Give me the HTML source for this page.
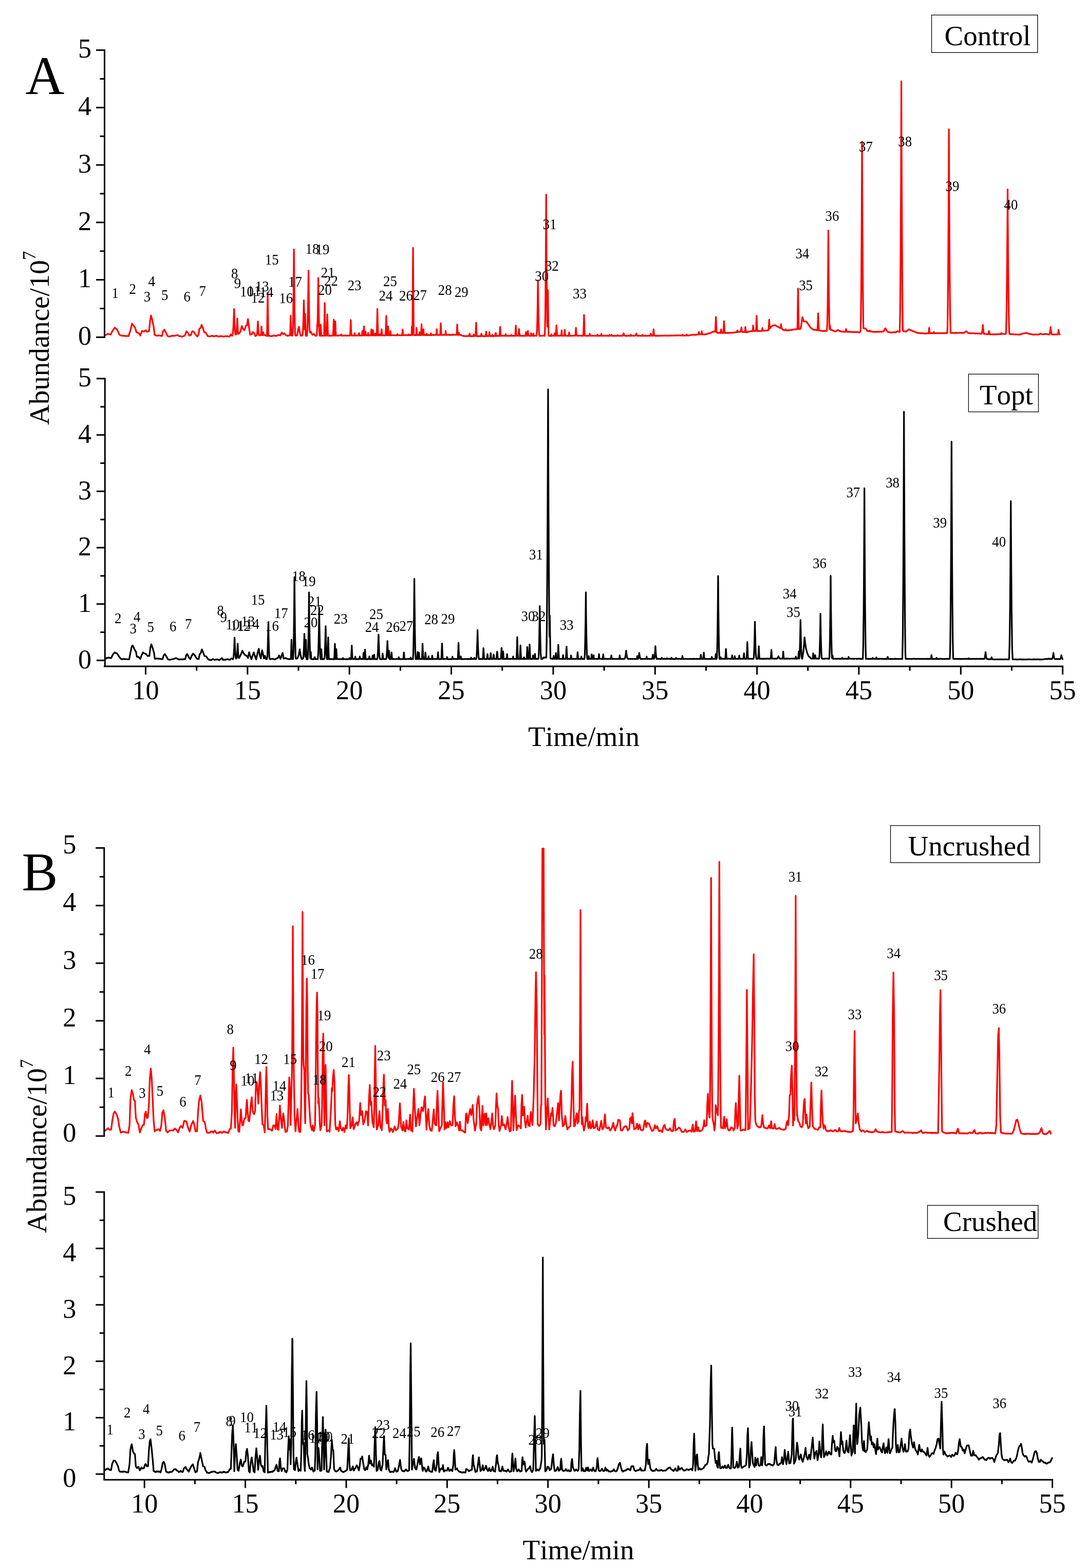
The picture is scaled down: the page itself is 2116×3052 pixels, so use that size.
<!DOCTYPE html>
<html lang="en"><head><meta charset="utf-8"><title>Chromatograms</title>
<style>
html,body{margin:0;padding:0;background:#fff;}
body{width:2116px;height:3052px;overflow:hidden;}
svg{display:block;}
text{font-kerning:none;font-family:'Liberation Serif', 'DejaVu Serif', serif;fill:#000;}
.tk{font-size:53.8px;}
.ti{font-size:55px;}
.pl{font-size:105px;}
.lg{font-size:55px;}
.pk{font-size:29px;text-anchor:middle;}
</style></head>
<body>
<svg xmlns="http://www.w3.org/2000/svg" width="2116" height="3052" viewBox="0 0 2116 3052">
<rect x="0" y="0" width="2116" height="3052" fill="#fff"/>
<path d="M204.5,652.3 205.5,652 206.5,651.7 207.5,651 208.5,650.6 209.5,650.3 210,649.8 210.5,650.1 211.5,650.3 212.5,650.6 213.5,650.4 214.5,650.7 215.5,650.7 215.5,651.2 216.5,649.1 217.5,646.6 218.5,645.1 218.8,644.5 219.5,643.3 220.5,641.9 221.5,640.3 222.5,638.8 223.3,638 223.5,637.8 224.5,638.7 225.5,639.5 226.5,640.2 227.5,641.2 228.1,641.7 228.5,642.9 229.5,644.9 230.5,647.2 231.5,649.3 232.5,651.6 232.6,651.7 233.5,651.9 234.5,652.7 235.5,653 236.5,653.3 237.5,653.6 237.6,653.4 238.5,653.4 239.5,653.5 240.5,653.4 241.5,653.9 242.5,653.7 243.5,654 244.5,653.8 245.5,654.2 246.5,654.2 247.5,653.8 248.5,654 249.5,654.4 250.1,654.2 250.5,653.4 251.5,650.2 252.5,647.1 253.1,645.5 253.5,644.2 254.5,639.9 255.5,635.9 256.5,632.1 257.1,630 257.5,630.4 258.5,631.5 259.5,633.1 260.5,634.6 260.9,635.2 261.5,636.3 262.5,637 263.2,638 263.5,639.1 264.5,642.5 265.5,646.3 265.7,646.5 266.5,647.1 267.5,647.2 268.5,647.8 269.5,648 270.2,648.3 270.5,649.2 271.5,650.6 272.5,651.8 273.2,653.2 273.5,652 274.5,649.4 275.5,647 276.4,644.3 276.5,644 277.5,644.9 278.5,644.7 279.5,645.1 280.2,645.6 280.5,645.1 281.5,644.3 282.5,643.4 283.5,642.7 283.5,643 284.5,643.8 285.5,645.1 286.5,645.9 286.5,645.9 287.5,645.8 288.5,645 289.5,644.6 290.2,644.4 290.5,641.1 291.5,630.3 292,625.7 292.5,622.7 293.5,616.7 294,614 294.5,616.1 295.5,619.7 296.5,622.7 296.5,623.2 297.5,628.2 298.5,633 299,635.4 299.5,639.3 300.5,647.4 301,652 301.5,651.8 302.5,652.5 303.5,652.6 304.5,653.4 305.3,653.5 305.5,653.3 306.5,653.2 307.5,653.4 308.5,652.9 309.5,652.9 310.3,653 310.5,653.2 311.5,653.4 312.5,653.4 313.5,654 314.5,653.9 315.3,653.9 315.5,653.2 316.5,648.9 317.3,645.2 317.5,645 318.5,643.6 319.5,642.2 319.8,641.5 320.5,642.8 321.5,644.8 322.5,646.5 322.8,646.8 323.5,648.4 324.5,650.7 325.5,652.7 326.1,654 326.5,654 327.5,654.7 328.5,654.8 329.5,655.1 330.3,654.7 330.5,655 331.5,654.6 332.5,654.5 333.5,653.9 334.5,654 335.3,653.2 335.5,653.5 336.5,653.6 337.5,653.7 338.5,653.6 339.5,653.6 340.4,653.7 340.5,653.7 341.5,653.1 342.5,653 343.5,652.8 344.5,652.5 345.4,651.9 345.5,652.2 346.5,652.9 347.5,653.3 348.5,653.9 349.1,654.2 349.5,654.3 350.5,654.5 351.5,654.3 352.5,654.7 353.5,655.1 354.5,655.1 355.4,655.1 355.5,654.9 356.5,654.6 357.5,654.1 358.5,653.6 359.5,653.4 359.9,652.7 360.5,651.5 361.5,648.3 362.5,645.9 362.9,644.7 363.5,645.2 364.5,646.6 365.5,647.5 365.9,648 366.5,649.5 367.5,651.3 368.4,653.2 368.5,653.3 369.5,653 370.5,652.2 371.5,651.6 371.7,652 372.5,649.5 373.5,646.6 374.2,644.9 374.5,644.7 375.5,645.3 376.5,645.4 377.4,645.9 377.5,646.2 378.5,648 379.5,649.6 380.4,650.9 380.5,651.1 381.5,652 382.5,652.9 383.5,654.2 384.2,655.2 384.5,654.7 385.5,652.8 386.5,651.1 386.7,650.3 387.5,643.7 388,639.9 388.5,639.5 389.5,638.9 390.5,638.4 390.5,638.4 391.5,635.2 392.5,632.1 392.5,632.4 393.5,635 394.5,637.2 395,638.2 395.5,639.9 396.5,643.7 397.5,646.4 397.5,646.8 398.5,647 399.5,647.1 400.5,647.6 401.5,649 402.5,650.8 403.5,652.8 404.3,653.9 404.5,654.5 405.5,654.3 406.5,654.5 407.5,654.6 408,655.1 408.5,654.8 409.5,654.6 410.5,654.3 411.5,654.1 412.5,653.9 413,653.6 413.5,653.5 414.5,654.1 415.5,654.3 416.5,654.6 416.8,655 417.5,654.8 418.5,654.1 419.5,653.8 420.5,653.4 420.6,653.6 421.5,653.8 422.5,654.1 423.5,654.5 424.5,654.6 425.5,655.1 425.6,655.2 426.5,654.6 427.5,655 428.5,654.7 429.5,654.2 430.5,654.2 430.6,654.3 431.5,654.6 432.5,654.5 433.5,654.7 434.5,655.1 435.5,655.2 435.6,655.3 436.5,654.8 437.5,654.8 438.5,654.4 439.5,654.5 440.5,654.4 440.6,654.3 441.5,654.5 442.5,654.3 443.5,654.8 444.5,655 445.5,655.1 446.5,655 446.9,655.2 447.5,653.7 448.5,652.3 449.4,650.7 449.5,650.6 450.5,651.9 451.4,653.4 451.5,653.5 452.3,653.4 452.5,653.1 453.3,649.2 453.5,647.8 454.1,638.1 454.5,631.8 454.8,624.5 455.3,611.5 455.5,606.1 455.6,601.4 456,611.4 456.5,624.7 456.5,625.6 457.1,638.6 457.5,644.3 457.9,649.7 458.5,651.3 458.9,651.4 459.1,650.8 459.5,650.8 460,650.8 460.5,645.8 460.7,644 461.2,634.8 461.5,629.1 461.6,626.4 461.9,619.8 462.2,626.1 462.5,632.9 462.6,634.9 463.1,644.1 463.5,647.9 463.8,649.8 464.5,649.7 464.7,649.4 465.2,649.3 465.5,648.6 466.5,647.6 467.5,646.3 468.2,645.5 468.5,643.8 469.5,640 470.5,635.5 470.7,634.6 471.5,636.8 472.5,638.9 473.2,640.4 473.5,640.9 474.5,641.5 475.5,642.8 475.7,642.9 476.5,640.9 477.5,637.9 478.5,634.6 478.7,634.2 479.5,633.5 480.5,633 480.7,633.1 481.5,628.5 482.5,622.4 482.7,621.1 483.5,627.4 484.5,635.5 484.5,635.9 485.5,642 486.5,648.9 487,651.4 487.5,651.3 488.5,651 489.5,650.9 490.2,650.4 490.5,649.8 491.5,647.8 492,646.5 492.5,647.1 493.5,647.3 494.5,648 494.5,647.9 495.5,650.3 496.5,653 497,654.2 497.5,653.9 498.5,653.4 499.2,653.1 499.5,652.8 500.1,651.4 500.5,648.4 500.8,645.7 501.3,638 501.5,635.2 501.7,630.9 502,625.7 502.3,630.7 502.5,635 502.7,638.1 503.2,645.8 503.5,648.1 503.9,651.5 504.5,652.8 504.8,652.4 505.5,652.8 506.5,652.7 507.5,652.1 507.7,652.2 508.1,649.6 508.4,644.7 508.5,643.3 508.7,641 508.9,637.5 509,635.7 509.2,637.4 509.4,640.7 509.5,642.9 509.6,644.5 510,649.3 510.4,652.2 510.5,652.4 511.5,652.3 511.6,651.8 511.9,652 512.1,650.6 512.3,648.8 512.4,647.7 512.5,646.8 512.5,646.5 512.6,647.3 512.8,648.6 512.9,650.5 513.2,651.9 513.4,651.9 513.5,651.7 514.5,651.6 515.3,651.6 515.5,652.1 516.5,652.7 517.5,653.3 518.3,653.2 518.5,653.2 519.5,653.8 519.7,653.6 520.1,632.8 520.4,611.5 520.5,607.6 520.7,593.3 520.9,578.5 521,569.3 521.2,578.6 521.4,593.1 521.5,600.7 521.7,611.1 522,632.9 522.4,653.9 522.5,653.7 523.5,653.7 524.5,653.7 525.5,654 526.5,653.8 527.5,654.4 528.3,654.4 528.5,654.3 529.5,654.2 530.5,653.8 531.5,653.4 532.5,653.3 533.3,653 533.5,653.3 534.5,653.3 535.5,653.2 536.5,653.7 537.5,653.8 538.4,653.9 538.5,653.8 539.5,653.1 540.5,652.8 541.5,652.3 542.1,651.8 542.5,652 543.5,652.4 544.5,652.5 545.5,653 545.9,652.7 546.5,651.4 547.5,649.2 548.4,646.9 548.5,647.3 549.5,648.8 550.5,650.1 550.9,650.3 551.5,650.3 552.5,649.4 553.4,648.6 553.5,649 554.5,650.1 555.5,651.3 555.9,651.7 556.5,652.3 557.5,652.6 558.5,653.1 559.5,653.6 559.6,653.8 560.5,653.1 561.5,653.3 562.5,653.2 563.4,652.8 563.5,652.9 564.5,652.7 564.6,652.8 565,644 565.3,633.7 565.5,627.8 565.6,625.6 565.8,618.7 565.9,614.3 566,619 566.2,625.4 566.5,633.6 566.5,634 566.9,644.3 567.3,652.7 567.5,653 568.5,653.1 569.4,652.7 569.5,653.2 570.2,638.8 570.5,628.4 570.9,602.9 571.5,559.2 571.5,558.3 571.9,517.5 572.2,485.4 572.5,517.6 572.5,522 572.9,559.2 573.4,602.9 573.5,608.1 574.1,639.1 574.5,650 574.9,652.9 575.5,653.1 576.5,652.9 577.5,652.7 578.5,652.8 578.5,652.4 579.5,646.2 580.5,640.6 580.5,640.2 581,639.3 581.3,638.3 581.5,637.2 581.5,637.7 581.7,637.1 581.9,636.1 582,636.4 582,636.5 582.1,637.3 582.3,638.7 582.5,639.7 582.5,640 582.7,641.9 583.1,644.1 583.5,646.7 583.5,647.1 584.5,650.4 585.5,653.5 585.5,653.2 586.5,653.4 587.5,653 588,652.8 588.5,652.7 588.7,653 589.5,648.5 589.5,647.9 590.2,633.2 590.5,625.2 590.8,614.9 591.2,598 591.5,584.6 591.5,585.8 591.8,597.6 592.2,615.4 592.5,626.9 592.6,630.7 592.7,633 593,640.9 593.4,632.3 593.4,631.2 593.5,628 593.6,622.5 593.9,615.2 594,610.7 594.1,615.4 594.2,619.8 594.3,622.7 594.5,629.1 594.6,631.9 594.9,643 595.3,653.7 595.5,653.6 596.5,653.7 597.5,653.2 597.5,653.2 597.5,653.3 598.4,642 598.5,640.3 599.2,614.7 599.5,599.3 599.8,582 600.2,550.2 600.5,530.8 600.5,526.6 600.9,550.3 601.3,582 601.5,593.5 601.9,615.1 602.5,637.2 602.7,642.1 603.5,647.3 603.6,646.8 604.5,645.8 605.1,645.7 605.5,646.4 606.5,648.6 607.5,650.4 608.1,651.7 608.5,651.4 609.5,651.1 610.5,650.3 611.3,650.1 611.5,650.5 612.5,651.5 613.5,653 613.8,653.6 614.5,653.7 615.5,653.4 616.5,653.4 616.7,653.2 616.8,650.8 617,647.5 617.2,641.6 617.4,636.9 617.5,633.2 617.6,630.7 617.7,632.5 617.7,633.1 617.8,636.7 618,633.5 618.2,625.1 618.4,619.1 618.5,612.7 618.9,590.3 619.3,562.7 619.5,548.8 619.6,540.8 619.9,561.9 620.3,590.4 620.5,602.4 620.8,619.2 621.5,642.8 621.5,643.4 622.4,653.7 622.5,653.7 623.2,653.7 623.5,648.3 623.5,648.2 623.8,642.4 624.1,637.7 624.2,634.1 624.4,632 624.5,634.4 624.5,634.4 624.7,637.7 624.9,642.4 625.2,647.9 625.5,652.7 625.6,653.3 626.5,653.2 627.5,653.4 628.5,653.6 629.5,653.4 630.5,653.6 630.8,653.4 631.2,637.4 631.5,622.6 631.5,621.6 631.8,607.5 632,596.8 632.1,589.6 632.3,597.1 632.5,607.7 632.5,609.5 632.7,621.5 633.1,637.8 633.5,653.1 633.5,653.4 634.5,653.5 635.5,653.1 635.8,653.1 636.2,643 636.5,633.8 636.5,632.3 636.8,623.7 637,616.1 637.1,611.9 637.3,616.6 637.5,623.2 637.5,623.9 637.8,632.5 638.1,643 638.5,653.5 639.5,653.3 640.5,653.2 641.5,653.6 642.5,653.4 643.5,653.3 644.5,653.3 645.5,653.4 646.5,653.4 647.5,653.5 648.3,653.2 648.5,650.6 648.7,645.5 649.1,637.6 649.3,630.7 649.5,626.5 649.5,625.5 649.7,622 649.8,625.4 650,630.6 650.3,637.5 650.5,642.9 650.6,645.4 651,653.2 651.5,653 651.5,653.4 651.8,646.7 652.1,639.3 652.4,633.1 652.5,630.1 652.6,628.6 652.7,625.3 652.8,628.8 653,633 653.2,639.2 653.5,645.7 653.5,646.5 653.9,653.4 654.5,653 655.5,653 656.5,653.2 657.5,653.3 658.5,653.5 659.5,652.9 660.5,653 661.5,653 662.5,653 663.1,653 663.3,653 663.5,652.4 663.5,652.1 663.7,651.5 663.9,651.1 664,650.8 664,651.4 664.2,651.6 664.4,652.3 664.5,652.8 664.6,652.8 664.9,653 665.5,653.4 666.5,653.4 667.5,653.1 668.5,653.2 669.5,653.4 670.5,653.1 671.5,653 672.5,652.8 673.5,653.4 674.5,653.3 675.5,653 676.5,653.1 677.5,653.1 678.5,652.9 679.5,653.4 680.5,653.2 681.5,652.9 681.5,652.8 681.9,645.9 682.2,637.9 682.5,631.6 682.5,630.4 682.6,626.4 682.8,622.8 682.9,626.3 683.1,631.5 683.3,638 683.5,643.6 683.6,645.9 684,653.1 684.5,653.3 685.5,652.9 686.5,653.1 687.5,652.8 688.5,653.2 689.4,652.7 689.5,653.2 689.6,652.5 689.9,651.2 690,649.6 690.2,648.9 690.3,648.6 690.4,648.8 690.5,649.9 690.7,650.9 690.9,652.5 691.2,653.1 691.5,653.2 692.5,652.9 693.5,653.2 694.5,652.9 695.5,653.2 696.5,652.7 697.5,653.2 697.8,652.8 698.2,652.2 698.5,651 698.5,650.7 698.8,650.1 698.9,648.9 699,648.4 699.2,648.8 699.4,649.8 699.5,650.6 699.6,651.1 699.9,652.1 700.2,653.1 700.5,652.7 701.5,652.9 702.5,652.9 703.5,653.2 704.4,653.1 704.5,652.9 704.7,650.9 704.9,648.7 705.1,646.9 705.2,645.1 705.3,644.3 705.4,645.2 705.5,646.1 705.5,647.1 705.7,649 705.9,650.9 706.2,653 706.5,652.8 707.2,652.8 707.5,650.5 707.6,648.9 708,644.3 708.2,640.5 708.4,637.5 708.5,636.4 708.6,635.3 708.7,637.7 708.9,640.4 709.2,644.7 709.5,648.8 709.5,649.1 709.9,652.8 710.5,653.1 710.7,652.6 711,651.2 711.2,649.2 711.4,647.9 711.5,646.5 711.5,646.1 711.6,645.4 711.7,646.6 711.8,647.7 712,649.2 712.2,651.3 712.5,652.7 712.5,652.6 713.5,652.8 714.5,652.6 715.5,653.1 715.7,652.8 716,652.1 716.2,650.8 716.4,649.7 716.5,648.8 716.6,647.9 716.7,648.5 716.8,649.5 717,650.4 717.2,652 717.5,653 717.5,653.1 718.5,653 719.5,652.9 720.5,652.9 721.5,652.5 721.8,652.7 722.1,650.3 722.4,647.3 722.5,645.5 722.6,644.5 722.8,642.4 722.9,641.2 723,642.5 723.1,644.5 723.3,647 723.5,649.4 723.6,650.5 723.9,652.8 724.5,652.7 725.1,652.8 725.4,650.5 725.5,649.6 725.6,648.2 725.9,645.6 726,643.8 726.1,642.7 726.2,643.5 726.4,645.8 726.5,647 726.6,647.8 726.9,650.5 727.2,652.6 727.5,652.8 728.5,652.9 729.5,652.7 729.5,653 729.7,652.4 730,651.3 730.1,650.2 730.3,650 730.4,649 730.5,650 730.5,649.9 730.6,650.5 730.8,651.4 731,652.3 731.3,653 731.5,653 732.5,652.9 733.3,652.8 733.5,646.9 733.7,640.5 734,626.8 734.3,615.8 734.5,606.8 734.6,601 734.8,607 735,615.3 735.2,627.2 735.5,636.9 735.6,639.9 736,652.5 736.5,653 737.5,653 738.4,652.8 738.5,652.6 738.6,652.8 738.8,652.1 739,651.3 739.1,650.9 739.1,650.7 739.2,650.5 739.3,651.2 739.5,652 739.5,651.8 739.7,652.6 739.9,652.7 740.5,652.5 741.5,652.7 741.9,652.5 742.2,650.4 742.4,647.1 742.5,646.4 742.6,644.3 742.8,642.5 742.9,640.8 743,642.6 743.2,644.5 743.4,647.2 743.5,648.6 743.6,650.4 744,652.8 744.5,652.8 745.5,652.8 746.5,652.6 747.5,652.9 748.5,652.8 749.5,652.9 750.5,652.6 750.6,652.6 751,643.9 751.3,634.2 751.5,628.5 751.6,625.6 751.8,619.2 751.9,614.9 752.1,619.1 752.3,625.4 752.5,632.9 752.5,634.2 752.9,644 753.3,652.7 753.5,652.8 754.4,652.5 754.5,652.1 754.7,648.7 755,644.3 755.2,640.4 755.3,637.6 755.4,635.4 755.5,636.4 755.5,637.5 755.7,640.5 755.9,644.2 756.2,648.9 756.5,652.5 756.5,652.4 757.5,652.3 758.5,652.8 758.9,652.9 759.2,651.3 759.5,649 759.5,648.6 759.7,647 759.8,645.1 760,644.4 760.1,645.4 760.2,647 760.4,648.5 760.5,649.7 760.7,651 761,652.6 761.5,652.8 762.5,652.3 763.5,652.4 764.5,652.4 765.5,652.4 766.5,652.3 767.5,652.8 768.5,652.7 769.5,652.5 770.5,652.4 771.5,652.6 772.5,652.2 772.6,652.2 772.9,652.7 773.1,651.5 773.3,650.8 773.4,650.4 773.5,650 773.5,649.8 773.6,650 773.7,650.7 773.9,651.8 774.1,652.7 774.4,652.3 774.5,652.7 775.5,652.4 776.5,652.5 777.5,652.3 778.5,652.7 779.5,652.8 780.5,652.3 781.5,652.5 782.5,652.2 782.7,652.7 783,650.1 783.3,646.9 783.5,644.6 783.6,642.3 783.8,641.2 783.9,642.5 784,644.6 784.2,646.9 784.5,650.5 784.8,652.7 785.5,652.4 786.5,652.2 787.5,652.2 788.5,652.3 789.5,652.5 790.5,652.2 791.5,652.2 792.5,652.2 793.5,652.5 794.5,652.5 794.8,652.3 795,652.5 795.2,652.2 795.4,651.4 795.5,650.7 795.5,650.5 795.5,650.7 795.6,650.9 795.7,651.2 795.9,652.1 796.1,652.1 796.3,652.6 796.5,652.3 797.5,652.4 798.5,652.4 799.5,652.1 800.5,652.4 800.9,652.2 801.2,648.9 801.4,644.6 801.5,642 801.6,640.4 801.7,637.7 801.8,635.4 801.9,637.3 802,640.5 802.2,644.2 802.4,649.3 802.5,650.5 802.7,652 803.1,611 803.5,567.8 803.5,560.9 803.7,531.2 803.9,502.7 804.1,482.4 804.2,502.7 804.4,531 804.5,544.6 804.7,567.7 805,611.1 805.4,652.3 805.5,652.3 806.5,652.5 807.5,652.4 808.5,652.3 809.5,652.5 809.6,652.1 810,649.8 810.3,645.4 810.5,642.8 810.5,642.1 810.7,639.6 810.8,638.2 811,639.9 811.1,642.5 811.4,645.5 811.5,647.4 811.7,649.4 812,652.3 812.5,652.2 813.5,652 814.5,652.3 815.5,652.4 815.9,652.3 816.2,652 816.4,649.9 816.5,649.4 816.6,648.3 816.8,647.5 816.8,646.7 816.9,647.4 817.1,648.5 817.2,650.3 817.5,651.5 817.5,652.2 817.7,652.3 818.5,652.2 819.4,652.4 819.5,652 819.8,647.7 820.1,642.2 820.3,637.2 820.5,633.6 820.5,633.4 820.6,631.2 820.7,633.5 820.9,637.5 821.1,642 821.4,648 821.5,648.7 821.8,652 822.5,652 823.3,652.3 823.5,651.9 823.6,650.6 823.9,646.9 824.1,644.4 824.3,642.2 824.4,640.8 824.5,642.7 824.5,642.6 824.6,644.4 824.8,647.3 825.1,650.7 825.4,652 825.5,652.1 826.5,652.3 827.5,651.9 828.5,652 829.5,652.4 829.7,651.9 830,652.1 830.2,651.2 830.4,650.4 830.5,649.6 830.5,649.4 830.6,649.5 830.7,649.9 830.9,650.6 831,651.2 831.3,652 831.5,652.2 831.5,652 832.5,652.1 833.5,652.4 834.5,652 835.5,652 836.5,652.4 837.5,652.2 838,651.8 838.3,652 838.5,651.1 838.5,650.6 838.7,649.8 838.8,649.1 838.9,648.7 839,649.1 839.1,650.1 839.3,650.9 839.5,652 839.5,652.3 839.8,652 840.5,652.2 841.5,651.9 842.5,652 843.5,651.9 844.5,652.1 845.5,651.8 846.5,651.9 847.5,651.9 848.5,652 849.1,651.9 849.4,650.3 849.5,649.9 849.7,647.3 849.9,644.7 850.1,642.2 850.2,640.9 850.3,642.1 850.4,644.6 850.5,645.2 850.6,647.1 850.9,650 851.2,651.8 851.5,651.9 852.5,651.9 853.5,652.2 854.5,652.1 855.5,651.8 856.5,651.9 856.7,651.8 857.1,647.7 857.4,641.2 857.5,639.3 857.6,636.2 857.8,632.3 857.9,629 858.1,632 858.2,636 858.5,641.1 858.5,641.8 858.8,647.3 859.1,652.1 859.5,652 860.5,651.7 861.5,651.9 862.5,651.8 863.5,651.7 864.5,651.7 865.5,652 866.4,651.6 866.5,651.8 866.7,651.1 867,648.9 867.2,646.6 867.4,645.4 867.5,644.1 867.5,644.7 867.6,645.3 867.7,646.6 867.9,648.6 868.2,651.1 868.5,652 868.5,651.8 869.5,651.8 870.5,652.1 871.5,651.7 872.5,651.7 873.5,651.8 873.7,651.7 874,651.6 874.1,651.6 874.3,651.8 874.4,651.3 874.5,651.2 874.5,651.3 874.6,651.1 874.7,651.8 874.8,652.1 875,651.7 875.2,652 875.5,652 876.5,652.1 877.5,652.1 878.5,651.7 879.5,651.9 880,651.6 880.2,651.8 880.4,651.8 880.5,651.6 880.6,651.6 880.7,651.1 880.8,651 880.8,651.1 880.9,651.5 881.1,651.8 881.3,651.8 881.5,651.6 882.5,651.9 883.5,651.6 884.5,651.6 885.5,651.7 886.5,651.7 887.5,651.6 888.5,651.8 888.8,651.9 889.2,648.1 889.5,642.7 889.5,641.9 889.7,637.8 889.9,634.2 890,631.5 890.1,634.2 890.3,637.6 890.5,641.2 890.6,642.6 890.9,648.1 891.2,651.7 891.5,651.6 892.2,651.5 892.5,651.7 892.5,652 892.8,650.7 893,649.4 893.2,648.7 893.3,647.8 893.4,648.6 893.5,649.3 893.5,649.8 893.8,650.6 894,651.8 894.3,652 894.5,651.9 895.5,651.8 895.8,651.8 896.5,651.9 897.5,652.2 898.5,652.5 899.5,653.2 900.5,653.5 901.5,653.6 902.5,654.2 903.3,654 903.5,654 904.5,654.2 905.5,654.1 906.5,654.2 907.5,654.5 908.5,654 909.5,654.1 910.5,654.1 911.5,654.3 912.5,654.1 913,653.9 913.4,652.4 913.5,651.7 913.6,651.2 913.8,650.4 914,649.8 914.1,649.3 914.2,649.8 914.4,650.5 914.5,651.3 914.6,651.6 914.8,652.3 915.1,654.1 915.5,654.5 916.5,654.1 917.5,654.4 918.5,654.4 919.5,654.3 920.5,654.5 921.2,654.4 921.5,652.7 921.5,652.9 921.7,652.2 921.9,651.7 922,651.2 922.1,650.9 922.2,651.4 922.3,651.7 922.5,652 922.5,652.1 922.7,652.8 923,654 923.5,654.2 924.5,654 925.5,654 925.7,654 926,646.7 926.3,640.7 926.5,636.4 926.6,635 926.8,630.9 926.9,628 927,630.7 927.2,635.4 927.4,640.9 927.5,642.4 927.7,646.9 928.1,653.5 928.5,654.4 929.5,654.2 930.5,654.4 931.5,654.1 932.5,654.4 933.5,654.1 934.5,654.1 935.5,654.4 936.1,654.4 936.4,652.6 936.5,652.1 936.7,651.3 936.9,650.5 937,649.8 937.1,649.4 937.2,649.9 937.4,650.2 937.5,650.8 937.6,651.5 937.9,652.3 938.2,654 938.5,653.9 939.5,654.3 940.5,654.5 941.5,654.5 942.5,654 943.5,654.3 944.5,654.2 945.5,654.3 945.5,654.2 945.8,651.8 946,649.7 946.2,647.5 946.3,646.5 946.4,645.3 946.5,646 946.5,646.3 946.6,647.8 946.8,649.7 947,651.3 947.3,654.1 947.5,654 948.5,654.3 949.5,654.2 950.5,654.2 951.5,654.1 951.8,653.7 952,651.9 952.3,649.7 952.5,648.2 952.5,647.9 952.6,647.2 952.7,646.5 952.8,647 952.9,648.4 953.1,649.9 953.3,651.8 953.5,652.8 953.6,653.3 954.5,654 955.5,654.5 956.5,654.1 957.5,654.2 957.7,654 957.9,652.9 958.1,652.3 958.3,652.3 958.4,651.7 958.5,651.8 958.5,651.7 958.5,651.8 958.6,652.2 958.8,652.5 959,652.9 959.2,654 959.5,654 960,654.5 960.5,654.1 961.5,653.9 962.5,654 963.5,654.1 963.6,654.3 963.9,652.4 964.1,651.4 964.3,650 964.3,649.8 964.4,649.3 964.5,648.5 964.5,648.2 964.6,649 964.6,649.2 964.7,650.1 964.8,650.4 964.9,650.2 965,649.7 965.1,648.9 965.1,648.4 965.2,648.2 965.3,648.7 965.4,649.1 965.4,649.2 965.5,649.7 965.6,650.5 965.8,651.8 966.1,653.9 966.5,654.1 967.5,653.8 968.5,653.9 969.5,653.6 970.5,653.7 971.5,654.1 972.3,653.5 972.4,653 972.5,652.3 972.7,649.7 972.8,648.8 973,645 973,644.8 973.2,641.1 973.2,640.9 973.4,638.2 973.4,637.1 973.5,636.3 973.5,636.2 973.5,636.4 973.6,637 973.6,638.4 973.8,639.5 973.8,641.2 974,643.1 974.1,645 974.2,647.2 974.4,649.7 974.5,651.4 974.5,651.7 974.7,653.8 975.5,653.6 976.5,653.5 977.5,653.8 978.5,653.4 979.5,653.3 980,653.4 980.5,653.6 981.5,653.3 982.5,653.6 983.4,653.5 983.5,653.6 983.7,652.9 983.9,652 984.1,651.2 984.2,650.8 984.3,650.4 984.4,650.6 984.5,651.3 984.5,651.4 984.7,652.1 984.9,653.1 985.2,653.8 985.5,653.3 986.5,653.7 987.5,653.4 988.5,653.6 989.5,653.2 990.5,653.8 991.5,653.4 992.5,653.8 993.5,653.3 994.5,653.4 994.7,653.6 995,653.2 995.2,652.7 995.4,652.5 995.5,652.3 995.6,651.6 995.7,651.8 995.8,652.3 996,653.1 996.2,653.2 996.5,653.6 996.5,653.4 997.5,653.6 998.5,653.3 999.5,653.6 1000.5,653.7 1001.5,653.7 1002.5,653.6 1002.9,653.5 1003.3,648.8 1003.5,644.6 1003.6,643.8 1003.8,639.3 1004,635.8 1004.1,633.5 1004.2,635.7 1004.4,639.1 1004.5,640.7 1004.6,643.7 1005,648.8 1005.3,653.5 1005.5,653.2 1006.5,653.6 1007.5,653.5 1008.5,653.5 1009.2,653.5 1009.5,651.2 1009.5,650.4 1009.8,647.2 1010.1,644.5 1010.3,642.1 1010.4,640.4 1010.5,642.2 1010.7,644.6 1010.9,647.2 1011.2,650.8 1011.5,653.2 1011.6,653.8 1012.5,653.5 1013.5,653.3 1014.5,653.7 1015.5,653.6 1016.5,653.7 1017.5,653.7 1018.5,653.7 1019.5,653.5 1020.5,653.8 1021.5,653.2 1022.5,653.7 1022.9,653.6 1023.2,651.9 1023.4,650.2 1023.5,649.6 1023.6,648.4 1023.8,647.4 1023.9,646 1024,647 1024.2,648.5 1024.4,649.8 1024.5,651 1024.7,652.2 1025,653.5 1025.5,653.3 1026.5,653.7 1026.6,653.7 1026.9,651.7 1027.2,649.1 1027.4,647.2 1027.5,646.2 1027.6,645.2 1027.7,644.1 1027.8,645 1027.9,646.7 1028.1,648.9 1028.4,651.8 1028.5,652.6 1028.7,653.3 1029.5,653.3 1030.5,653.4 1031.5,653.7 1032.5,653.6 1033,653.7 1033.3,652.4 1033.5,651.7 1033.5,651 1033.7,650.1 1033.8,649.4 1033.9,648.6 1034,649 1034.2,650.1 1034.3,651.2 1034.5,651.9 1034.6,652.5 1034.8,653.4 1035.5,653.6 1036.5,653.4 1037.3,653.5 1037.5,653.2 1037.6,652.6 1037.8,651.4 1038,650.7 1038.1,649.7 1038.2,649 1038.3,649.6 1038.4,650.8 1038.5,651.1 1038.6,651.5 1038.8,652.6 1039.1,653.8 1039.5,653.6 1040.5,653.6 1041.5,653.4 1042.5,653.4 1043.5,653.4 1044.5,653.3 1044.5,653.6 1045.3,644.1 1045.5,638.7 1046,620.9 1046.5,594.5 1046.5,592.7 1046.9,566.3 1047.2,545.3 1047.5,565.7 1047.5,566.2 1047.9,593 1048.5,621 1048.5,623.1 1049.2,644.1 1049.5,651 1050,653.6 1050.5,653.5 1051.5,653.7 1052.5,653.4 1053.5,653.6 1054.5,653.5 1055.5,653.5 1056.5,653.2 1057.5,653.4 1058.5,653.4 1059.5,653.4 1060.3,653.8 1060.5,652 1061.2,628.3 1061.5,608 1061.9,570.3 1062.5,498.1 1062.5,496.5 1062.9,432 1063.2,378.9 1063.5,431.7 1063.5,433.4 1063.9,498.3 1064.5,570.6 1064.5,571.5 1065.2,625.9 1065.2,628 1065.5,636 1065.6,631.1 1065.9,608.5 1066.1,597.8 1066.2,589.3 1066.4,574.5 1066.5,565.2 1066.5,564.5 1066.7,574.4 1066.8,588.7 1067.1,609.2 1067.5,631.2 1067.5,633.7 1067.9,653.5 1068.5,653.4 1069.5,653.6 1070.5,653.5 1071.5,653.8 1072.5,653.8 1072.5,653.8 1072.8,653 1072.9,652.4 1073.1,651.5 1073.2,651 1073.3,650.8 1073.4,650.6 1073.5,651.4 1073.5,651.6 1073.6,652.3 1073.8,652.9 1074,653.8 1074.5,653.3 1075.5,653.4 1076.5,653.3 1077.5,653.4 1078.5,653.6 1078.9,653.2 1079.2,652.4 1079.4,651.3 1079.5,650.6 1079.6,650.2 1079.7,648.9 1079.8,648.7 1079.9,649.2 1080,650.2 1080.2,651 1080.4,652.6 1080.5,652.7 1080.7,653.7 1081.5,653.8 1082,653.7 1082.4,648.4 1082.5,646.5 1082.7,643.4 1083,638.9 1083.2,635.2 1083.3,633.1 1083.4,635.2 1083.5,636.3 1083.7,638.7 1083.9,643.5 1084.3,648.6 1084.5,651.9 1084.7,653.5 1085.5,653.4 1086.5,653.7 1087.5,653.3 1088.5,653.4 1089.5,653.2 1090.5,653.3 1091.5,653.5 1092.3,653.5 1092.5,652.1 1092.6,651.3 1092.9,647.9 1093.1,645.9 1093.2,643.5 1093.3,642.8 1093.4,643.8 1093.5,644.5 1093.6,645.8 1093.8,648.4 1094.1,651.4 1094.4,653.4 1094.5,653.2 1095.5,653.3 1096.5,653.7 1097.5,653.6 1098.3,653.6 1098.5,651.9 1098.6,650.9 1098.9,647.6 1099.1,644.9 1099.2,643 1099.3,642 1099.5,643.1 1099.5,643.9 1099.6,644.9 1099.8,647.7 1100.1,650.7 1100.4,653.3 1100.5,653.3 1101.5,653.7 1102.5,653.4 1103.5,653.5 1104.5,653.6 1105.5,653.7 1106.5,653.8 1106.8,653.5 1107.1,652.3 1107.4,650.8 1107.5,649.8 1107.6,649 1107.8,648.2 1107.9,647.1 1108,647.9 1108.1,649.1 1108.3,650.5 1108.5,651.5 1108.6,652.3 1108.9,653.5 1109.5,653.2 1110.5,653.7 1111.5,653.2 1112.5,653.5 1113.5,653.5 1114.5,653.4 1115.5,653.3 1116.5,653.2 1117.5,653.4 1118.5,653.4 1119.5,653.5 1120,653.3 1120.3,650.3 1120.5,647.7 1120.6,645.9 1120.8,642.8 1121,640.5 1121.2,638.2 1121.3,640.2 1121.5,643 1121.5,643.4 1121.7,646.2 1122,650 1122.4,653.4 1122.5,653.5 1123.5,653.5 1124.5,653.4 1125.5,653.5 1126.5,653.5 1127.5,653.6 1128.5,653.2 1129.5,653.2 1130.5,653.3 1131.5,653.3 1132.5,653.7 1133.5,653.4 1134.5,653.7 1135.5,653.4 1135.6,653.4 1136,643.9 1136.3,633.2 1136.5,628.2 1136.6,624.8 1136.8,617.4 1136.9,612.9 1137.1,617.8 1137.3,624.6 1137.5,631.8 1137.5,633 1137.9,643.9 1138.3,653.2 1138.5,653.6 1139.5,653.5 1140.5,653.7 1141.5,653.6 1142.5,653.2 1143.5,653.7 1144.5,653.6 1145.5,653.5 1146.5,653.2 1146.9,653.6 1147.2,652.9 1147.5,651.9 1147.7,651.2 1147.9,650.5 1148,649.5 1148.1,650.4 1148.2,650.9 1148.4,652 1148.5,652 1148.7,652.9 1149,653.4 1149.5,653.3 1150.5,653.4 1151.5,653.6 1152.5,653.2 1153.5,653.3 1154.5,653.7 1155.5,653.6 1156.5,653.5 1157.5,653.3 1158.5,653.3 1159.5,653.4 1160.5,653.8 1161.5,653.5 1162.1,653.7 1162.4,653.1 1162.5,652.9 1162.6,652.6 1162.8,652.2 1162.9,651.3 1163,651.5 1163.1,651.5 1163.2,651.7 1163.4,652.5 1163.5,652.8 1163.6,653.4 1163.9,653.7 1164.5,653.5 1165.5,653.6 1166.5,653.4 1167.5,653.7 1168.5,653.2 1169.5,653.6 1169.6,653.3 1169.9,653 1170.1,651.7 1170.3,650.8 1170.4,650 1170.5,649.8 1170.5,649.8 1170.6,650.2 1170.8,650.8 1170.9,651.9 1171.2,653.1 1171.4,653.4 1171.5,653.5 1172.5,653.5 1173.5,653.8 1174.5,653.4 1175.5,653.6 1176.5,653.3 1177.5,653.3 1178.5,653.6 1179.5,653.5 1180.5,653.3 1181.5,653.2 1182.5,653.7 1183.5,653.4 1184.5,653.6 1185.5,653.4 1185.9,653.6 1186.2,653.4 1186.4,653.1 1186.5,652.9 1186.6,652.3 1186.7,652 1186.8,651.6 1186.9,652.1 1187,652.1 1187.2,652.7 1187.5,653.6 1187.5,653.2 1187.7,653.6 1188.5,653.5 1189.5,653.5 1189.7,653.4 1189.9,653.2 1190.2,653.1 1190.3,652.5 1190.5,652.2 1190.5,651.7 1190.6,651.9 1190.7,651.8 1190.8,652.2 1191,652.9 1191.2,653.5 1191.5,653.3 1191.5,653.6 1192.5,653.5 1193.5,653.7 1194.5,653.7 1195.5,653.6 1196.5,653.4 1197.5,653.8 1198.5,653.6 1199.5,653.4 1200.5,653.7 1201.5,653.6 1201.8,653.3 1202.1,653.3 1202.3,652.9 1202.4,652.9 1202.5,652.6 1202.5,652.5 1202.6,652.3 1202.7,652.4 1202.8,652.9 1202.9,653.1 1203.1,653.4 1203.4,653.4 1203.5,653.5 1204.5,653.7 1205.5,653.3 1206.5,653.7 1207.5,653.7 1208.5,653.5 1209.5,653.5 1210.5,653.6 1211.1,653.5 1211.5,653.6 1212,653.7 1212.5,652.8 1212.6,652.2 1213.2,650.6 1213.5,650.2 1213.6,649.4 1213.9,648.7 1214.2,649.4 1214.5,650.6 1214.6,650.8 1215.1,652.5 1215.5,653.3 1215.8,653.5 1216.5,653.5 1216.6,653.4 1217.5,653.3 1218.5,653.8 1219.5,653.2 1220.5,653.7 1221.5,653.6 1222.5,653.2 1223.5,653.7 1224.5,653.2 1225.5,653.5 1226.5,653.3 1227,653.8 1227.3,653.3 1227.5,653.3 1227.6,652.6 1227.9,652.5 1228,651.7 1228.2,651.4 1228.3,652 1228.5,652.7 1228.5,652.5 1228.7,653.1 1229,653.6 1229.4,653.5 1229.5,653.2 1230.5,653.5 1231.5,653.3 1232.5,653.5 1233.5,653.4 1234.5,653.5 1235.5,653.3 1235.7,653.6 1236.5,653.4 1236.6,653.5 1237.3,652.3 1237.5,652.2 1237.9,651.3 1238.4,650.4 1238.5,649.9 1238.7,649 1239,650 1239.5,651.2 1239.5,651.5 1240.1,652.8 1240.5,653.5 1240.8,653.8 1241.5,653.7 1241.7,653.7 1242.5,653.7 1243.5,653.2 1244.5,653.5 1245.5,653.5 1246.5,653.6 1247.5,653.6 1248.5,653.6 1249.5,653.7 1249.8,653.2 1250.1,653.4 1250.3,653.1 1250.5,652.1 1250.6,651.7 1250.7,652 1250.8,652.3 1251,652.1 1251.1,652.6 1251.4,653.6 1251.5,653.6 1251.6,653.5 1252.5,653.5 1253.5,653.6 1254.5,653.7 1255.5,653.2 1256.5,653.2 1257.5,653.7 1258.5,653.8 1259.5,653.7 1260.5,653.4 1261.5,653.4 1262.5,653.4 1263.5,653.2 1264.5,653.6 1265.5,653.3 1265.8,653.5 1266.2,652.8 1266.5,651.5 1266.5,651.6 1266.7,650.5 1266.9,649.6 1267,649.5 1267.1,649.6 1267.3,650.4 1267.5,651.2 1267.6,651.6 1267.9,653 1268.2,653.4 1268.5,653.3 1269.5,653.6 1270.5,653.3 1270.9,653.5 1271.3,650.6 1271.5,649.4 1271.7,647.3 1271.9,644.5 1272.2,642.3 1272.3,640.9 1272.4,642.6 1272.5,643.5 1272.6,644.8 1272.9,647.5 1273.2,650.5 1273.5,653.2 1273.6,653.3 1274.5,653.3 1275.5,653.4 1276.5,653.8 1277.5,653.4 1278.5,653.4 1279.5,653.7 1280.5,653.8 1280.8,653.4 1281.5,653.3 1282.5,653.6 1283.5,653.6 1284.5,653.3 1285.5,653.6 1286.5,653.3 1287.5,653.2 1288.5,653.4 1289.5,653.5 1290.5,653.3 1291.5,653.5 1292.5,653 1293.5,653.3 1294.5,653.2 1295.5,653 1296.5,653.5 1297.5,653 1298.5,653 1299.5,653.4 1300.5,653.4 1301.5,653.4 1302.5,653 1303.5,653.4 1304.5,652.9 1305.5,653.2 1306.5,653.3 1307.5,652.9 1308.5,652.8 1309.5,653.1 1310.5,653.2 1310.9,653.1 1311.5,653.3 1312.5,653 1313.5,652.9 1314.5,652.8 1315.5,652.8 1316.5,653.2 1317.5,652.7 1318.5,652.8 1319.5,652.9 1320.5,652.7 1321.5,652.9 1322.5,652.8 1323.5,652.8 1324.5,653 1325.5,653 1326.5,653 1327.5,653.1 1327.7,653 1327.9,653.3 1328.1,652.6 1328.2,652.2 1328.3,651.7 1328.4,651.6 1328.5,652.2 1328.6,652.6 1328.8,652.9 1329,652.8 1329.2,652.9 1329.5,653 1330.5,652.9 1331.5,653.2 1332.5,653.3 1333.5,653 1334.5,653 1335.5,653.2 1335.9,653 1336.2,652.8 1336.3,652.9 1336.5,652.3 1336.6,651.2 1336.7,651.4 1336.8,651.5 1336.9,651.7 1337,652.4 1337.2,652.8 1337.4,653.1 1337.5,652.8 1338.5,652.7 1339.5,652.8 1340,653.2 1340.5,652.9 1341.5,652.9 1342.5,652.6 1343.5,652.3 1344.5,652 1345.5,652.1 1346.5,651.7 1347.5,651.7 1348.5,651.8 1348.5,651.7 1349.5,651.7 1350.5,651.8 1351.5,651.6 1352.5,651.6 1353.5,652 1354.5,651.8 1355,651.7 1355.5,651.6 1356.5,651.3 1357.5,651 1358.5,651.1 1359.5,650.4 1359.7,650.8 1359.9,650.7 1360,650.5 1360.2,649 1360.3,647.8 1360.5,647 1360.5,646.3 1360.5,645.8 1360.6,646.8 1360.8,647.7 1361,649.3 1361.2,650.3 1361.5,650.8 1361.5,650.4 1362.5,650.3 1363.5,650.7 1364.5,650.6 1365,650.7 1365.3,650.1 1365.5,649.2 1365.6,648.3 1365.8,646.7 1366,645.2 1366.1,644.7 1366.2,645.4 1366.3,646.8 1366.5,648.1 1366.5,648.3 1366.8,649.9 1367.1,650.8 1367.5,650.8 1368.5,650.9 1369.5,651.1 1370.5,650.8 1371.5,650.9 1372.5,650.7 1372.6,651.2 1373.5,650.5 1374.5,650.6 1375.5,650.3 1376.5,649.7 1377.5,649.7 1378.5,649.2 1379.5,648.9 1380.5,648.6 1381.5,648.6 1382.5,648 1382.6,648 1383.5,647.5 1384.5,647.4 1385.5,646.8 1386.5,646.3 1387.5,645.8 1388.5,645.4 1389.5,645.4 1390.1,645.1 1390.5,645.4 1391.5,645.8 1392.3,645.9 1392.5,642.1 1392.7,638.3 1393,631 1393.3,624.8 1393.5,619.7 1393.6,616.9 1393.8,619.8 1394,624.5 1394.2,631.2 1394.5,636.3 1394.6,638.2 1395,646.8 1395.5,647.3 1396.5,647.6 1397.5,648.2 1397.6,648.2 1398.5,648.1 1399.5,647.7 1400.5,648.1 1401.5,647.7 1402.5,648.3 1402.9,646.9 1403.2,645.2 1403.4,643.6 1403.5,643.6 1403.7,642.7 1403.8,641.9 1403.9,641 1404,641.4 1404.2,642.7 1404.4,643.5 1404.5,644.7 1404.7,645.5 1405,646.9 1405.5,648.2 1406.5,648 1407.5,648.2 1408.2,648.1 1408.5,643.7 1408.6,642.2 1408.9,636.3 1409.1,631.2 1409.3,627.4 1409.4,625.2 1409.5,626.4 1409.5,627.6 1409.7,631.5 1410,636.4 1410.3,642.3 1410.5,646.1 1410.6,647.8 1411.5,647.8 1412.5,648.1 1413.5,648.1 1414.5,648.2 1415.2,647.9 1415.5,648.2 1416.5,648.2 1417.5,647.8 1418.5,648.1 1419.5,647.9 1420.5,648 1421.5,647.9 1422.5,647.6 1423.5,647.5 1424.5,647.6 1425.5,647.6 1426.5,647.2 1427.5,647.7 1427.7,647.5 1428.5,647.3 1429.5,647.3 1430.5,646.9 1431.5,646.7 1432.5,646.8 1433.5,646.4 1434.3,646.3 1434.5,646.1 1434.6,646.1 1434.8,645.1 1435,644.3 1435.2,643.7 1435.2,643.1 1435.3,643.4 1435.5,644.2 1435.5,644.3 1435.6,645.2 1435.9,646.4 1436.1,645.9 1436.5,646 1437.5,646 1438.5,645.9 1439.5,645.6 1440.2,645.5 1440.5,645.8 1441.5,645.8 1441.9,645.5 1442.3,644.4 1442.5,643.4 1442.7,642.1 1442.9,639.9 1443.1,638.7 1443.3,637.2 1443.4,638.3 1443.5,639.4 1443.6,639.9 1443.9,642.2 1444.2,644.6 1444.5,645.8 1444.6,646.1 1445.5,646.1 1446.5,646.2 1447.5,646.2 1448.5,646.2 1449.5,646.2 1449.8,646.4 1450.2,644.3 1450.5,641.6 1450.5,641 1450.7,638.9 1450.9,637.2 1451,636.3 1451.2,637.4 1451.3,638.9 1451.5,640.7 1451.6,641.5 1451.9,644.2 1452.2,646.6 1452.5,646.8 1452.8,646.8 1453.5,646.6 1454.5,646.1 1455.5,646.3 1456.5,645.8 1457.5,645.5 1458.5,645.6 1459.5,645.1 1460.5,644.9 1461.5,644.9 1462.5,644.8 1463.5,644.3 1464.5,644.6 1464.9,644.5 1465.2,642.2 1465.3,641.4 1465.5,639.4 1465.5,639.6 1465.8,636.7 1465.9,634.9 1466.1,633.6 1466.2,635.2 1466.4,636.9 1466.5,638.2 1466.6,639.3 1466.9,642.4 1467.3,644.1 1467.5,644.4 1468.5,644.3 1469.5,644.2 1470.5,644.1 1471.5,644.2 1471.5,644.2 1471.9,637.4 1472.2,629.9 1472.5,623.2 1472.5,622.9 1472.7,618.2 1472.8,614.7 1473,618.1 1473.2,623.4 1473.4,629.7 1473.5,631 1473.8,637.6 1474.2,644.5 1474.5,644.4 1475.5,644.2 1476.5,644.3 1477.5,644.4 1478.5,644.1 1479.5,644.3 1480.3,644.5 1480.5,644.3 1481.5,644.2 1482.5,644 1483.1,644.1 1483.4,642.6 1483.5,642.2 1483.6,641.3 1483.8,640.3 1484,639 1484.1,638.6 1484.2,638.8 1484.4,640 1484.5,641 1484.6,641.1 1484.8,642.9 1485.2,643.6 1485.5,643.7 1486.5,644 1487.5,643.4 1488.5,643.8 1489.5,643.2 1490.5,643.4 1491.5,643.5 1492.5,643.4 1493.5,643 1494.5,643.1 1495.4,643.1 1495.5,643 1496.2,642.2 1496.5,638.5 1496.5,637.5 1496.8,632.4 1497.1,627.7 1497.3,624.2 1497.4,622 1497.5,623.6 1497.5,624.2 1497.7,627.5 1497.9,632.3 1498.2,638 1498.5,639.2 1498.6,639.3 1499.5,638.2 1500.5,637 1501.5,635.6 1502.5,634.7 1502.9,634.4 1503.5,634.2 1504.5,633.7 1505.5,633.9 1506.5,633.4 1507.5,633.1 1508.5,633.1 1509.2,632.9 1509.5,633.1 1510.5,634 1511.5,634.4 1512.5,635.2 1513.5,635.4 1514.5,636.3 1515.4,636.4 1515.5,636.6 1516.5,637.4 1517.5,638 1518.5,638.6 1519.4,638.9 1519.5,638.5 1519.7,637.1 1520,635 1520.2,633 1520.3,631.8 1520.5,631 1520.5,631.2 1520.6,631.8 1520.7,633.4 1520.9,635.3 1521.2,637 1521.5,639 1522.5,640.5 1523.5,641.1 1524.5,642.1 1525.5,642.6 1525.5,642.3 1526.5,642.5 1527.5,642.7 1528.5,642.3 1529,642.8 1529.2,642.7 1529.4,641.8 1529.5,641.7 1529.5,641.6 1529.7,641.1 1529.7,641.2 1529.8,641 1529.9,641.5 1530.1,641.8 1530.2,642.4 1530.5,642.9 1530.5,642.7 1531.5,642.8 1532.5,643.1 1533.5,642.7 1534.5,642.7 1535.5,643 1535.5,642.7 1536.5,643.1 1537.5,642.5 1538.5,642.4 1539.5,642.3 1540.5,642.4 1541.5,642.2 1542.5,641.9 1543.5,641.5 1544.5,641.4 1545.5,641.5 1546.5,641 1547.5,641.3 1548,641.2 1548.5,640.8 1549.5,640.8 1550.5,640.7 1551.5,640.9 1552.2,640.5 1552.5,626 1552.6,620.6 1552.9,601.5 1553.2,583.6 1553.4,570.5 1553.5,563.5 1553.5,561.5 1553.7,570.5 1553.9,584 1554.1,600.9 1554.5,621.2 1554.5,621.8 1554.9,640.4 1555.5,640.3 1556.5,640.6 1557.5,640.3 1558,640.3 1558.5,638.7 1559.3,635.5 1559.5,634 1560.5,627.6 1561.5,620.9 1562.1,617.4 1562.5,618.7 1563.5,621.8 1564.5,624.8 1564.8,625.8 1565.5,625.8 1566.5,625.6 1567.5,625.8 1568.5,626 1569.3,625.8 1569.5,625.9 1570.5,627.5 1571.5,628.5 1572.5,629.7 1573.1,630.3 1573.5,631.3 1574.5,632.7 1575.5,634.1 1576.5,635.6 1577.5,637.2 1578.1,637.9 1578.5,638.2 1579.5,638.9 1580.5,639.8 1581.5,640.5 1582.5,641.3 1583.1,641.7 1583.5,641.9 1584.5,642.1 1585.5,641.9 1586.5,641.9 1587.5,642.2 1588.5,642.2 1589.5,642.8 1590.5,642.8 1591.3,642.7 1591.5,638.6 1591.7,634.9 1592,626.5 1592.3,619.2 1592.5,613.4 1592.6,609.8 1592.8,613.5 1593,619 1593.2,626.2 1593.5,632.9 1593.6,634.9 1594,643.2 1594.5,643.5 1595.5,643.2 1596.5,643.5 1597.5,644 1598.5,643.9 1599.5,644.1 1600.5,644.1 1600.7,644.4 1601.5,644.2 1602.5,644.5 1603.5,644 1604.5,644.5 1605.5,643.9 1606.5,644 1607.5,644.1 1608.2,644.3 1608.5,643.9 1609.5,643.9 1609.6,644.1 1610.5,629.9 1611.2,588 1611.5,563.7 1611.8,535.3 1612.2,486.7 1612.5,448.5 1612.8,487.1 1613.2,535.4 1613.5,563.5 1613.8,587.8 1614.5,629.6 1614.5,629.9 1614.8,640.5 1615.2,638 1615.4,635.7 1615.4,635.6 1615.5,634.8 1615.6,633.9 1615.7,632.7 1615.8,634.2 1616,635.7 1616.2,638.2 1616.5,640.2 1616.5,640.2 1616.9,642.1 1617.5,641.7 1618.2,641.9 1618.5,642 1619.5,642.5 1620.5,642.6 1621.5,643.1 1622.5,644 1623.5,644.1 1624.5,644.7 1625.5,645.1 1625.7,645.3 1626.5,645 1627.5,644.7 1628.5,643.7 1629.5,643 1630.5,642.8 1630.7,642.3 1631.5,642.8 1632.5,643.2 1633.5,643.8 1634.5,643.7 1635.5,644.4 1636.5,644.7 1637.5,645.4 1638.2,645.3 1638.5,645.6 1639.5,645.3 1640.5,645.5 1641.5,645.9 1642.5,645.4 1643.5,645.5 1644.5,645.9 1645.5,645.8 1645.8,645.5 1646.2,644.2 1646.5,642.8 1646.5,642.7 1646.7,641.8 1646.9,640.7 1647,640.3 1647.1,640.8 1647.3,641.7 1647.5,642.6 1647.6,643.1 1647.9,644.5 1648.2,645.5 1648.5,645.8 1649.5,645.8 1650.5,645.9 1651.5,645.6 1652.5,645.7 1653.3,646.3 1653.5,645.9 1654.5,645.9 1655.5,645.8 1656.5,646.1 1657.5,646.4 1658.5,646 1659.5,646.2 1660.5,646.2 1661.5,646.4 1662.5,646.3 1663.5,646.2 1664.5,646.2 1665.5,646.6 1666.5,646.2 1667.5,646.7 1668.5,646.3 1669.5,646.4 1670.5,646.6 1671.5,646.9 1672.5,646.8 1673.3,646.9 1673.5,646.7 1674.5,645.7 1675,644.8 1675.5,638.2 1675.9,613.7 1676.5,561.1 1676.7,535 1677.3,438 1677.5,406.7 1677.8,346.9 1678.1,275.8 1678.4,346.7 1678.5,366.3 1678.9,438.4 1679.5,535.6 1679.5,536.3 1680.3,613.7 1680.5,628.8 1680.8,639 1681.2,639 1681.5,639 1682.5,639.3 1683.5,639 1684.5,639 1684.6,639.2 1685.5,640.3 1686.5,641.5 1687.5,643.1 1688.4,644.2 1688.5,644.2 1689.5,644.4 1690.5,644.2 1691.5,644.7 1692.5,644.6 1692.5,644.7 1692.8,644.5 1693,644.9 1693.2,644.2 1693.3,643.7 1693.4,643.5 1693.5,644 1693.5,643.6 1693.6,644.1 1693.8,644.8 1694,644.9 1694.3,645.2 1694.5,645.3 1695.5,644.9 1696.5,645.2 1697.5,645.4 1698.5,645.8 1699.5,645.9 1700.5,646 1700.9,646.2 1701.5,645.8 1702.5,645.8 1703.5,646.1 1704.5,646 1705.5,645.6 1706.5,646.1 1707.5,645.9 1708.5,645.9 1709.5,645.6 1710.5,645.7 1711.5,645.9 1712.5,645.8 1713.5,645.6 1714.5,645.7 1715.5,645.8 1715.9,645.7 1716,645.6 1716.5,645.7 1717.5,645.2 1718.5,645.4 1719.5,645.5 1719.8,645.2 1720.5,644.4 1721.5,642.3 1721.6,642.5 1722,641.6 1722.3,641 1722.5,641 1722.6,640.5 1722.8,640 1723,639.4 1723.1,640.2 1723.3,639.4 1723.5,639.1 1723.5,639.3 1723.6,639.1 1723.9,640 1724.3,640.3 1724.5,640.9 1725.5,642.4 1726.5,643.9 1727.3,645.2 1727.5,645.3 1728.5,645.9 1728.5,645.8 1729.5,646.5 1730.5,646.5 1731.5,646.5 1732.5,647.1 1733.5,647 1733.5,647.2 1734.5,647.3 1735.5,647.3 1736.5,647.2 1737.5,646.9 1738.5,646.7 1739.5,646.7 1740,646.6 1740.5,646.9 1741.5,646.7 1742.5,646.8 1743.5,646.5 1743.6,646.9 1744.5,646.5 1745.5,645.5 1746.5,645.2 1747.3,644.5 1747.5,644.5 1748.5,645.1 1749.5,645.2 1750.5,645.9 1751.1,646 1751.4,646 1751.5,646.1 1752.3,602.6 1752.5,585.9 1753.1,498.8 1753.5,433.4 1753.8,372 1754.3,250 1754.5,187.9 1754.6,158.4 1754.9,249.8 1755.4,371.5 1755.5,391.8 1756.1,498.8 1756.5,562.9 1756.9,602.6 1757.3,635.4 1757.5,641.2 1757.8,644.3 1758.5,644.2 1759.5,644.7 1760.5,645 1761.5,644.9 1762.5,645 1763.5,645.5 1763.6,645.6 1764.5,645 1765.5,644 1766.5,643.3 1767.5,642.6 1768.5,641.8 1769.4,641.2 1769.5,640.9 1770.5,641.7 1771.5,642.1 1772.5,642.4 1773.5,642.6 1774.5,643.4 1775.5,643.8 1776.2,644.3 1776.5,644.3 1777.5,644.7 1778.5,644.8 1779.5,645.2 1780.5,645.9 1781.5,646.3 1782.5,646.9 1783.5,647.1 1784.5,647.2 1785.5,647.7 1786.2,648 1786.5,648.2 1787.5,648 1788.5,648.4 1789.5,648.2 1790.5,648.3 1791.5,648.4 1792.5,648.4 1793.5,648.9 1794.5,648.4 1795.5,648.7 1796.5,648.6 1797.5,649 1798.5,648.8 1799.5,648.9 1800.5,649.1 1801.2,649.3 1801.5,649.4 1802.5,649.1 1803.5,649 1804.5,648.9 1805.5,649.2 1806.5,648.7 1807.5,648.6 1807.5,649.1 1807.9,646.5 1808.2,643.6 1808.4,641.3 1808.5,641 1808.6,639.8 1808.7,638.2 1808.8,639.8 1809,641.3 1809.3,643.7 1809.5,645.9 1809.6,646.2 1809.9,649 1810.5,648.6 1811.5,648.4 1812.5,648.7 1813.5,648.3 1813.7,648.2 1814.5,648.6 1815.5,648.5 1816.5,648.7 1816.7,648.6 1817,648.2 1817.3,647.3 1817.5,646.9 1817.5,646.8 1817.7,646.2 1817.8,646.2 1817.9,646.2 1818,647 1818.2,647.3 1818.5,648.7 1818.5,648.7 1818.8,648.5 1819.5,648.4 1820.5,648.6 1821.5,648.7 1822.5,648.6 1823.5,648.2 1824.5,648.5 1825.5,648.3 1826.5,648.5 1827.5,648.7 1828.5,648.7 1829.5,648.3 1830.5,648.5 1831.5,648.4 1832.5,648.3 1833.5,648.6 1834.5,648.6 1835.5,648.4 1836.5,648.4 1837.5,648.6 1838.5,648.6 1839.5,648.4 1840.5,648.2 1841.3,648.2 1841.5,648.3 1842.5,648.6 1843.5,648.4 1843.9,648.1 1844.5,634.8 1844.9,612.2 1845.5,554.6 1845.7,527.7 1846.4,424.2 1846.5,401.7 1846.9,327 1847.2,251.7 1847.5,320.5 1847.5,327.1 1848,426 1848.5,502.6 1848.7,527.7 1849.5,611.5 1849.5,612.4 1850.5,647.9 1851.3,647.9 1851.5,647.9 1852.5,648.1 1853.5,647.9 1854.5,647.9 1855.5,648.2 1856.5,648.1 1857.5,648.1 1858.5,648.2 1859.5,647.9 1860.5,648.1 1861.5,647.8 1862.5,647.9 1863.5,647.7 1864.5,648.1 1865.5,648.2 1866.5,647.9 1867.5,647.9 1868.5,647.7 1869.5,647.8 1870.5,648.1 1871.5,648.2 1872.5,647.7 1873.5,647.8 1874.5,648.1 1875.5,647.8 1876.4,648.2 1876.5,647.8 1877.5,647.1 1878.5,646.2 1879.5,645.5 1880.5,644.8 1880.7,644.6 1881.5,645.5 1882.5,646 1883.5,647.2 1884.5,648.1 1885.2,648.4 1885.5,648.3 1886.5,648.3 1887.5,648.3 1888.5,648.8 1889.5,648.7 1890.5,648.4 1891.5,648.7 1892.5,648.8 1893.5,648.7 1894.5,648.5 1895.5,648.8 1896.5,648.8 1897.5,649.2 1898.5,648.9 1899.5,649.2 1900.5,649.2 1901.5,649.1 1902.5,648.9 1903.5,649.3 1904.5,648.9 1905.5,649.2 1906.5,649 1906.5,649 1907.5,649.3 1908.5,649.2 1909.5,649.8 1910.5,649.6 1910.5,649.8 1911.3,649.1 1911.5,648.2 1912,645.1 1912.5,640.8 1912.5,640.5 1913,635.9 1913.2,632.3 1913.5,635.7 1913.5,635.8 1913.9,640.3 1914.5,645.1 1914.5,645.2 1915.2,648.9 1915.5,650.1 1916,650.2 1916.5,649.8 1917.5,649.9 1918.5,650 1919.5,650.1 1920.5,650.7 1921.5,650.4 1921.5,650.4 1922.5,650.5 1923.5,650.6 1923.9,650.4 1924.3,649.4 1924.5,648.3 1924.7,647.8 1924.9,646.3 1925.1,644.7 1925.3,644.3 1925.4,644.7 1925.5,645.7 1925.6,645.8 1925.9,647.4 1926.2,649.4 1926.5,650.6 1926.6,650.8 1927.5,650.7 1928.5,650.8 1929.5,650.6 1930.5,650.8 1931.5,650.7 1932.5,651 1933.5,650.7 1934,650.8 1934.5,650.8 1935.5,650.9 1936.5,650.9 1937.5,650.5 1938.5,651 1939.5,650.9 1940.5,650.5 1941.5,650.3 1942.5,650.7 1943.5,650.7 1944.5,650.2 1945.5,650.5 1946.5,650.5 1947.5,650.5 1948.2,650 1948.5,649.6 1948.5,649.5 1948.7,649 1948.9,648.9 1949,648.5 1949.1,648 1949.2,648 1949.3,648.6 1949.5,649.1 1949.5,649.3 1949.7,650 1950,650.2 1950.5,650 1951.5,650 1951.6,650 1952.5,649.9 1953.5,650 1954.5,650.2 1955.5,650.2 1956.5,650 1957.5,650.2 1958,649.8 1958.5,643.6 1959,624.4 1959.5,597.4 1959.9,564.2 1960.5,505.4 1960.6,491.5 1961.2,421.8 1961.5,368.5 1961.8,421.3 1962.4,491.4 1962.5,505.5 1963.1,564.3 1963.5,597.3 1964,624.5 1964.5,644.1 1965,649.9 1965.5,650.2 1966.5,650.2 1966.6,650.2 1967.5,650.7 1968.5,650.4 1969.5,650.7 1970.5,650.8 1971.5,650.4 1972.5,650.5 1973.5,650.7 1974.5,651 1975.5,651 1976.5,650.8 1977.5,650.9 1978.5,650.9 1979.5,651 1980.5,651.2 1981.5,651 1982.5,651.3 1983.5,651.5 1984.2,651.3 1984.5,651.4 1985.5,651.1 1986.5,650.4 1987.5,650.6 1988.5,649.9 1989.5,650 1990.5,649.3 1991.5,649.2 1991.7,649.2 1992.5,649.3 1993.5,649 1994.5,648.5 1995.5,648.7 1996.5,648.5 1997.5,648.1 1998,647.7 1998.5,648 1999.5,648.3 2000.5,648.7 2001.5,649.4 2002.5,649.5 2003.5,649.9 2004.2,649.7 2004.5,649.9 2005.5,650.4 2006.5,650.4 2007.5,650.6 2008.5,650.8 2009.2,651 2009.5,651.2 2010.5,651.3 2011.5,651.2 2012.5,651.3 2013.5,651.1 2014.5,650.9 2015.5,651.3 2016.5,651.1 2017.5,651.2 2018.5,651.2 2019.5,651.1 2020.5,651 2021.5,651.1 2021.8,651.1 2022.5,650.7 2023.5,650.3 2024.5,650.1 2025.5,649.4 2025.5,650 2026.5,650 2027.5,650.3 2028.5,650.7 2029.3,650.7 2029.5,650.7 2030.5,650.9 2031.5,650.6 2032.5,650.4 2033.5,650.2 2034.5,650.3 2035.5,649.9 2036.5,650 2036.8,649.9 2037.5,650.2 2038.5,650.4 2039.5,650.7 2040.5,650.9 2040.6,651 2041.5,651 2042.3,651 2042.5,651.2 2043.1,650.1 2043.5,648.3 2043.8,647 2044.4,643.1 2044.5,642.2 2044.8,639.7 2045.1,636.4 2045.3,639.5 2045.5,640.8 2045.8,643.3 2046.3,646.6 2046.5,647.9 2047,649.7 2047.5,651.1 2047.8,651 2048.5,651.1 2049.5,650.9 2050.5,651.2 2051.5,650.7 2051.8,650.8 2052.5,651.1 2053.5,651.2 2054.5,651.1 2055.5,650.8 2056.5,650.7 2057.5,651.1 2058.5,651.1 2059.3,650.7 2059.5,650.2 2059.7,648.9 2060,646.2 2060.3,644.4 2060.5,642.7 2060.5,642.4 2060.6,641.9 2060.8,643.1 2060.9,644.2 2061.2,646.4 2061.5,648.3 2061.6,649 2062,650.7 2062.5,650.9 2062.9,650.9" fill="none" stroke="#ff0000" stroke-width="3.2" stroke-linejoin="round" stroke-linecap="round"/>
<path d="M205.5,1282.3 206.5,1281.8 207.5,1281.2 207.5,1280.7 208.5,1280.8 209.5,1280.4 210.5,1280.2 211.3,1279.8 211.5,1279.8 212.5,1280.2 213.5,1280.4 214.5,1280.8 215.5,1280.7 216.3,1281 216.5,1280.9 217.5,1278.6 218.5,1276.5 219.5,1274.5 219.6,1274.1 220.5,1272.8 221.5,1272 222.5,1270.7 223.1,1270 223.5,1270.2 224.5,1270.8 225.5,1270.8 226.5,1271.4 227.5,1271.6 227.6,1271.7 228.5,1273.2 229.5,1274.5 230.5,1275.9 231.5,1277.6 232.1,1278.6 232.5,1279 233.5,1280.1 234.5,1281.5 235.5,1282.4 235.8,1282.8 236.5,1282.9 237.5,1283.2 238.5,1282.8 239.5,1282.8 240.5,1282.7 241.5,1282.7 242.5,1282.8 243.5,1283 243.9,1283.2 244.5,1282.9 245.5,1283 246.5,1283 247.5,1283.1 248.5,1283.5 249.5,1283.4 250.5,1283.3 251.4,1283.2 251.5,1283 252.5,1277.8 253.5,1272.6 253.9,1270.3 254.5,1267.5 255.5,1262.9 256.4,1258.5 256.5,1258.5 257.5,1256.8 258.1,1256.5 258.5,1256.6 259.5,1258.9 260.5,1260.8 261.4,1263.1 261.5,1263.2 262.5,1265.1 263.5,1266.7 264.5,1268.4 264.7,1268.5 265.5,1273.3 266.4,1278.1 266.5,1277.9 267.5,1278.6 268.5,1278.6 269.5,1278.8 270.2,1279 270.5,1279.6 271.5,1280.5 272.5,1282 273.2,1282.7 273.5,1281.4 274.5,1278.6 275.5,1276 275.7,1275.3 276.5,1273.7 277.5,1271.7 278.2,1269.8 278.5,1270.1 279.5,1270.9 280.5,1271.2 281.4,1271.6 281.5,1272 282.5,1272.3 283.5,1272.7 284.5,1273 284.7,1272.9 285.5,1274.3 286.5,1275.8 287.2,1276.8 287.5,1276.6 288.5,1276.6 289.5,1276.7 290.5,1276.9 290.7,1276.7 291.5,1270.5 292.5,1262.5 292.7,1260.2 293.5,1258.1 294.5,1254.8 294.7,1254.2 295.5,1256.7 296.5,1259.3 297.2,1261.9 297.5,1262.3 298.5,1266.1 299.5,1269.6 299.8,1270.3 300.5,1275.6 301.5,1282.4 302.5,1282.3 303.5,1282.3 304.5,1281.7 305.5,1281.8 306.5,1281.9 306.5,1281.5 307.5,1282.1 308.5,1281.8 309.5,1282.3 310.5,1282.1 311.5,1282.4 311.5,1282.4 312.5,1282.3 313.5,1282.8 314.5,1282.8 315.5,1283 316.5,1283 316.5,1283 317.5,1279.6 318.3,1276.6 318.5,1276.6 319.5,1274.7 320.5,1273.6 320.8,1273.2 321.5,1274 322.5,1275.7 323.5,1277.2 324.1,1278 324.5,1278.7 325.5,1280.7 326.5,1282.8 326.6,1282.9 327.5,1283.6 328.5,1283.5 329.5,1283.9 330.3,1284.2 330.5,1284.4 331.5,1284 332.5,1283.8 333.5,1283.5 334.5,1283.3 335.5,1283 336.5,1282.8 336.6,1282.8 337.5,1282.9 338.5,1282.4 339.5,1281.8 340.5,1281.7 341.5,1281.2 342.5,1281.1 342.9,1280.9 343.5,1281.5 344.5,1281.7 345.5,1282.5 346.5,1282.6 347.5,1283.6 347.9,1283.6 348.5,1283.2 349.5,1283.7 350.5,1283.3 351.5,1283.4 352.5,1283.3 353.5,1283.7 354.1,1283.2 354.5,1283.6 355.5,1283.3 356.5,1283.4 357.5,1283.1 358.5,1282.9 359.5,1283.3 360.4,1283.1 360.5,1282.4 361.5,1279.1 362.4,1275.7 362.5,1275.2 363.5,1273.8 364.4,1273 364.5,1272.9 365.5,1275.4 366.5,1277.3 367.4,1279.4 367.5,1279.4 368.5,1280.7 369.5,1282 370.4,1283 370.5,1282.9 371.5,1280.4 372.5,1277.9 373.4,1275.7 373.5,1276.1 374.5,1274.3 375.5,1273 375.9,1272.3 376.5,1273 377.5,1273.9 378.5,1275 379.2,1275.4 379.5,1275.9 380.5,1277.7 381.5,1279.4 382.5,1281.2 383,1281.6 383.5,1282.1 384.5,1282.5 385.5,1282.9 386.5,1282.7 386.7,1282.9 387.5,1279.2 388.5,1274.4 388.5,1273.9 389.5,1272.6 390.5,1271.3 391,1270.6 391.5,1268.8 392.5,1265.5 393,1264.1 393.5,1265.1 394.5,1267.6 395.5,1269.9 395.5,1270.2 396.5,1272.7 397.5,1275.3 398,1276.6 398.5,1276.8 399.5,1277.3 400.5,1277.5 401.5,1277.7 401.8,1278.2 402.5,1279.1 403.5,1280.8 404.5,1282 405.5,1283.5 405.5,1283.4 406.5,1283.8 407.5,1284.3 408.5,1284.7 409.5,1284.8 410.5,1284.9 410.5,1284.7 411.5,1284.7 412.5,1283.9 413.5,1283.3 414.3,1282.7 414.5,1282.8 415.5,1283.3 416.5,1284 417.5,1284.2 418.1,1284.4 418.5,1284.3 419.5,1283.9 420.5,1283.7 421.5,1283.8 422.5,1283.3 423.1,1283.5 423.5,1283.7 424.5,1284.1 425.5,1284.2 426.5,1284.6 426.8,1285 427.5,1284.2 428.5,1283.8 429.5,1282.8 430.1,1282.5 430.5,1282.3 431.5,1281.3 431.8,1281 432.5,1281.7 433.5,1283.1 434.3,1284.5 434.5,1284.1 435.5,1284.1 436.5,1284.2 437.5,1284.3 438.1,1284.4 438.5,1284 439.5,1284.2 440.5,1283.3 441.5,1283.6 442.5,1283.2 443.1,1283.2 443.5,1282.9 444.5,1283.6 445.5,1284 446.5,1284.2 446.9,1284 447.5,1284.1 448.5,1283.4 449.5,1282.2 450.5,1282 450.6,1281.5 451.5,1281.9 452.5,1282.8 453.1,1283.1 453.5,1283.2 453.6,1283 454.5,1279.8 454.5,1279.5 455.3,1270.6 455.5,1267.2 455.9,1259.7 456.3,1249.2 456.5,1244.6 456.6,1241.1 456.9,1249 457.4,1259.3 457.5,1261.8 458,1270.5 458.5,1276.9 458.8,1279.3 459.5,1281.8 459.7,1281.5 459.9,1281.9 460.5,1281.2 460.7,1280.9 461.4,1274.3 461.5,1273.2 462,1266.3 462.4,1258.9 462.5,1256.4 462.7,1252.8 462.9,1258.8 463.4,1266.3 463.5,1268.8 463.9,1274.3 464.5,1280.4 464.6,1280.6 465.4,1280.7 465.5,1280.3 465.7,1280.4 466.5,1278.9 467.5,1276.9 468.2,1275.7 468.5,1274.5 469.5,1272.5 470.5,1270.2 471.5,1267.5 471.9,1266.5 472.5,1267.9 473.5,1270.1 474.4,1271.8 474.5,1271.7 475.5,1273.1 476.5,1274.6 476.9,1275 477.5,1275.2 478.5,1275.7 479.5,1276.4 480.5,1276.8 480.7,1276.9 481.5,1278.1 482.5,1280.1 482.7,1280.7 483.5,1276.6 484.5,1271.8 485,1269.5 485.5,1271 486.5,1275 487,1276.6 487.5,1277.9 488.5,1280.5 489.5,1283.3 489.5,1283.1 490.5,1279.7 491.5,1276.8 492,1275.4 492.5,1274.3 493.5,1271.3 494,1269.8 494.5,1271.6 495.5,1274.6 496.5,1277.7 496.5,1278 497.5,1280.7 498.5,1283 498.8,1283.6 499.5,1279.7 500.5,1275.2 501.5,1270.6 502.5,1267.3 503.5,1263.8 503.8,1262.7 504.5,1267.8 505.5,1273.7 505.8,1275.6 506.5,1277.7 507.5,1281.1 507.8,1281.6 508.5,1276.9 509.5,1270.8 510.3,1265.9 510.5,1267 511.5,1270.9 512.3,1274.3 512.5,1275.2 513.5,1280.4 513.8,1281.5 514.5,1280.2 515.5,1277.7 515.8,1276.4 516.5,1279.2 517.5,1282.2 517.8,1283.1 518.5,1282.7 519.5,1283.1 519.5,1283.1 520.4,1277.2 520.5,1275.5 521.1,1262.6 521.5,1248.8 521.6,1244.6 522,1227 522.3,1214.2 522.5,1223.5 522.6,1227.2 523,1244.5 523.5,1261.3 523.5,1262.7 524.2,1277.4 524.5,1280.9 525.1,1282.9 525.5,1283.1 525.8,1283 526.5,1282.9 527.5,1282.7 528.5,1282.5 529.5,1282.3 530.5,1282.4 530.8,1282.4 531.5,1282.4 532.5,1282.9 533.5,1283.1 534.5,1283.7 534.6,1283.7 535.5,1283.1 536.5,1282.8 537.5,1282 538.5,1281.4 539.5,1281.2 540.5,1280.5 540.9,1280.8 541.5,1279.3 542.5,1277.7 543.4,1275.8 543.5,1276.1 544.5,1279 545.5,1281.6 545.9,1282.3 546.5,1281 547.5,1278.2 548.4,1275.6 548.5,1275.4 549.5,1272.9 550.1,1270.8 550.5,1273.1 551.5,1278.5 552.1,1281.9 552.5,1281.6 553.5,1281.5 554.5,1281.3 555.5,1281.3 555.9,1280.7 556.5,1281.1 557.5,1281.5 558.5,1282.2 559.5,1282.2 560.5,1282.6 560.9,1282.8 561.5,1282.8 562.5,1282.9 563.5,1283.2 563.9,1282.9 564.5,1282.7 565.5,1282.9 566.1,1282.7 566.5,1273.9 566.5,1273.2 566.8,1264 567.1,1255.9 567.3,1249.5 567.4,1245.1 567.5,1247.7 567.5,1249.4 567.8,1256 568,1264 568.4,1273.9 568.5,1277.6 568.8,1282.7 569.5,1282.6 570.4,1282.6 570.5,1282.6 571.2,1269.2 571.5,1259.2 571.9,1234.8 572.5,1193.4 572.5,1192.7 572.9,1153.3 573.2,1123.4 573.5,1153.5 573.5,1157.5 573.9,1193.2 574.4,1234.8 574.5,1239.5 575.1,1268.7 575.5,1279.6 575.9,1282 576.5,1281.7 577.5,1282.1 578.5,1281.8 578.5,1281.8 579.5,1279.7 580.5,1277.3 581.5,1275.5 581.5,1275 582.3,1270.7 582.5,1269.5 582.7,1268.8 583,1266.7 583.2,1265.4 583.4,1264.5 583.5,1263.9 583.5,1264.3 583.5,1264.5 583.6,1265.5 583.8,1266.2 584,1268.1 584.4,1269.6 584.5,1270.5 584.7,1272.1 585.5,1276.6 585.5,1276.7 586.5,1280.2 587.2,1282.8 587.5,1282.7 588.5,1282.6 589.5,1281.6 589.7,1281.8 589.8,1281.6 590.5,1279.6 590.5,1278.7 590.6,1278.3 591.2,1268.5 591.3,1267 591.5,1262.6 591.8,1255.2 591.8,1254 592.2,1242.8 592.3,1240.8 592.5,1233.6 592.5,1233.9 592.5,1233.6 592.8,1241 592.8,1242.6 593.2,1253.5 593.2,1254.8 593.5,1262 593.7,1266.7 593.8,1267.7 594.3,1276.7 594.3,1277.1 594.4,1277.9 594.5,1278.5 594.5,1278.4 594.6,1273.6 594.7,1272 595,1264.3 595,1262.3 595.2,1256.1 595.2,1254.4 595.3,1252.7 595.4,1249.4 595.4,1247.8 595.5,1245.3 595.5,1245.8 595.5,1245.1 595.6,1248.1 595.7,1250 595.8,1254.3 595.8,1256.1 596,1262.6 596.1,1264.3 596.3,1272.2 596.4,1273.5 596.5,1276.8 596.7,1282.1 596.7,1283.1 597.5,1283.1 597.5,1282.9 598.5,1283.3 598.8,1283.1 599.5,1274.4 599.6,1271.5 600.3,1243.6 600.5,1233.1 600.9,1210.2 601.3,1177 601.5,1157.9 601.5,1153 601.8,1177.5 602.2,1209.6 602.5,1227 602.8,1243.2 603.5,1270.9 603.5,1271.7 604,1281.3 604.3,1279.7 604.3,1279.2 604.5,1277 604.6,1276.1 604.8,1272.8 605,1270.6 605.1,1269.2 605.2,1270.6 605.3,1273.3 605.5,1275.8 605.5,1275.8 605.8,1279.7 606.1,1282.8 606.5,1283.1 607.5,1282.7 608.5,1283.1 609.5,1283.2 610.5,1282.8 611.5,1282.8 611.5,1282.9 611.8,1282.1 612.1,1280.9 612.3,1279.5 612.5,1279.2 612.5,1279 612.6,1278.8 612.7,1279.3 612.8,1279.5 613.1,1280.9 613.3,1281.6 613.5,1282.4 613.6,1283 614.5,1282.8 615.5,1282.8 616.5,1282.9 617.5,1282.9 618.5,1283.2 618.6,1283 619.4,1274.1 619.5,1272.3 620.1,1252.6 620.5,1235.4 620.7,1227 621.1,1201.8 621.4,1182.9 621.5,1193.1 621.6,1201.6 622,1226.4 622.5,1248.9 622.6,1252.8 623.3,1274.1 623.5,1278 624.1,1283.1 624.4,1283.2 624.5,1282.3 624.8,1278.2 625.1,1273.1 625.3,1269.2 625.5,1265.4 625.5,1265.6 625.6,1263.5 625.7,1265.8 625.9,1268.9 626.2,1273.1 626.5,1277.9 626.5,1278.5 626.8,1283.1 627.5,1283.1 628.5,1282.9 629.5,1282.8 630.5,1283 631.1,1282.8 631.5,1281.8 632,1277.1 632.5,1266.9 632.6,1263.6 633.2,1246.3 633.5,1235 633.6,1230.6 633.9,1218.8 634.2,1230.4 634.5,1243.8 634.6,1246.3 635.1,1263.4 635.5,1271.9 635.8,1277.3 636.5,1282.6 636.6,1283.1 637.5,1282.9 637.5,1283 638,1272.3 638.3,1261.6 638.5,1254.2 638.6,1252.4 638.8,1245.2 638.9,1240.6 639,1245.2 639.2,1252.5 639.5,1261.6 639.5,1261.5 639.8,1271.9 640.2,1282.7 640.5,1283.1 641.5,1282.7 642.5,1283.1 643.5,1282.7 644.5,1282.8 645.5,1283 646.5,1282.7 647.5,1282.9 648.5,1283.2 649.5,1283.1 650.5,1282.9 650.6,1283.2 651,1275.5 651.3,1268.1 651.5,1263.5 651.6,1261.3 651.8,1256.6 651.9,1253.1 652.1,1256.6 652.3,1261.2 652.5,1266.9 652.5,1267.8 652.9,1275.3 653.3,1282.7 653.5,1283.1 653.5,1282.6 653.8,1277.9 654.1,1272.5 654.4,1268.6 654.5,1266.5 654.6,1264.9 654.7,1263.3 654.8,1265.6 655,1268.8 655.2,1273.1 655.5,1277.6 655.5,1277.7 655.9,1282.8 656.5,1282.8 657.5,1282.7 658.5,1283 659.5,1283 660.5,1282.9 661.5,1283.1 662.5,1282.8 663.5,1282.8 664.5,1282.7 665.5,1282.8 666.5,1283.1 666.8,1282.9 667.1,1282.6 667.3,1282.2 667.5,1281.7 667.5,1281.4 667.6,1281.5 667.7,1280.7 667.8,1281.2 667.9,1281.8 668.1,1282.1 668.4,1282.4 668.5,1283 668.6,1283.1 669.5,1283.1 670.5,1282.8 671.5,1283 672.5,1283 673.5,1283.1 674.5,1282.9 675.5,1283.2 676.5,1283.1 677.5,1282.8 678.5,1283 679.4,1282.7 679.5,1282.7 679.6,1282.2 679.8,1282 680,1281.1 680.2,1280.9 680.2,1280.7 680.3,1280.7 680.5,1281.2 680.5,1281.1 680.7,1281.7 680.9,1282.3 681.1,1283.1 681.5,1282.9 682.5,1282.7 683.4,1283 683.5,1281.8 683.8,1276.5 684.1,1269.8 684.4,1264.4 684.5,1262.5 684.6,1259.7 684.8,1256.7 684.9,1259.7 685.1,1264 685.4,1269.8 685.5,1272.3 685.7,1276.1 686.1,1282.8 686.5,1282.7 687.5,1282.6 688.5,1282.8 689.5,1282.8 690.5,1282.9 690.5,1282.7 690.8,1281.6 691.1,1280.4 691.3,1279.2 691.4,1278.4 691.5,1278.1 691.5,1278.1 691.6,1278.3 691.8,1279.1 692,1280.4 692.3,1282 692.5,1282.8 692.6,1282.8 693.5,1283.2 694.5,1283 695.5,1283.1 696.5,1283.1 697.5,1282.6 698.5,1282.7 699.1,1283.1 699.5,1281.7 699.5,1281.8 699.8,1280.2 700,1279.6 700.2,1278.6 700.3,1277.9 700.4,1278.7 700.5,1278.9 700.6,1279.4 700.8,1280.3 701.1,1281.9 701.5,1282.7 702.5,1282.8 703.5,1282.7 704.5,1282.6 705.5,1282.8 706.5,1282.6 706.6,1282.9 707,1279.7 707.3,1276.4 707.5,1274.2 707.5,1273.8 707.7,1271.7 707.8,1270.5 707.9,1271.8 708.1,1273.7 708.4,1276.9 708.5,1278.5 708.7,1279.7 709,1283 709.2,1283 709.5,1279.9 709.6,1278.4 710,1273.6 710.2,1269.7 710.4,1266.8 710.5,1265.6 710.6,1264.6 710.7,1267 710.9,1269.9 711.2,1273.7 711.5,1278.4 711.5,1278.2 711.9,1283.1 712.5,1282.8 713.5,1283.1 714.5,1282.9 715.5,1283.1 716.5,1282.7 717.5,1282.8 718,1282.8 718.4,1281.9 718.5,1281.3 718.6,1280.3 718.8,1279.4 719,1278.4 719.1,1277.7 719.2,1278.3 719.4,1279.1 719.5,1280 719.6,1280.4 719.8,1281.9 720.1,1283 720.5,1283.1 721.5,1282.8 722.5,1282.8 723.5,1282.8 724.3,1282.7 724.5,1281.7 724.6,1281.1 724.9,1279.7 725.1,1277.7 725.3,1276.8 725.4,1275.8 725.5,1276.9 725.5,1276.7 725.6,1278 725.8,1279.6 726.1,1281.2 726.4,1282.7 726.5,1283.1 727.3,1282.6 727.5,1282.1 727.6,1281 727.9,1278.8 728.1,1276.9 728.3,1275.1 728.4,1274.3 728.5,1275.2 728.5,1275.5 728.6,1276.6 728.8,1278.7 729.1,1280.7 729.4,1282.9 729.5,1282.6 730.5,1282.6 731.5,1283.1 732.5,1282.8 733.5,1282.8 734.1,1283.2 734.5,1282.3 735,1278.4 735.5,1271.2 735.6,1268.4 736.2,1255.9 736.5,1247.3 736.6,1243.6 736.9,1235 737.2,1243.9 737.5,1253.6 737.6,1255.9 738.1,1268.4 738.5,1274.4 738.8,1278.8 739.5,1282.8 739.6,1282.7 740.5,1282.8 741.5,1283.2 742.5,1283.1 743.5,1283.1 743.7,1282.9 744.1,1280.2 744.4,1277.3 744.5,1276.2 744.6,1274.9 744.8,1272.9 744.9,1272 745,1273 745.2,1274.6 745.5,1277.5 745.5,1277.5 745.8,1280 746.1,1282.9 746.5,1282.7 747.5,1282.8 748.5,1282.8 749.5,1282.9 750.5,1283 751.4,1283 751.5,1282.6 752.3,1279.6 752.5,1277.5 752.9,1272.3 753.5,1263.1 753.9,1254.8 754.2,1247.7 754.5,1254.7 754.5,1255.2 754.9,1263.3 755.4,1272.6 755.5,1273.7 756.1,1279.9 756.2,1280.4 756.5,1280.1 756.6,1278.9 756.9,1274.9 756.9,1274.5 757.1,1271.5 757.3,1268.3 757.4,1266.5 757.5,1267.7 757.6,1268.3 757.7,1271.3 758,1274.7 758.3,1279 758.5,1281.4 758.6,1283.1 759.5,1282.7 760.5,1282.8 761,1282.7 761.4,1279.6 761.5,1278 761.7,1276.4 761.9,1273.2 762.1,1271 762.2,1269.9 762.3,1271.5 762.5,1273.3 762.5,1273.6 762.8,1276.5 763,1279.8 763.4,1282.9 763.5,1283 764.5,1282.8 765.5,1282.8 766.5,1282.7 767.5,1282.7 768.5,1282.9 769.5,1282.9 770.5,1282.7 771.5,1282.6 772.5,1282.6 773.5,1282.7 774.5,1282.7 775.2,1282.9 775.5,1282.2 775.8,1281.1 776,1280.4 776.1,1279.6 776.2,1279 776.4,1279.8 776.5,1280.4 776.7,1280.9 777,1281.9 777.3,1283 777.5,1283 778.5,1282.7 779.5,1282.8 780.5,1282.8 781.5,1282.9 782.5,1283 783.5,1282.6 784.5,1282.8 785.1,1283.1 785.4,1279.6 785.5,1278.7 785.7,1276.7 786,1273.8 786.1,1271.4 786.3,1270 786.4,1271.2 786.5,1272.9 786.6,1273.5 786.8,1276.4 787.1,1280 787.5,1282.8 787.5,1282.8 788.5,1282.8 789.5,1282.7 790.5,1282.9 791.5,1283 792.5,1282.6 793.5,1282.5 794.5,1282.8 795.5,1282.6 796.5,1282.9 797.5,1282.6 798.4,1282.8 798.5,1282.7 798.7,1282.4 798.9,1281.2 799.1,1280.5 799.2,1280 799.3,1279.8 799.4,1279.9 799.5,1280.4 799.5,1280.8 799.7,1281.3 799.9,1281.9 800.2,1283.1 800.5,1282.6 801.5,1282.7 802.5,1282.9 803.5,1282.8 803.8,1283 804.5,1272.9 804.6,1268.9 805.3,1235.1 805.5,1223.9 805.9,1194.8 806.3,1156.3 806.5,1133.6 806.6,1126.5 806.8,1155.7 807.3,1195.3 807.5,1214.2 807.8,1236.1 808.5,1268.7 809.3,1283 809.5,1283 810.5,1282.8 811.5,1283 811.9,1282.6 812.2,1279.6 812.5,1276.4 812.5,1276 812.8,1272.9 813,1270.5 813.1,1269 813.2,1270.1 813.4,1272.4 813.5,1274 813.6,1275.9 813.9,1279.4 814.3,1282.8 814.5,1282.8 814.5,1282.5 814.9,1280.1 815.1,1276.7 815.3,1274 815.5,1271.9 815.5,1271.9 815.6,1270.4 815.7,1271.8 815.9,1274.1 816.1,1276.4 816.3,1280.1 816.5,1281.8 816.6,1282.7 817.5,1282.6 818.5,1282.8 819.5,1282.7 820.5,1282.5 821.2,1283 821.5,1278.9 821.7,1275.7 822,1268 822.3,1261.3 822.5,1256.6 822.5,1255.5 822.6,1252.9 822.7,1256.3 822.9,1261.4 823.2,1267.7 823.5,1274 823.5,1275.6 824,1282.5 824.5,1283 825.5,1282.8 826.5,1283.1 826.9,1283 827.3,1279.6 827.5,1277.2 827.6,1276.4 827.8,1273.3 828,1270.9 828.1,1270 828.2,1271.2 828.4,1273.6 828.5,1274.4 828.7,1276 829,1279.4 829.3,1282.7 829.5,1283.1 830.5,1283 831.5,1282.7 832.5,1282.8 833.3,1283.1 833.5,1282.4 833.6,1281.6 833.9,1280.5 834.1,1279.2 834.3,1278.6 834.4,1277.7 834.5,1278.5 834.5,1278.4 834.6,1279.1 834.9,1280.6 835.1,1281.7 835.4,1282.6 835.5,1282.8 836.5,1283 837.5,1282.7 838.5,1282.7 839.5,1282.8 840.4,1283.1 840.5,1282.3 840.7,1281.3 840.9,1279.7 841.1,1278 841.3,1277.2 841.4,1276.1 841.5,1276.8 841.5,1277 841.7,1278.3 841.9,1279.8 842.1,1281.4 842.5,1282.5 842.5,1283 843.5,1283.1 844.5,1282.6 845.5,1282.6 846.5,1282.6 847.5,1282.6 848.5,1282.6 849.5,1282.8 850.5,1282.9 851.5,1282.8 851.5,1282.8 851.8,1279.8 852.1,1276.5 852.4,1273.7 852.5,1272.1 852.6,1271.2 852.7,1269.5 852.8,1271.1 853,1273.2 853.2,1276.5 853.5,1279.5 853.5,1279.4 853.9,1282.7 854.5,1282.8 855.5,1282.9 856.5,1283.1 857.5,1282.7 858.5,1282.9 859.1,1282.7 859.5,1275.6 859.8,1267.7 860.1,1261.2 860.3,1255.8 860.5,1252.6 860.5,1253.8 860.6,1255.9 860.8,1261 861.1,1267.7 861.4,1275.5 861.5,1277.5 861.8,1282.7 862.5,1282.8 863.5,1282.8 864.5,1282.7 865.5,1282.7 866.5,1282.5 867.5,1282.5 868.5,1282.6 869.2,1282.5 869.5,1281.8 869.5,1282.1 869.8,1280.7 870,1280 870.1,1279.1 870.2,1278.8 870.3,1279.1 870.5,1280 870.5,1280 870.7,1280.5 871,1281.5 871.3,1283.1 871.5,1282.7 872.5,1282.9 873.5,1283.1 874.5,1283.1 875.5,1282.8 876.5,1282.7 877.5,1282.8 878.5,1282.9 879.5,1282.5 879.7,1283 880,1281.4 880.3,1280.4 880.5,1279.6 880.5,1279.6 880.6,1278.7 880.8,1278.2 880.9,1278.5 881,1279.4 881.2,1280.5 881.5,1281.7 881.5,1281.6 881.8,1282.7 882.5,1282.8 883.5,1282.5 884.5,1282.8 885.5,1282.5 886.5,1282.8 887.5,1282.5 888.5,1282.6 889.5,1282.8 890.5,1282.9 891.2,1283.1 891.5,1277 891.6,1275.2 891.9,1266.9 892.2,1260 892.4,1254.5 892.5,1252 892.5,1251.1 892.7,1254.4 892.9,1260.1 893.1,1267 893.5,1275.2 893.5,1275.7 893.9,1282.7 894.5,1282.7 895.5,1282.6 896,1282.6 896.3,1281.9 896.5,1280.9 896.6,1280.7 896.8,1279.3 896.9,1278.7 897,1277.7 897.1,1278.6 897.3,1279.3 897.5,1280.3 897.5,1280.8 897.8,1281.4 898.1,1283 898.5,1282.9 899.5,1283.1 900.5,1282.7 901.5,1283 902.5,1282.8 903.5,1282.8 904.5,1282.8 905.5,1282.6 906.5,1282.8 907.5,1282.6 908.5,1282.5 909.5,1282.9 910.5,1282.5 911.5,1283 912.5,1282.6 913.5,1283 914.5,1282.6 915.5,1282.9 916.2,1282.7 916.5,1282.3 916.5,1281.9 916.7,1281.3 916.9,1280.7 917,1280.6 917.1,1280.2 917.2,1280.2 917.3,1281.1 917.5,1281.7 917.7,1282 918,1282.8 918.5,1282.6 919.5,1282.7 920.5,1282.6 921.5,1282.6 922.5,1282.8 922.5,1282.6 922.7,1282.2 923,1281.5 923.1,1281.1 923.3,1280.9 923.4,1280.4 923.5,1281 923.5,1280.7 923.6,1280.9 923.8,1281.6 924,1282.4 924.3,1282.6 924.5,1282.7 925.5,1282.9 926.5,1282.9 926.9,1282.6 927.5,1280.2 927.7,1277.8 928.4,1265.9 928.5,1262.9 928.9,1251.3 929.4,1236.9 929.5,1231.1 929.6,1226.1 929.9,1236.7 930.3,1250.7 930.5,1256.7 930.9,1265.9 931.5,1277.1 931.5,1277.6 932.4,1282.6 932.5,1283 933.5,1282.5 934.5,1282.7 935.5,1282.5 936.5,1282.7 937.5,1282.7 938.5,1283 939.5,1283 939.8,1282.7 940.2,1277.8 940.5,1273.1 940.5,1272.3 940.8,1267.9 941,1263.8 941.1,1261.5 941.3,1264.3 941.5,1267.7 941.5,1267.9 941.8,1272.3 942.1,1277.8 942.5,1282.6 942.5,1282.6 943.5,1282.6 944.5,1283 945.5,1282.7 946.5,1282.9 947.5,1282.9 947.7,1282.6 948.1,1280.6 948.4,1278.1 948.5,1276.9 948.6,1275.8 948.8,1274.1 948.9,1273 949,1273.9 949.2,1275.8 949.5,1278.1 949.5,1278.1 949.8,1280.4 950.1,1282.7 950.5,1282.6 951.5,1283 952.5,1282.9 953.5,1282.5 954,1282.7 954.4,1279.8 954.5,1278.4 954.6,1276.7 954.9,1274.4 955.1,1272.2 955.2,1271.1 955.3,1272.1 955.5,1274.4 955.5,1274.4 955.7,1277 956,1279.7 956.4,1282.9 956.5,1282.7 957.5,1282.6 958.5,1282.5 959.5,1282.9 959.8,1282.4 960,1281.6 960.1,1280.7 960.2,1280.1 960.4,1278.9 960.5,1277.7 960.5,1277.5 960.6,1276.4 960.8,1275.6 960.8,1275 961,1274 961,1274.6 961.1,1275.5 961.1,1275.6 961.2,1275.5 961.4,1276.6 961.5,1277.1 961.5,1277.2 961.5,1277.5 961.7,1278.8 961.8,1279.6 962,1281.1 962.2,1282.2 962.3,1282.5 962.5,1282.7 963.5,1282.7 964.5,1282.6 965.5,1282.5 966.3,1282.7 966.5,1281 966.7,1279.4 966.8,1278.1 967,1275.6 967.1,1274.3 967.2,1272.9 967.4,1270.7 967.4,1270.3 967.5,1269.4 967.5,1268.9 967.6,1270.9 967.7,1271.4 967.8,1270.6 967.9,1270.2 968,1268.6 968.1,1270 968.1,1270.3 968.3,1272.7 968.4,1273.9 968.5,1275.5 968.5,1275.8 968.7,1278.4 968.8,1279.5 969.2,1282.7 969.5,1282.9 970.5,1282.4 971.5,1282.6 972.5,1282.6 973.5,1282.4 974.5,1282.5 974.9,1282.4 975.1,1280.3 975.3,1277.5 975.5,1274.7 975.5,1274.2 975.7,1271.7 975.9,1268.5 976,1267.6 976.1,1264 976.2,1263.5 976.3,1261.1 976.4,1262.3 976.4,1262.5 976.5,1261.5 976.5,1261.1 976.6,1263.7 976.8,1267.3 976.9,1268.4 977.1,1272.1 977.2,1274.5 977.4,1277.5 977.5,1278.7 977.6,1280.6 977.8,1282.4 978.5,1282.6 978.8,1278.8 979.1,1275.2 979.3,1272.1 979.4,1269.5 979.5,1268.5 979.5,1267.9 979.6,1269.8 979.8,1271.9 980,1274.9 980,1275.3 980.3,1278.9 980.5,1281.7 980.6,1282.7 981.5,1282.7 982.5,1282.5 983.5,1282.6 984.5,1282.2 985.5,1282.3 986,1282.4 986.3,1280 986.5,1278.7 986.6,1277.9 986.8,1275.9 987,1274.2 987.1,1273 987.2,1274.2 987.3,1275.5 987.5,1277.3 987.5,1277.6 987.8,1280.1 988.1,1282.7 988.5,1282.5 989.5,1282.7 990.5,1282.5 991.5,1282.4 992.5,1282.6 993.5,1282.2 994.5,1282.5 995.5,1282.4 996.5,1282.5 997.5,1282.4 997.8,1282.6 998.1,1281.6 998.4,1280.1 998.5,1279.7 998.6,1279.3 998.7,1278.4 998.9,1277.8 999,1278.7 999.1,1279.1 999.3,1280.2 999.5,1281.1 999.6,1281.8 999.9,1282.5 1000.5,1282.3 1001.5,1282.3 1002.5,1282.4 1003.5,1282.7 1004.5,1282.2 1005.5,1282.3 1005.5,1282.6 1005.9,1271.7 1006.3,1261.2 1006.5,1253.2 1006.5,1251.9 1006.7,1244.9 1006.9,1240 1007,1244.9 1007.2,1252.4 1007.5,1261.4 1007.5,1262.1 1007.8,1272 1008.2,1282.7 1008.5,1282.4 1009.5,1282.6 1010.5,1282.4 1011.5,1282.7 1011.8,1282.7 1012.2,1275.8 1012.5,1269.8 1012.5,1269.6 1012.8,1263.7 1013,1258.8 1013.1,1256 1013.3,1258.8 1013.5,1263.3 1013.5,1264.3 1013.7,1269 1014.1,1276.1 1014.5,1282.6 1014.5,1282.8 1015.5,1282.4 1016.5,1282.2 1017.5,1282.4 1018.5,1282.6 1019.2,1282.6 1019.5,1282.1 1019.5,1281.6 1019.7,1280.9 1019.9,1280.4 1020.1,1279.5 1020.1,1279.4 1020.2,1279.9 1020.4,1280.1 1020.5,1280.8 1020.6,1280.7 1020.8,1281.9 1021,1282.8 1021.5,1282.6 1022.5,1282.4 1023.5,1282.7 1024.5,1282.2 1025.1,1282.5 1025.5,1276.5 1025.5,1276.3 1025.8,1270.7 1026.1,1265.5 1026.3,1262.1 1026.4,1259.4 1026.5,1260.9 1026.5,1261.6 1026.8,1265.7 1027,1270.8 1027.4,1276.8 1027.5,1279.2 1027.8,1282.7 1028.5,1282.3 1029.5,1282.3 1029.6,1282.3 1030,1275.8 1030.3,1268.5 1030.5,1264.2 1030.6,1262.1 1030.8,1257.7 1030.9,1254.3 1031.1,1257.4 1031.3,1262.3 1031.5,1267.6 1031.5,1268.1 1031.9,1275.3 1032.3,1282.7 1032.5,1282.7 1033.5,1282.5 1034.5,1282.6 1035.5,1282.4 1036.5,1282.4 1036.6,1282.5 1037,1281.1 1037.2,1279.3 1037.4,1277.4 1037.5,1277 1037.6,1276.2 1037.7,1275.6 1037.8,1276.5 1038,1277.8 1038.2,1279.2 1038.4,1281 1038.5,1281.1 1038.8,1282.2 1039.5,1282.2 1040.4,1282.6 1040.5,1282.1 1040.7,1280 1041,1278 1041.2,1275.8 1041.3,1274.2 1041.5,1272.8 1041.5,1273.3 1041.6,1274.1 1041.7,1275.6 1041.9,1277.9 1042.2,1280.4 1042.5,1282.5 1042.5,1282.4 1043.5,1282.8 1044.5,1282.3 1045.5,1282.5 1046.5,1282.4 1047.5,1282.2 1048,1282.4 1048.5,1279 1048.8,1273.6 1049.5,1251.3 1049.5,1250.7 1050,1224.6 1050.5,1198.9 1050.5,1195.8 1050.7,1179.5 1051,1199 1051.4,1225 1051.5,1229.4 1052,1251.5 1052.5,1269.8 1052.7,1273.5 1053.5,1282.3 1053.5,1282.6 1054.5,1282.3 1055.2,1282.8 1055.5,1282.5 1055.7,1281.9 1056.5,1281.8 1056.7,1281.5 1057.5,1280.7 1057.5,1281 1058.2,1280.6 1058.5,1279.9 1058.7,1279.7 1059,1279.4 1059.3,1279.7 1059.5,1280.2 1059.8,1279.9 1060.5,1280.1 1060.5,1279.9 1061.3,1279.7 1061.5,1280.1 1062.3,1279.8 1062.5,1280 1063.2,1280.1 1063.5,1278.7 1064,1255.7 1064.3,1235.7 1064.5,1215.8 1065.2,1123.9 1065.5,1077.3 1066,986.6 1066.5,864.4 1066.5,856.4 1066.9,757.8 1067.3,856.7 1067.5,912.9 1067.8,988.7 1068.5,1111.2 1068.6,1123.6 1068.9,1171.8 1069.3,1218.5 1069.5,1234.1 1069.5,1235.9 1069.7,1239.6 1069.9,1221.7 1070.1,1207.6 1070.3,1198.2 1070.4,1207.5 1070.5,1213.9 1070.6,1221.4 1070.6,1223.4 1070.9,1239.5 1071.2,1261 1071.5,1277.3 1071.6,1281.8 1072.5,1281.9 1073.5,1282.1 1074.5,1282.3 1075.3,1282.5 1075.5,1282.2 1076.5,1282.6 1076.7,1282.4 1077.1,1281 1077.3,1280 1077.5,1278.6 1077.5,1278.1 1077.7,1277.2 1077.8,1276.6 1077.9,1277.4 1078.1,1278.1 1078.3,1279.7 1078.5,1281.1 1078.5,1281.3 1078.8,1282.4 1079.5,1282.6 1080.5,1282.3 1081,1282.2 1081.3,1279.5 1081.5,1277.6 1081.6,1277 1081.8,1274.2 1082,1272.5 1082.1,1271.2 1082.2,1272.5 1082.3,1274.6 1082.5,1276.6 1082.5,1276.9 1082.8,1279.9 1083.1,1282.6 1083.5,1282.4 1084.5,1282.6 1085.5,1282.2 1085.5,1282.5 1085.9,1275.5 1086.2,1269 1086.5,1262.8 1086.5,1262.5 1086.7,1258.2 1086.8,1254.9 1087,1258 1087.2,1262.8 1087.4,1268.6 1087.5,1270.5 1087.8,1275.5 1088.2,1282.3 1088.5,1282.4 1089.5,1282.6 1090.5,1282.4 1091.5,1282.4 1092.5,1282.5 1093.5,1282.4 1094.5,1282.3 1095,1282.7 1095.3,1280.8 1095.5,1279.8 1095.6,1278.5 1095.8,1277.4 1096,1275.7 1096.1,1275 1096.2,1275.7 1096.3,1277 1096.5,1278.5 1096.6,1278.8 1096.8,1281.1 1097.1,1282.2 1097.5,1282.7 1098.5,1282.7 1099.5,1282.4 1100.5,1282.7 1101.5,1282.3 1101.9,1276.8 1102.2,1270.5 1102.5,1265.8 1102.5,1265.5 1102.7,1261.7 1102.9,1258.6 1103,1261.1 1103.2,1265.4 1103.5,1270.8 1103.5,1271.2 1103.8,1276.6 1104.2,1282.6 1104.5,1282.4 1105.5,1282.7 1106.5,1282.4 1107.5,1282.5 1108.5,1282.7 1109.5,1282.2 1110.5,1282.4 1110.6,1282.6 1110.9,1281.1 1111.2,1279.3 1111.4,1277.8 1111.5,1277.2 1111.5,1277 1111.6,1275.8 1111.7,1276.7 1111.9,1277.6 1112.1,1279.1 1112.4,1281 1112.5,1281.8 1112.7,1282.6 1113.5,1282.3 1114.5,1282.5 1115.5,1282.7 1116.5,1282.3 1117.5,1282.3 1118.5,1282.4 1119.5,1282.5 1120.5,1282.7 1121.5,1282.3 1122.5,1282.5 1123.2,1282.5 1123.5,1280.4 1123.6,1279.7 1123.9,1276.4 1124.1,1273.2 1124.3,1271.1 1124.4,1269.4 1124.5,1270.5 1124.5,1271.1 1124.7,1273.3 1125,1276.2 1125.2,1279.7 1125.5,1281.6 1125.6,1282.8 1126.5,1282.6 1127.5,1282.3 1128.5,1282.6 1129.5,1282.3 1130.5,1282.2 1130.8,1282.6 1131,1281.3 1131.3,1280.5 1131.5,1279.3 1131.5,1279.1 1131.6,1278.4 1131.7,1278 1131.8,1278.3 1131.9,1279.5 1132.1,1280.5 1132.3,1281.5 1132.5,1282.5 1132.6,1282.2 1133.5,1282.6 1134.5,1282.3 1135.5,1282.8 1136.5,1282.3 1137.5,1282.2 1137.7,1282.7 1138.5,1271.7 1138.5,1271.1 1139.2,1243.2 1139.5,1226.9 1139.8,1209.8 1140.2,1176.7 1140.5,1152.9 1140.5,1157.3 1140.7,1177.4 1141.1,1209.6 1141.5,1232.8 1141.7,1243.5 1142.4,1271 1142.5,1274.4 1143.2,1282.6 1143.5,1282.5 1144.5,1282.3 1145.1,1282.8 1145.3,1281.1 1145.5,1280.2 1145.6,1279.9 1145.7,1278.2 1145.9,1277.2 1146,1276.9 1146.1,1277.6 1146.2,1278.2 1146.4,1279.6 1146.5,1280.7 1146.6,1281.3 1146.9,1282.7 1147.5,1282.5 1148.5,1282.3 1149.5,1282.6 1150.5,1282.4 1150.7,1282.3 1151,1280.3 1151.3,1278 1151.5,1276 1151.5,1275.7 1151.6,1274.8 1151.7,1273.5 1151.8,1274.5 1152,1276.3 1152.2,1278 1152.5,1280.7 1152.5,1280.5 1152.8,1282.4 1153.5,1282.3 1154.4,1282.5 1154.5,1282.4 1154.8,1281.1 1155,1279 1155.2,1277.7 1155.4,1276.1 1155.5,1275.5 1155.5,1275.3 1155.6,1276.2 1155.8,1277.7 1156,1278.9 1156.2,1280.7 1156.5,1282.8 1156.5,1282.2 1157.5,1282.5 1158.5,1282.3 1159.5,1282.5 1160.5,1282.7 1161.5,1282.3 1162.5,1282.7 1163.5,1282.6 1164.5,1282.3 1165,1282.3 1165.3,1280.2 1165.5,1278.4 1165.5,1278 1165.8,1275.5 1165.9,1274.3 1166,1273.1 1166.1,1273.8 1166.3,1275.7 1166.5,1277.7 1166.5,1278 1166.8,1280.4 1167.1,1282.3 1167.5,1282.2 1168.5,1282.2 1169.5,1282.5 1170.5,1282.6 1171.5,1282.3 1172.5,1282.6 1173.2,1282.7 1173.5,1280.8 1173.5,1280.2 1173.8,1277.8 1174,1275.9 1174.2,1274.7 1174.3,1273.7 1174.4,1274.2 1174.5,1275.7 1174.5,1276.3 1174.8,1278 1175,1280.7 1175.3,1282.7 1175.5,1282.3 1176.5,1282.3 1177.5,1282.7 1178.5,1282.4 1179.5,1282.2 1180.5,1282.2 1181.5,1282.6 1182.5,1282.6 1183.5,1282.3 1184.5,1282.7 1185.5,1282.4 1186.5,1282.3 1187.5,1282.3 1188.5,1282.6 1189,1282.6 1189.3,1281.1 1189.5,1279.5 1189.6,1279.2 1189.8,1277.4 1190,1276 1190.1,1275.6 1190.2,1276.1 1190.3,1277.3 1190.5,1279 1190.5,1278.8 1190.8,1280.9 1191.1,1282.4 1191.5,1282.3 1192.5,1282.8 1193.5,1282.2 1194.5,1282.2 1195.5,1282.4 1196.5,1282.5 1197.5,1282.5 1198.5,1282.6 1199.5,1282.5 1200.5,1282.5 1201.5,1282.8 1202.5,1282.2 1203.5,1282.5 1204.5,1282.4 1205.3,1282.8 1205.5,1281.8 1205.6,1281 1205.9,1279.5 1206.1,1278.2 1206.3,1276.8 1206.4,1275.7 1206.5,1276.5 1206.5,1276.7 1206.6,1277.6 1206.8,1279.1 1207.1,1281.3 1207.4,1282.4 1207.5,1282.6 1208.5,1282.3 1209.5,1282.3 1210.5,1282.8 1211.5,1282.2 1212.5,1282.7 1213.5,1282.2 1214.5,1282.5 1215.5,1282.4 1215.6,1282.5 1216.5,1281.5 1216.6,1281 1217.4,1277.9 1217.5,1277 1218.1,1273.3 1218.5,1269.7 1218.6,1269.1 1218.9,1266.3 1219.2,1269.3 1219.5,1271.9 1219.7,1273.6 1220.4,1277.7 1220.5,1278.2 1221.2,1281.2 1221.5,1281.8 1222.2,1282.4 1222.5,1282.6 1223.5,1282.3 1224.5,1282.7 1225.5,1282.7 1226.5,1282.6 1227.5,1282.6 1228.5,1282.8 1229.5,1282.5 1230.5,1282.4 1231.5,1282.6 1232.5,1282.6 1233.5,1282.4 1234.5,1282.3 1235.5,1282.8 1236.5,1282.6 1237.5,1282.6 1238.5,1282.2 1239.5,1282.4 1239.7,1282.6 1240,1281.5 1240.2,1279.6 1240.4,1278.2 1240.5,1278.2 1240.6,1277.6 1240.7,1276.8 1240.8,1277.6 1241,1278.3 1241.2,1279.6 1241.4,1281 1241.5,1281.3 1241.7,1282.7 1241.8,1282.7 1242.5,1281.8 1242.5,1281.7 1243.2,1279.2 1243.5,1277.9 1243.8,1275.9 1244.2,1273 1244.5,1270.8 1244.5,1271.6 1244.7,1273.2 1245.2,1276.2 1245.5,1278 1245.7,1279.3 1246.4,1281.8 1246.5,1281.9 1247.2,1282.8 1247.5,1282.8 1248.5,1282.6 1249.5,1282.4 1250.5,1282.7 1251.5,1282.8 1252.5,1282.5 1253.5,1282.4 1254.5,1282.6 1255.5,1282.4 1256.5,1282.3 1257.5,1282.4 1257.7,1282.4 1258,1281.5 1258.3,1280.4 1258.5,1279.6 1258.5,1279.3 1258.6,1278.5 1258.8,1278 1258.8,1278.7 1259,1279.4 1259.2,1280.3 1259.5,1281.4 1259.5,1281.8 1259.8,1282.6 1260.5,1282.4 1261.5,1282.3 1262.5,1282.3 1263.5,1282.2 1264.5,1282.6 1265.5,1282.7 1266.5,1282.5 1267.5,1282.2 1268.5,1282.4 1269.5,1282.3 1269.6,1282.2 1269.9,1280.7 1270.2,1278.6 1270.5,1276.8 1270.5,1276.6 1270.7,1275 1270.8,1274.4 1270.9,1275.1 1271.1,1276.5 1271.3,1278.6 1271.5,1279.5 1271.6,1280.7 1272,1282.4 1272.5,1282.5 1273,1282.3 1273.5,1281.8 1273.9,1280.7 1274.5,1275.5 1274.5,1274.9 1275.1,1268.6 1275.5,1262.7 1275.5,1262.3 1275.8,1257.5 1276.1,1262.5 1276.5,1268.7 1276.5,1268.8 1277,1275.1 1277.5,1278.9 1277.7,1280.3 1278.5,1282.8 1278.5,1282.3 1279.5,1282.5 1280.5,1282.3 1281.5,1282.2 1282.5,1282.3 1283.5,1282.4 1284.5,1282.3 1285.5,1282.7 1286.5,1282.4 1287.4,1282.7 1287.5,1282.6 1287.7,1282.4 1287.9,1281.6 1288.1,1280.8 1288.2,1280.5 1288.3,1280.2 1288.4,1280.5 1288.5,1280.7 1288.5,1281 1288.7,1281.6 1289,1282.3 1289.2,1282.3 1289.5,1282.4 1290.5,1282.6 1291.5,1282.2 1292.5,1282.6 1293.5,1282.2 1294.5,1282.2 1295.5,1282.6 1296.5,1282.5 1297.4,1282.5 1297.5,1282.4 1297.7,1282.1 1297.9,1281.9 1298.1,1281.4 1298.3,1281.5 1298.3,1281.2 1298.4,1281.4 1298.5,1281.1 1298.6,1281.4 1298.8,1281.8 1299,1282.1 1299.2,1282.5 1299.5,1282.5 1300.5,1282.4 1301.5,1282.3 1302.5,1282.2 1303.5,1282.3 1304.5,1282.5 1305.5,1282.8 1306.2,1282.6 1306.5,1281.9 1306.5,1281.9 1306.7,1281.2 1306.9,1281 1307,1280 1307.1,1280.2 1307.2,1280.5 1307.3,1280.6 1307.5,1281.3 1307.5,1281.1 1307.8,1282.2 1308,1282.2 1308.5,1282.8 1309.5,1282.4 1310.5,1282.6 1311.5,1282.8 1312.5,1282.7 1313.5,1282.7 1314.5,1282.6 1315,1282.4 1315.3,1282.2 1315.5,1281.8 1315.5,1281.4 1315.7,1281.4 1315.8,1280.8 1315.9,1280.7 1316,1280.5 1316.1,1281.1 1316.3,1281.6 1316.5,1282 1316.5,1282.2 1316.8,1282.5 1317.5,1282.4 1318.5,1282.3 1319.5,1282.5 1320.5,1282.4 1321.5,1282.3 1322.5,1282.2 1323.5,1282.5 1324.5,1282.6 1325.5,1282.3 1326.5,1282.7 1327.4,1282.3 1327.5,1281.9 1327.7,1281 1328,1279.9 1328.2,1278.2 1328.3,1277.1 1328.4,1276.8 1328.5,1277.1 1328.5,1277.3 1328.7,1278.4 1328.9,1279.6 1329.2,1281.5 1329.5,1282.4 1329.5,1282.6 1330.5,1282.6 1331.5,1282.5 1332.5,1282.6 1333.5,1282.4 1334.5,1282.3 1335.5,1282.5 1336.5,1282.7 1337.5,1282.5 1338.5,1282.5 1339.5,1282.7 1340,1282.7 1340.5,1282.8 1341.5,1282.6 1342.5,1282.6 1343.5,1282.4 1344.5,1282.3 1345.5,1282.7 1346.5,1282.6 1347.5,1282.8 1348.5,1282.3 1349.5,1282.7 1350.5,1282.3 1351.5,1282.6 1352.5,1282.4 1353.5,1282.7 1354.5,1282.5 1355.5,1282.4 1356.5,1282.7 1357.5,1282.3 1358.5,1282.6 1359.5,1282.6 1360,1282.6 1360.5,1282.7 1361.5,1282.3 1362.5,1282.7 1363.3,1282.6 1363.5,1281.1 1363.6,1280.7 1363.8,1278.4 1364,1276.7 1364.2,1275.1 1364.3,1274.5 1364.4,1275.2 1364.5,1275.9 1364.6,1276.2 1364.8,1278.2 1365,1280.2 1365.4,1282.2 1365.5,1282.5 1366.5,1282.2 1367.5,1282.2 1368.5,1282.7 1368.9,1282.3 1369.2,1279.4 1369.5,1276.9 1369.5,1276.2 1369.8,1274.1 1370,1271.9 1370.1,1270.2 1370.2,1271.6 1370.4,1273.8 1370.5,1275.3 1370.6,1276.5 1370.9,1279.4 1371.3,1282.2 1371.5,1282.6 1372.5,1282.3 1373.5,1282.4 1374.5,1282.4 1375.5,1282.5 1376.5,1282.7 1377.5,1282.6 1378.5,1282.7 1379.5,1282.3 1380.5,1282.5 1381.5,1282.5 1382.5,1282.6 1383.5,1282.4 1384.5,1282.7 1384.7,1282.4 1385,1281.7 1385.2,1280.4 1385.4,1279.7 1385.5,1278.9 1385.5,1278.8 1385.6,1278.5 1385.7,1279 1385.8,1279.6 1386,1280.7 1386.2,1281.7 1386.5,1282.4 1386.5,1282.2 1387.5,1282.3 1388.5,1282.2 1389.5,1282.6 1390.5,1282.3 1391.5,1282.5 1392.3,1282.5 1392.5,1281.3 1392.7,1280.3 1392.9,1277.6 1393.1,1275.6 1393.3,1274.3 1393.4,1272.8 1393.5,1274.2 1393.5,1273.9 1393.7,1275.5 1393.9,1277.7 1394.1,1280.3 1394.4,1282.6 1394.5,1282.6 1395.1,1282.2 1395.5,1279.7 1396,1268 1396.5,1242.7 1396.7,1233.9 1397.2,1191.2 1397.5,1163.6 1397.6,1151.3 1397.9,1121 1398.2,1151.2 1398.5,1183.6 1398.6,1191.2 1399.1,1233.9 1399.5,1254.1 1399.8,1267.6 1400.5,1282.3 1400.7,1282.2 1401.5,1282.4 1401.8,1282.1 1402,1281.9 1402.2,1281 1402.4,1280.2 1402.5,1279.8 1402.6,1279.4 1402.7,1279 1402.8,1279.7 1402.9,1280.1 1403.1,1280.7 1403.3,1281.7 1403.5,1282.2 1403.6,1282.6 1404.5,1282.4 1405.5,1282.1 1406.5,1282.3 1407.5,1282.1 1408.5,1282.4 1409.5,1282.3 1410.5,1282.2 1411.5,1282.6 1411.8,1282.5 1412.2,1277.4 1412.5,1273.8 1412.6,1272.8 1412.8,1268.3 1413,1265.1 1413.2,1263 1413.3,1265.1 1413.5,1268 1413.5,1268.5 1413.8,1272.7 1414.1,1277.8 1414.5,1282 1414.5,1282.3 1415.5,1282.6 1416.5,1282.1 1417.5,1282.1 1418.5,1282.1 1419.5,1282.2 1420.5,1282.1 1421.5,1282.3 1422.5,1282.3 1423.5,1282.2 1424.2,1282.4 1424.5,1280.9 1424.5,1280.6 1424.7,1279 1425,1278.1 1425.1,1276.7 1425.2,1275.7 1425.3,1276.5 1425.5,1278 1425.5,1277.9 1425.7,1279.5 1426,1281 1426.3,1282.1 1426.5,1282.5 1427.5,1282.6 1428.5,1282.6 1429.2,1282.5 1429.5,1281.2 1429.5,1281.4 1429.8,1280 1430,1278.7 1430.1,1277.7 1430.2,1277 1430.3,1277.6 1430.5,1278.6 1430.5,1278.5 1430.7,1279.6 1431,1281.1 1431.3,1282.2 1431.5,1282.6 1432.5,1282.1 1433.5,1282.3 1434.5,1282.3 1435.5,1282.2 1436.5,1282.5 1437.5,1282.6 1437.9,1282.5 1438.3,1280.6 1438.5,1279.3 1438.5,1279.2 1438.7,1278.1 1438.9,1276.8 1439,1275.9 1439.1,1276.8 1439.3,1278.1 1439.5,1278.9 1439.5,1279.7 1439.7,1280.6 1440,1282 1440.5,1282 1441.5,1282.5 1442.5,1282.2 1443.5,1282.5 1444.5,1282.3 1445.5,1282 1446.5,1282.5 1447.1,1282.1 1447.4,1280 1447.5,1279.4 1447.7,1277.1 1448,1274.5 1448.2,1272.7 1448.3,1271.6 1448.4,1272.7 1448.5,1274.2 1448.6,1274.6 1448.8,1277 1449.1,1279.5 1449.5,1282.5 1449.5,1282.2 1450.5,1282 1451.5,1282.4 1452.5,1282.4 1453.4,1282.2 1453.5,1281.6 1453.8,1274.1 1454.2,1266.1 1454.5,1259 1454.5,1257.5 1454.7,1253.6 1454.8,1249.6 1454.9,1253.4 1455.1,1259.1 1455.4,1265.8 1455.5,1268.7 1455.7,1274.3 1456.1,1282.5 1456.5,1282.5 1457.5,1282.2 1458.5,1282.3 1459.5,1282 1460.5,1282.5 1461.5,1282 1462.5,1282.3 1463.5,1282.2 1464.5,1282.4 1465.5,1282.5 1466.5,1282.5 1466.8,1282.5 1467.5,1278.3 1467.6,1275.7 1468.3,1260.4 1468.5,1255.4 1468.9,1241.9 1469.3,1223.7 1469.5,1213.8 1469.6,1210.2 1469.8,1223.6 1470.3,1241.3 1470.5,1250.3 1470.8,1260.5 1471.5,1275.8 1472.3,1281.9 1472.5,1282.3 1473.5,1282.2 1474.5,1282.3 1475.5,1282.2 1475.7,1282 1476.2,1276.5 1476.5,1270.2 1476.5,1269.9 1476.8,1265 1477,1260.4 1477.1,1257.8 1477.2,1260.7 1477.4,1265.1 1477.5,1265.9 1477.7,1270.4 1478,1276.4 1478.5,1282.1 1478.5,1282.3 1479.5,1282.4 1480.5,1282.4 1481.5,1281.9 1482.5,1282.4 1483.5,1282.1 1484.5,1282.4 1485.5,1282.2 1486.5,1282.4 1487.5,1281.9 1488.5,1282.2 1489.5,1282.4 1490.5,1282 1491.5,1282.4 1492.5,1281.9 1493.5,1282.2 1494.5,1281.9 1495.5,1282.3 1496.5,1282 1497.5,1282.3 1498.5,1281.9 1499.5,1282.1 1500.3,1282.2 1500.5,1280.3 1500.7,1277.9 1501,1273.6 1501.3,1269.7 1501.5,1267.1 1501.5,1266.4 1501.7,1264.9 1501.8,1266.7 1502,1269.7 1502.3,1273.2 1502.5,1277 1502.6,1277.7 1503,1282.1 1503.5,1282.1 1504.5,1282 1505.5,1281.9 1506.5,1282 1507.5,1282.3 1508.5,1281.9 1509.5,1282.1 1510.5,1282.3 1511.5,1282 1511.6,1282.3 1512.5,1281.9 1512.7,1281.9 1513.5,1281.2 1513.7,1280.7 1514.5,1279.5 1514.5,1279.7 1515,1278.4 1515.4,1277.2 1515.5,1277.5 1515.8,1278.3 1516.4,1279.6 1516.5,1279.9 1517.2,1280.9 1517.5,1281.6 1518.1,1282.2 1518.5,1282.2 1519.3,1282.1 1519.5,1282.3 1520.5,1282 1521.5,1282 1522.5,1281.8 1523.5,1282 1523.5,1282.4 1523.9,1279.1 1524.2,1275.1 1524.4,1272 1524.5,1270.7 1524.6,1269.6 1524.7,1268.1 1524.8,1269.4 1525,1272.3 1525.2,1275.4 1525.5,1278.4 1525.5,1278.6 1525.9,1281.8 1526.5,1282.3 1527.5,1282.3 1528.5,1282.1 1529.5,1281.9 1530.5,1281.9 1531.5,1282.3 1532.5,1281.9 1533.5,1282.1 1534.5,1281.8 1535.5,1281.9 1536.5,1282.3 1537.5,1282.3 1538.5,1282.1 1539.5,1282 1540.5,1281.9 1541.5,1281.8 1542.5,1281.8 1543.5,1281.9 1544.5,1281.8 1545.5,1281.9 1546.5,1281.8 1547.5,1282.1 1548.2,1282.1 1548.5,1281.8 1548.5,1281.1 1548.8,1280.4 1549,1279.4 1549.2,1278.7 1549.3,1278.1 1549.4,1278.7 1549.5,1279.3 1549.5,1279 1549.8,1280.4 1550,1281.6 1550.3,1282.3 1550.5,1282.1 1551.5,1282 1552.5,1281.9 1553.5,1282 1553.7,1281.9 1554,1278.9 1554.3,1275.7 1554.5,1272.9 1554.5,1272.4 1554.7,1270.2 1554.8,1268.2 1554.9,1270.2 1555,1272.4 1555.3,1275.3 1555.5,1279 1555.5,1278.8 1555.5,1279 1555.8,1281.9 1556.4,1275.7 1556.5,1273.1 1557.1,1259.5 1557.5,1244.3 1557.6,1239.7 1558,1220.8 1558.3,1206.6 1558.5,1217.4 1558.6,1220.9 1559,1239.9 1559.5,1258.3 1559.5,1259.8 1560.2,1275.6 1560.5,1279.2 1561,1281.7 1561.5,1282.3 1561.8,1281.9 1562.5,1277.5 1563.3,1272 1563.5,1270.6 1564.1,1266.5 1564.3,1265.5 1564.5,1262.8 1564.8,1258.3 1565.4,1250.5 1565.5,1248.7 1565.8,1244.9 1566.1,1240.7 1566.3,1242.9 1566.5,1244 1566.8,1246.4 1567.3,1250.5 1567.5,1252.2 1568,1255.6 1568.5,1260 1568.6,1260.2 1568.8,1261.3 1569.5,1264.1 1570.5,1268.2 1571.1,1270.6 1571.5,1271.6 1572.5,1273.7 1573.5,1275.8 1574.3,1277.7 1574.5,1277.5 1575.5,1278.4 1576.5,1279.2 1577.5,1280.3 1578.5,1281.4 1579.3,1281.7 1579.5,1282 1580.5,1282.1 1581.5,1282 1582.1,1281.8 1582.4,1280 1582.5,1278.6 1582.6,1276.8 1582.8,1274.7 1583,1273 1583.1,1271.7 1583.2,1273 1583.4,1274.6 1583.5,1276 1583.6,1276.9 1583.8,1279.7 1584.2,1282.2 1584.5,1282 1585.5,1281.8 1585.8,1282 1586.1,1280.4 1586.4,1278.5 1586.5,1277.9 1586.6,1277.3 1586.8,1276 1586.9,1275.2 1587,1276 1587.1,1276.9 1587.3,1278.4 1587.5,1280.1 1587.6,1280.8 1587.9,1281.8 1588.5,1281.8 1589.5,1281.9 1590.5,1282.2 1591.5,1281.9 1592.5,1281.8 1593.5,1282.3 1594.4,1281.8 1594.5,1282.2 1595.2,1274.9 1595.5,1268.1 1595.9,1255.9 1596.5,1232.9 1596.5,1230.7 1596.9,1211.2 1597.1,1194.5 1597.4,1211.1 1597.5,1215.9 1597.8,1233.1 1598.4,1255.6 1598.5,1259.9 1599.1,1274.5 1599.5,1280.6 1599.9,1282 1600.5,1281.9 1601.5,1282.4 1602.5,1282.1 1603.5,1282.2 1604.5,1282.3 1605.5,1282.2 1606.5,1281.8 1607.5,1281.9 1608.5,1281.8 1609.5,1281.8 1610.5,1281.9 1611.5,1282.2 1612.5,1282.2 1613.5,1282 1614.1,1282.3 1614.5,1279.2 1615,1267.4 1615.5,1245.7 1615.7,1233.5 1616.3,1190.9 1616.5,1172.1 1616.7,1151.6 1617,1120.6 1617.3,1151.3 1617.5,1171.9 1617.7,1190.6 1618.3,1233.5 1618.5,1245.7 1619,1267.6 1619.5,1279.6 1619.7,1281 1619.9,1281.2 1620,1280.8 1620.2,1278.7 1620.4,1277.1 1620.5,1277.3 1620.6,1276.1 1620.7,1275.5 1620.8,1276.6 1621,1277.2 1621.2,1279.1 1621.4,1280.8 1621.5,1281.2 1621.8,1282.3 1622.5,1282.3 1623.5,1282.3 1624.5,1282 1625.5,1282.4 1626.5,1282 1627.5,1282.1 1628.5,1282.4 1629.5,1282.4 1630.5,1282.1 1631.5,1282 1632.5,1282 1633.5,1282.4 1634.5,1282.4 1635.5,1282.4 1636.5,1282.1 1637.5,1282.4 1638.5,1282.2 1638.6,1282.2 1638.9,1281.7 1639.1,1281.6 1639.3,1280.9 1639.4,1280.9 1639.5,1280.3 1639.6,1280.9 1639.7,1280.7 1639.9,1281.6 1640.1,1282.2 1640.4,1282.3 1640.5,1282.4 1641.5,1282.2 1642.5,1282.2 1643.5,1282.5 1644.5,1282 1645.5,1282 1646.5,1282.4 1647.5,1282 1648.5,1282.5 1649.5,1282.3 1650.5,1282.5 1651.1,1282.4 1651.4,1281.6 1651.5,1281.2 1651.6,1280.7 1651.8,1279.9 1651.9,1278.9 1652,1278.5 1652.1,1279.1 1652.3,1279.9 1652.4,1280.5 1652.5,1280.8 1652.7,1281.5 1652.9,1282.1 1653.5,1282 1654.5,1282 1655.5,1282.1 1656.5,1282.3 1657.5,1282.3 1658.5,1282.2 1659.5,1282 1660.5,1282.3 1661.5,1282.4 1662.5,1282.3 1663.5,1282.5 1664.5,1282 1665.5,1282 1666.5,1282.1 1667.5,1282.4 1668.5,1282.3 1669.5,1282.4 1670.5,1282 1671.5,1282.1 1672.5,1282.2 1673.5,1282.2 1674.5,1282.1 1675.5,1282.6 1676.5,1282.6 1677.5,1282.1 1678.5,1282.6 1679.5,1282.4 1679.6,1282.4 1680.5,1255.3 1680.5,1252.6 1681.3,1182.7 1681.5,1158.7 1681.9,1095.6 1682.4,1013.7 1682.5,992 1682.7,950.3 1683,1014 1683.5,1095.5 1683.5,1100.8 1684.1,1182.8 1684.5,1225.1 1684.9,1252.6 1685.5,1279.8 1685.8,1282.6 1686.5,1282.5 1687.5,1282.3 1688.5,1282.5 1689.5,1282.4 1690.5,1282.7 1691.5,1282.1 1692.5,1282.6 1693.5,1282.3 1694.5,1282.6 1695.5,1282.3 1696.5,1282.5 1697.5,1282.2 1698,1282.4 1698.3,1281.9 1698.5,1281.4 1698.5,1281.4 1698.7,1280.8 1698.8,1280.9 1698.9,1280.6 1699,1280.8 1699.1,1281.2 1699.3,1281.4 1699.5,1282 1699.5,1282.2 1699.8,1282.5 1700.5,1282.1 1701.5,1282.2 1702.5,1282.2 1703.5,1282.6 1704.5,1282.4 1705,1282.4 1705.3,1281.7 1705.5,1280.9 1705.5,1281 1705.7,1280.6 1705.8,1280.3 1705.9,1279.7 1706,1280.3 1706.1,1280.4 1706.3,1280.9 1706.5,1281.9 1706.5,1281.6 1706.8,1282.6 1707.5,1282.2 1708.5,1282.6 1709.5,1282.4 1710.5,1282.7 1711.5,1282.2 1712.5,1282.2 1713.5,1282.5 1714.5,1282.2 1715.5,1282.2 1716,1282.3 1716.5,1282.7 1717.5,1282.2 1718.5,1282.6 1719.5,1282.6 1720.5,1282.6 1721.5,1282.5 1722.5,1282.4 1723.5,1282.6 1724.5,1282.4 1725.5,1282.8 1726.5,1282.2 1726.7,1282.7 1726.9,1282.4 1727,1282.2 1727.2,1281.4 1727.3,1281.1 1727.5,1279.6 1727.5,1279.6 1727.7,1279.2 1727.7,1278.7 1727.8,1278.6 1727.9,1279 1727.9,1279 1728,1278.7 1728,1278.5 1728.1,1278.7 1728.2,1279.9 1728.2,1279.8 1728.4,1280.6 1728.5,1280.4 1728.5,1281 1728.7,1281.6 1728.8,1281.9 1729,1282.7 1729.5,1282.2 1730.5,1282.4 1731.5,1282.6 1732.5,1282.4 1733.5,1282.8 1734.5,1282.3 1735.5,1282.7 1736.5,1282.6 1737.5,1282.6 1738.5,1282.8 1739.5,1282.7 1740,1282.3 1740.5,1282.7 1741.5,1282.2 1742.5,1282.6 1743.5,1282.2 1744.5,1282.4 1745.5,1282.7 1746.5,1282.6 1747.5,1282.6 1748.5,1282.3 1749.5,1282.7 1750.5,1282.6 1751.5,1282.6 1752.5,1282.5 1753.5,1282.3 1754.5,1282.6 1755.5,1282.5 1756.4,1282.5 1756.5,1282.7 1757.4,1239.6 1757.5,1229.6 1758.2,1136.9 1758.5,1087.9 1758.9,1011.1 1759.4,892.8 1759.5,858.4 1759.7,801.3 1760,893.3 1760.5,1006.5 1760.5,1013 1761.2,1136.7 1761.5,1183.6 1762,1239.7 1762.5,1271.9 1763,1282.3 1763.5,1282.2 1764.5,1282.5 1765.5,1282.6 1766.5,1282.4 1767.5,1282.4 1768.5,1282.4 1769.5,1282.3 1770.5,1282.5 1771.5,1282.5 1772.5,1282.7 1773.5,1282.6 1774.5,1282.6 1775.5,1282.3 1776.5,1282.3 1777.5,1282.5 1778.5,1282.2 1779.5,1282.2 1780.5,1282.4 1781.5,1282.2 1782.5,1282.7 1783.5,1282.6 1784.5,1282.5 1785.5,1282.3 1786.5,1282.6 1787.5,1282.5 1788.5,1282.4 1789.5,1282.5 1790.5,1282.6 1791.5,1282.6 1792.5,1282.3 1793.5,1282.4 1794.5,1282.7 1795.5,1282.6 1796.5,1282.4 1797.5,1282.7 1798.5,1282.7 1799.5,1282.3 1800.5,1282.5 1801.5,1282.7 1802.5,1282.6 1803.5,1282.2 1804.5,1282.7 1805.5,1282.3 1806.5,1282.7 1807.5,1282.4 1808.5,1282.6 1809.5,1282.3 1810.5,1282.4 1811.5,1282.5 1811.9,1282.4 1812.3,1281.2 1812.5,1280.1 1812.6,1278.9 1812.9,1277.3 1813.1,1275.7 1813.2,1275 1813.4,1275.8 1813.5,1277 1813.6,1277.1 1813.8,1279.1 1814.2,1281.3 1814.5,1282.6 1814.6,1282.4 1815.5,1282.6 1816.5,1282.8 1817.5,1282.4 1818.5,1282.4 1819.5,1282.5 1820.5,1282.7 1821.5,1282.6 1822,1282.7 1822.3,1282.7 1822.5,1282 1822.5,1281.8 1822.8,1281.1 1822.9,1281.1 1823,1280.4 1823.1,1280.5 1823.3,1281.2 1823.5,1281.8 1823.5,1282.1 1823.8,1282.7 1824.1,1282.4 1824.5,1282.7 1825.5,1282.5 1826.5,1282.4 1827.5,1282.7 1828.5,1282.6 1829.5,1282.3 1830.5,1282.2 1831.5,1282.2 1832.5,1282.3 1833.5,1282.7 1834.5,1282.8 1835.5,1282.7 1836.5,1282.5 1837.5,1282.7 1838.5,1282.7 1839.5,1282.8 1840.5,1282.3 1841.5,1282.4 1842.5,1282.3 1843.5,1282.6 1844.5,1282.2 1845.5,1282.7 1846.5,1282.2 1847.5,1282.5 1848.5,1282.2 1848.9,1282.6 1849.5,1269.4 1849.9,1245.1 1850.5,1188.4 1850.8,1154.1 1851.5,1044.3 1851.5,1034.9 1852,939.8 1852.3,859.7 1852.5,908 1852.6,940.3 1853.2,1044.5 1853.5,1105.3 1853.8,1154.3 1854.5,1229.9 1854.7,1245.3 1855.5,1281.6 1855.7,1282.4 1856.5,1282.7 1857.5,1282.2 1858.5,1282.3 1859.5,1282.6 1860.5,1282.4 1861.5,1282.2 1862.5,1282.6 1863.5,1282.7 1864.5,1282.4 1865.5,1282.7 1866.5,1282.6 1867.5,1282.4 1868.5,1282.7 1869.5,1282.4 1870.5,1282.6 1871.5,1282.8 1872.5,1282.7 1873.5,1282.7 1874.5,1282.3 1875.5,1282.4 1876.5,1282.7 1877.5,1282.5 1878.5,1282.2 1879.5,1282.4 1880.5,1282.6 1881.5,1282.3 1882.5,1282.3 1883.5,1282.6 1884.5,1282.5 1885,1282.6 1885.3,1282.3 1885.5,1282.2 1885.5,1281.9 1885.7,1281.3 1885.8,1281.5 1885.9,1281.3 1886,1281.4 1886.2,1281.6 1886.3,1281.8 1886.5,1282.2 1886.6,1282.7 1886.8,1282.6 1887.5,1282.6 1888.5,1282.6 1889.5,1282.5 1890.5,1282.6 1891.5,1282.6 1892.5,1282.3 1893.5,1282.2 1894.5,1282.5 1895.5,1282.5 1896.5,1282.2 1897.5,1282.7 1898.5,1282.7 1899,1282.4 1899.5,1282.2 1900.5,1282.5 1901.5,1282.2 1902.5,1282.6 1903.5,1282.5 1904.5,1282.5 1905.5,1282.2 1906.5,1282.4 1907.5,1282.3 1908.5,1282.6 1909.5,1282.3 1910.5,1282.2 1911.5,1282.6 1912.5,1282.6 1913.5,1282.2 1914,1282.7 1914.5,1282.8 1915.5,1282.4 1915.8,1282.5 1916.5,1282.3 1916.6,1281.7 1917.3,1278.9 1917.5,1277.5 1917.8,1275.3 1918.2,1272 1918.5,1269.5 1918.5,1269.4 1918.8,1271.9 1919.2,1275.1 1919.5,1277.4 1919.8,1279 1920.4,1281.7 1920.5,1281.9 1921.3,1282.8 1921.5,1282.9 1922.5,1282.7 1923.5,1283.2 1924.5,1282.9 1925.5,1283.3 1926.5,1283.2 1927.5,1282.8 1928.5,1283.3 1928.9,1283.1 1929.3,1282 1929.5,1281.7 1929.7,1281.3 1930,1280.3 1930.2,1279.9 1930.3,1279.4 1930.4,1279.6 1930.5,1279.9 1930.6,1280.6 1930.9,1281.3 1931.2,1282 1931.5,1282.9 1931.6,1283.1 1932.5,1283.2 1933.5,1283.4 1934.5,1283.3 1935.5,1283.7 1936.5,1283.5 1936.5,1283.5 1937.5,1283.6 1938.5,1283.3 1939.5,1283.6 1940.5,1283.5 1941.5,1283.5 1942.5,1283.2 1943.5,1283.5 1944.5,1283.6 1945.5,1283.4 1946.5,1283.4 1947.5,1283.7 1948.5,1283.2 1949.5,1283.4 1950.5,1283.6 1951.5,1283.3 1952.5,1283.4 1953.5,1283.8 1954.5,1283.5 1955.5,1283.4 1956.5,1283.3 1957.5,1283.4 1958.5,1283.5 1959.5,1283.4 1960.5,1283.5 1961.5,1283.6 1962.5,1283.6 1963.5,1283.7 1964.1,1283.3 1964.5,1278.4 1965.2,1255.3 1965.5,1235.2 1966.1,1189.5 1966.5,1145.2 1966.8,1110.3 1967.3,1033.5 1967.5,1008.4 1967.7,975.4 1968.1,1033.2 1968.5,1095.9 1968.6,1110.4 1969.3,1189.4 1969.5,1205.1 1970.2,1255.1 1970.5,1267.2 1971.3,1283.2 1971.5,1283.5 1972.5,1283.5 1973.5,1283.5 1974.5,1283.4 1975.5,1283.3 1976.5,1283.4 1977.5,1283.4 1978.5,1283.7 1979.5,1283.6 1980.5,1283.7 1981.5,1283.8 1982.5,1283.4 1983.5,1283.5 1984.5,1283.4 1985.5,1283.3 1986.5,1283.7 1987.5,1283.2 1988.5,1283.4 1989.5,1283.7 1990.5,1283.8 1991.5,1283.4 1992.5,1283.7 1993.5,1283.6 1994.5,1283.7 1995.5,1283.5 1996.5,1283.6 1997.5,1283.6 1998.5,1283.5 1999.5,1283.8 2000.5,1283.3 2001.5,1283.5 2002.5,1283.3 2003.5,1283.2 2004.5,1283.5 2005.5,1283.6 2006.5,1283.7 2007.5,1283.5 2008.5,1283.5 2009.5,1283.7 2010.5,1283.7 2011.5,1283.2 2012.5,1283.2 2013.5,1283.7 2014.5,1283.3 2015.5,1283.4 2016.5,1283.6 2017.5,1283.4 2018.5,1283.6 2019.5,1283.2 2020.5,1283.4 2021.5,1283.3 2022.5,1283.6 2023.5,1283.3 2024.5,1283.8 2025.5,1283.5 2026.5,1283.7 2026.8,1283.4 2027.5,1283.7 2028.5,1283.6 2029.5,1283.5 2030.5,1283.3 2031.5,1283.3 2032.5,1283 2033.5,1283 2034.5,1282.7 2035.5,1282.6 2036.5,1282.5 2037.5,1282.9 2038.5,1282.8 2039.3,1282.3 2039.5,1282.7 2040.5,1282.5 2040.8,1282.4 2041.1,1282.4 2041.3,1282.2 2041.5,1282.4 2041.5,1282.4 2041.7,1281.6 2041.8,1282 2041.9,1281.9 2042.1,1282 2042.3,1282.3 2042.5,1282.3 2042.5,1282.7 2042.9,1282.7 2043.5,1282.7 2044.5,1282.3 2045.5,1282.8 2046.5,1282.7 2047.5,1282.8 2047.5,1282.8 2048.5,1282 2048.5,1282.1 2049.2,1279.5 2049.5,1278.3 2049.8,1276.4 2050.3,1273.2 2050.5,1271.9 2050.6,1270.8 2050.9,1273.6 2051.3,1276.4 2051.5,1277 2051.9,1279.3 2052.5,1281.7 2052.7,1281.9 2053.5,1282.6 2053.6,1282.6 2054.5,1283 2055.5,1282.9 2056.5,1282.6 2057.5,1282.6 2058.5,1283.1 2059.5,1283 2060.5,1282.6 2061.5,1282.6 2062.5,1283 2063.4,1282.7 2063.5,1283 2064.2,1282.5 2064.5,1282.2 2064.9,1280.9 2065.4,1279.1 2065.5,1278.8 2065.8,1276.7 2066.1,1275.3 2066.4,1277 2066.5,1277.7 2066.8,1279.1 2067.4,1280.9 2067.5,1281.3 2068.1,1282.3 2068.5,1282.8" fill="none" stroke="#000000" stroke-width="3.2" stroke-linejoin="round" stroke-linecap="round"/>
<path d="M203.5,2201.6 204.5,2200.2 205.5,2200 206.3,2199.6 206.5,2199.4 207.5,2198.2 208.5,2197.5 209.5,2196.3 210,2196 210.5,2196 211.5,2197.5 212.5,2198.3 213.5,2198.8 213.8,2199.1 214.5,2199.2 215.5,2198.4 216.3,2198.5 216.5,2197 217.5,2189.9 218.5,2182.1 218.8,2180 219.5,2176.4 220.5,2171 221.3,2166.9 221.5,2166.7 222.5,2164.8 223.3,2163.6 223.5,2163.8 224.5,2164.8 225.5,2166.7 226.3,2167.7 226.5,2168.4 227.5,2170.6 228.5,2174 229.5,2176.9 229.6,2176.3 230.5,2182.8 231.5,2188.8 232.1,2192.9 232.5,2194.2 233.5,2198.7 234.5,2202.3 235.1,2204.7 235.5,2203.9 236.5,2204 237.5,2203.6 238.5,2203.1 239.5,2203.2 240.1,2202.7 240.5,2202.5 241.5,2203.2 242.5,2203.4 243.5,2203.4 244.5,2204.2 245.1,2203.8 245.5,2204.3 246.5,2204.6 247.5,2204.2 248.5,2205 249.5,2204.6 249.6,2205.2 250.5,2199.8 251.5,2193.7 252.1,2191 252.5,2179.5 253.5,2151 253.9,2140.5 254.5,2135.5 255.5,2128.3 256.4,2121.6 256.5,2122 257.5,2125.5 258.5,2128.8 258.9,2130.1 259.5,2134 260.5,2139.4 260.6,2140.4 261.5,2142.1 262.5,2142.7 262.7,2143.2 263.5,2158.9 264.4,2175 264.5,2176.1 265.5,2179.4 266.4,2182.8 266.5,2182.8 267.5,2185.5 268.5,2186.5 269.5,2189.2 269.7,2189.4 270.5,2194.6 271.5,2200.4 272.2,2204.1 272.5,2203.4 273.5,2200.9 274.5,2197.1 275.2,2195.9 275.5,2195.1 276.5,2192.6 277.5,2191.4 277.7,2190.3 278.5,2189.6 279.5,2189.4 280.2,2189.3 280.5,2185.6 281.5,2175.5 282.2,2167.9 282.5,2167 283.5,2164.9 284,2163.6 284.5,2167.6 285.5,2174.4 285.7,2175.8 286.5,2175.9 287.5,2175.8 287.7,2175.4 288.5,2166.2 289.5,2155.4 289.7,2153.1 290.5,2131.2 291.5,2102.9 291.5,2102.6 292.5,2090.9 293.5,2080.4 293.5,2079.9 294.5,2090 295.2,2097.4 295.5,2103.6 296.5,2125 297.2,2140.4 297.5,2145.8 298.5,2169.3 299,2180.2 299.5,2186 300.5,2196.6 301,2202.2 301.5,2201.2 302.5,2200.6 303.5,2200.1 304.5,2199.3 305.3,2199.7 305.5,2199.3 306.5,2198.4 307.5,2198.3 308.3,2197.6 308.5,2198.7 309.5,2199 310.5,2199.6 311.5,2201.2 311.5,2200.9 312.5,2197.1 313.5,2193 314,2190 314.5,2184.7 315.5,2172.6 316,2165.2 316.5,2164.3 317.5,2162.9 318.3,2160.8 318.5,2162.7 319.5,2168.3 320.5,2174.2 320.8,2175.8 321.5,2182.5 322.5,2192.4 323.3,2200.6 323.5,2200.9 324.5,2202.6 325.5,2203.2 326.1,2204.3 326.5,2203.9 327.5,2202.8 328.5,2201.8 329.5,2201.5 330.3,2200.6 330.5,2200.7 331.5,2200.3 332.5,2200.5 333.5,2200.2 334.5,2200.2 335.5,2200.2 336.5,2200.7 336.6,2200.9 337.5,2199.7 338.5,2198.9 339.5,2197.2 340.4,2196.8 340.5,2196.5 341.5,2197.8 342.5,2198.4 343.5,2199.2 344.1,2200.4 344.5,2200.7 345.5,2202.1 346.5,2204.1 346.6,2204.1 347.5,2201.9 348.5,2198.4 349.5,2195.8 349.9,2194.4 350.5,2193.8 351.5,2192.7 352.4,2191.8 352.5,2191.5 353.5,2193.4 354.5,2194.5 355.4,2195.2 355.5,2195 356.5,2190.9 357.5,2186 358.4,2181.8 358.5,2181.8 359.5,2181.6 360.5,2182.3 361.5,2182.5 362.5,2183 362.9,2182.9 363.5,2185 364.5,2189.7 365.4,2192.7 365.5,2193 366.5,2195.8 367.5,2199 368.5,2201.4 369.2,2202.7 369.5,2201.3 370.5,2197.7 371.5,2193.3 372.5,2189.5 372.9,2187.6 373.5,2187.2 374.5,2185.1 375.5,2183 375.9,2181.9 376.5,2183.2 377.5,2187 378.4,2190.9 378.5,2190.3 379.5,2196.4 380.4,2202.1 380.5,2201.5 381.5,2201.6 382.5,2201.9 383.5,2201.9 383.5,2200.7 384.5,2183.2 385.5,2165.1 385.5,2164.7 386.5,2153.6 387.5,2142.6 387.5,2142.7 388.5,2138.3 389.5,2134.4 390,2132.4 390.5,2135.2 391.5,2140.5 392.5,2145.1 392.5,2145.8 393.5,2158 394.5,2170.1 395.5,2181.7 395.5,2182.1 396.5,2182.2 397.5,2183.3 398.5,2183.7 399.5,2189.1 400.5,2195.9 401.5,2199.3 402.5,2202.6 403,2204.7 403.5,2204.7 404.5,2204.8 405.5,2204.9 406.5,2205 407.5,2204.6 408,2205.1 408.5,2204.1 409.5,2203.8 410.5,2202.6 411.5,2202.2 411.8,2202.2 412.5,2202 413.5,2203.2 414.5,2203.7 415,2204.8 415.5,2203.7 416.5,2202.1 417.5,2201.3 418.1,2200.5 418.5,2201.3 419.5,2202.9 420.5,2204.3 421.1,2205.2 421.5,2205.6 422.5,2205 423.5,2205.2 424.5,2205.2 425.5,2205.3 425.6,2204.7 426.5,2204.3 427.5,2203.4 428.5,2202.8 428.6,2203.5 429.5,2203.8 430.5,2203.8 431.5,2205.3 431.8,2204.9 432.5,2204.7 433.5,2204.2 434.5,2203 435.5,2202.4 435.6,2202.3 436.5,2202.9 437.5,2203.7 438.5,2203.2 439.5,2204.4 440.5,2204.3 440.6,2204.3 441.5,2204 442.5,2204.9 443.5,2204.4 444.4,2205.4 444.5,2204.4 445.5,2202.2 446.5,2199.3 446.9,2197.9 447.5,2197.5 448.5,2197.3 449.4,2196.7 449.5,2194.7 450.5,2179.7 451.4,2165.2 451.5,2158 452.5,2098.4 452.6,2090.3 453.5,2060.3 454.1,2039 454.5,2054 455.5,2096.5 455.6,2103.2 456.5,2156.6 456.6,2165.3 457.5,2191.1 457.6,2195.1 458.5,2148.1 458.6,2139.8 459.5,2120.5 459.9,2110.9 460.5,2124.9 461.4,2145.1 461.5,2148.4 462.5,2176.5 462.7,2180.4 463.5,2194.9 463.9,2201.4 464.5,2202.3 465.5,2202.7 465.7,2203 466.5,2192.6 467.4,2180.8 467.5,2179.2 468.5,2165.3 468.9,2159.3 469.5,2167.2 470.4,2180.1 470.5,2180.6 471.5,2188.7 471.7,2190.4 472.5,2190.3 473.2,2190.2 473.5,2188.6 474.5,2183.1 475.5,2178 475.7,2177 476.5,2177 477.5,2176.8 478.2,2176.2 478.5,2171.9 479.4,2155.7 479.5,2154.4 480.5,2143 480.7,2140.9 481.5,2153.6 482.2,2166 482.5,2168.8 483.5,2179.5 483.7,2181.5 484.5,2182 485.2,2182.5 485.5,2180 486.5,2169.8 487,2165.3 487.5,2158.9 488.2,2150.4 488.5,2147.8 489.5,2139.2 490,2135.5 490.5,2143 491.5,2156.8 492,2163.4 492.5,2164.1 493.5,2167.2 494.5,2168.8 494.5,2168.9 495.5,2165.7 496.5,2163.1 496.5,2162.4 497.5,2130.3 497.5,2129.8 498.5,2105.5 499.5,2106.9 500.2,2107.8 500.5,2111.7 501.5,2126.9 501.8,2130.7 502.5,2143.1 502.8,2148.2 503.5,2135 503.8,2130.6 504.5,2113.7 505,2103.3 505.5,2096.6 506.3,2086.9 506.5,2090.9 507.5,2106 507.8,2110.5 508.5,2131.1 509.3,2153.1 509.5,2158.6 510.5,2181.8 510.8,2187.9 511.5,2188.7 512.5,2189.7 513.3,2190.7 513.5,2192.1 514.5,2199 515.3,2204.1 515.5,2197.7 516.5,2166.6 516.5,2165.8 517.5,2113.2 517.5,2110.7 518.5,2078.4 518.5,2076.9 519.5,2113.9 519.5,2115.8 520.5,2168 520.5,2170.8 521.5,2191 521.8,2197.7 522.5,2197.6 523.5,2197.3 524.5,2197.9 525.5,2198.5 525.8,2197.9 526.5,2198.7 527.5,2198.8 528.5,2200 529.5,2200.4 529.6,2201 530.5,2196.8 531.5,2193 532.1,2190.3 532.5,2190.3 533.5,2190.8 534.5,2190.5 534.6,2190.6 535.5,2194.8 536.3,2197.6 536.5,2195.6 537.5,2182.2 537.6,2180.7 538.4,2168.3 538.5,2170.8 539.4,2185.7 539.5,2187 540.4,2197.6 540.5,2198.4 541.5,2199.1 542.1,2199 542.5,2192.3 543.5,2175.2 543.6,2173.3 544.5,2157.2 544.9,2151.7 545.5,2161.5 546.1,2170.4 546.5,2174.3 547.4,2182.7 547.5,2184 548.5,2192.1 548.9,2195.3 549.5,2186.9 550.1,2178.3 550.5,2174.5 551.4,2167.2 551.5,2167.1 552.5,2174.7 552.6,2176 553.5,2183.8 553.9,2187.7 554.5,2193.3 555.5,2201.7 555.6,2203.5 555.9,2203.1 556.5,2202.3 557.5,2202.3 558.5,2202.1 558.6,2202.3 559.5,2196.3 560.5,2190.8 560.5,2190.3 561.5,2151.4 562.5,2116.2 563.1,2097.1 563.5,2104.3 564.4,2122.3 564.5,2125.9 565.5,2176 565.8,2189.8 566.5,2155 567,2131.7 567,2130.7 567.5,2116.1 567.9,2102.7 568,2102.6 568.5,2069.8 568.7,2045.8 569.3,1954.6 569.5,1924.7 569.8,1868.7 570.1,1802.8 570.4,1868.6 570.5,1886.9 570.9,1954.2 571.5,2045.4 571.5,2046.8 572.2,2103 572.3,2103.4 572.5,2120.4 573.2,2149.7 573.2,2170.4 573.5,2174.8 574.5,2191.3 575.2,2202 575.5,2198.6 576.5,2187.2 577.1,2181.2 577.5,2176.8 578.5,2164.6 579.1,2158.6 579.5,2165 580.5,2180.9 580.5,2181.3 581.5,2195.5 582,2201.8 582.5,2202.7 583.5,2203 584.5,2203.3 584.6,2203.6 585.5,2177.7 585.7,2170.5 585.8,2170.1 586.5,2129.6 586.7,2116 587.5,2036.5 587.5,2035.2 588.1,1938.6 588.5,1864.2 588.6,1845.2 588.9,1774.8 589.2,1845.5 589.5,1904.9 589.7,1938.3 590.3,2036.3 590.5,2060.2 591.1,2074.8 591.2,2073 591.5,2076.6 592,2081.6 592.4,2084.8 592.5,2095.2 593.2,2151.2 593.5,2163.6 594.1,2186.5 594.5,2151.7 595.3,2072.6 595.5,2050.4 596.3,1956.2 596.5,1944.6 597.3,1904.7 597.5,1916.8 598.2,1955.7 598.5,1995.2 599,2072.6 599.5,2106.3 599.8,2127.5 600.5,2130.6 601,2131.4 601.5,2141.1 602.5,2160.5 602.5,2160.6 603.5,2175.3 604.5,2190.3 604.5,2190.4 605.5,2193.6 606.5,2197.3 607.4,2200 607.5,2199.7 608.5,2192.9 608.8,2190.7 609.5,2195 610.5,2200.3 610.8,2202 611.5,2198.8 612.5,2193.9 613.3,2190.2 613.5,2176 614.5,2112.2 614.5,2108.9 615.4,2014.4 615.5,2010.4 616.4,1955.6 616.5,1952.8 617.2,1931.8 617.5,1948.1 618,1975.5 618.5,2062.6 618.6,2073.5 619.4,2147.8 619.5,2146.2 620.5,2137.5 620.5,2137.6 621.5,2156.8 621.7,2161.1 622.5,2185.2 622.7,2190.5 623.5,2198.4 623.6,2200 624.5,2197 625.5,2192.6 626,2190.6 626.5,2169.9 627,2151.1 627.5,2098.3 627.8,2072.9 628.5,2032.3 628.5,2030.1 629.3,2011.5 629.5,2021.2 630.1,2053.8 630.5,2107.1 630.7,2131.7 631.5,2190.3 631.5,2188.7 632.2,2151.5 632.5,2135.3 633,2102.2 633.5,2084.7 633.8,2072.6 634.5,2107.5 634.6,2111.7 635.4,2170.9 635.5,2176.1 636.2,2201.9 636.5,2202.3 637.5,2201.2 638.5,2200.6 639.5,2200.6 639.7,2199.8 640.5,2201 641.5,2202.6 641.6,2203.1 642.5,2188.7 643.5,2172.6 643.6,2171.3 644.5,2152.9 644.6,2151.2 645.5,2128.5 645.9,2117.8 646.5,2121.2 646.9,2123.9 647.5,2110.7 647.9,2102.1 648.5,2093.8 648.9,2088.9 649.5,2084.1 649.6,2082.3 650.5,2095.3 650.6,2096.3 651.4,2112.2 651.5,2120.3 652,2161.6 652.5,2180.1 652.8,2190.3 653.5,2193.7 654.3,2198.6 654.5,2198.3 655.5,2195.6 656.3,2194.5 656.5,2194.5 657.5,2198 658.5,2200.3 659.2,2201.7 659.5,2199.4 660.5,2191.5 660.6,2190.5 661.5,2183.2 661.6,2182.3 662.5,2190.5 662.5,2190.9 663.5,2196.5 663.5,2196.7 664.5,2197.5 665.5,2199.2 666.1,2200.5 666.5,2199.2 667.5,2196 668,2194.8 668.5,2195.7 669.5,2199.4 670.5,2203.1 670.5,2203.4 671.5,2198.3 672.5,2193 672.9,2190.3 673.5,2192.6 674.5,2195.5 674.9,2196.7 675.5,2189 676.2,2180.3 676.5,2172.6 677.2,2150.8 677.5,2139.3 678.2,2112.5 678.5,2105.9 679.1,2092.4 679.5,2103.2 680.1,2121.6 680.5,2141 680.9,2161.4 681.5,2182.2 681.9,2196 682.5,2195.1 683.5,2192.8 684.5,2190.7 684.6,2190.9 685.5,2182 685.6,2180.7 686.5,2174.9 686.6,2175 687.5,2186 687.6,2187.1 688.5,2198.1 688.5,2198.1 689.5,2195.2 690.5,2192.1 691.5,2188.9 691.5,2188.5 692.5,2186.8 693.5,2185.5 694.4,2184.2 694.5,2184.7 695.5,2188.3 696.4,2190.5 696.5,2189.5 697.5,2186.3 698.5,2183.3 699.3,2181.1 699.5,2176.7 700.3,2161.4 700.5,2157.7 701.2,2146.8 701.5,2150.8 702.2,2161.4 702.5,2163.7 703.2,2170.5 703.5,2169.7 704.5,2165.4 705.1,2162.9 705.5,2167.3 706.5,2180.4 707.1,2188.6 707.5,2187.7 708.5,2185.1 709.5,2181.6 710,2181.1 710.5,2177 711.5,2169.2 712.4,2162.8 712.5,2163.1 713.5,2164 714.5,2164.4 714.9,2164.8 715.5,2174.5 716.5,2190.7 716.5,2190.2 717.5,2160.6 717.5,2160.4 718.5,2134.9 718.6,2132.2 719.5,2116.9 719.8,2111.6 720.5,2129.2 720.8,2135.6 721.5,2147.6 721.8,2151.3 722.5,2147.1 722.9,2144.6 723.5,2155.2 723.9,2162.9 724.5,2174.2 725.1,2184.7 725.5,2186 726.5,2189.6 727.5,2193.6 727.6,2194 728.5,2164.4 728.6,2161.1 729.4,2092.5 729.5,2086.5 730.5,2038.3 730.5,2035.7 731.5,2100.6 731.5,2102.6 732.3,2160.5 732.5,2166.8 733.5,2198.5 733.5,2198.1 734.5,2195.1 735.5,2192.6 736.4,2190.3 736.5,2189.5 737.5,2176 737.6,2174.5 738.5,2165.2 738.8,2162.7 739.5,2175.1 739.7,2178.6 740.5,2189.7 740.7,2192.7 741.5,2195.2 742.5,2198.1 743.3,2199.9 743.5,2194.9 744.5,2173.7 744.6,2170.7 745.5,2141.6 745.8,2131.6 746.5,2105.2 746.6,2102.5 747.4,2091.7 747.5,2096.5 748.3,2122.4 748.5,2127.8 749.1,2151.7 749.5,2148.6 750.5,2142.4 750.7,2141.3 751.5,2165.1 752,2181 752.5,2182.5 753.4,2186.8 753.5,2185.2 754.2,2169 754.5,2165.2 755,2158.3 755.5,2168.2 756,2176.3 756.5,2186.1 756.9,2194.1 757.5,2198.4 758.3,2203.2 758.5,2202.8 759.5,2200.1 760.5,2197.5 760.9,2196.3 761.5,2197.2 762.5,2198.8 763.5,2200.6 764.5,2202.8 764.8,2203.6 765.5,2201 766.5,2197.4 767.5,2195.1 768.3,2192.4 768.5,2192.7 769.5,2196.9 770.5,2199.7 770.6,2200.3 771.5,2199 772.5,2198.2 773.5,2197.7 774.5,2196.7 774.5,2196.5 775.5,2190.6 776.1,2186.9 776.5,2180.1 777.3,2166.6 777.5,2162.5 778.4,2147.4 778.5,2148.5 779.5,2168.7 779.6,2171 780.5,2186.9 780.8,2192.6 781.5,2194.8 782.5,2197.2 783.3,2200.4 783.5,2198.6 784.5,2190.4 785.3,2183.9 785.5,2185.6 786.5,2193.8 787.2,2200.2 787.5,2200 788.5,2202 789.2,2202.2 789.5,2199.1 790.5,2187.4 791.1,2180.5 791.5,2183.3 792.5,2191.8 793.1,2196 793.5,2196.8 794.5,2196.9 795.5,2198.3 796,2198.7 796.5,2191.8 797.2,2182.8 797.5,2179.2 798.4,2169.5 798.5,2172.3 799.4,2186.5 799.5,2188.6 800.3,2200.3 800.5,2200.5 801.5,2201 802.5,2201.6 802.9,2202.4 803.5,2181.4 803.8,2171.3 804.5,2151 804.8,2141.8 805.5,2126.5 805.8,2119.2 806.5,2135 806.8,2141.1 807.5,2156.1 807.8,2161 808.5,2173.6 809.5,2189.1 809.7,2192.6 810.5,2186.7 811.5,2178.5 812,2175.2 812.5,2172.3 813.5,2165.6 814.5,2158.9 814.6,2158.3 815.5,2173.4 816.5,2189.6 816.5,2190.5 817.5,2181.2 818.5,2170.4 819.5,2163.1 820.5,2155.1 820.5,2155 821.5,2158.5 822.5,2160.7 823.4,2162.8 823.5,2162.5 824.5,2156.4 825.3,2151.5 825.5,2147.9 825.9,2141.5 826.3,2142 826.5,2140 827.4,2134 827.5,2136.1 828.5,2162.7 828.8,2170.5 829.5,2184.9 830.2,2198.6 830.5,2193.5 831.5,2179.6 832.1,2170.9 832.5,2167.6 833.5,2160.4 833.7,2158.9 834.5,2172.7 835.5,2188.6 835.6,2190.2 836.5,2193.8 837.5,2198.4 837.6,2199.5 838.5,2200 839.5,2200.7 840.5,2201.2 840.5,2201 841.5,2190.6 842.5,2180.2 842.5,2180.5 843.5,2169.2 844.4,2159.3 844.5,2159.8 845.5,2175.3 846.4,2188.5 846.5,2188.3 847.5,2189.3 848.5,2189.7 849.3,2190.1 849.5,2183.1 850.3,2151.9 850.5,2146.9 851.5,2126.4 851.7,2123 852.5,2143.8 853.2,2160.7 853.5,2168.3 854.5,2194.5 854.8,2201.8 855.5,2200.7 856.5,2198.1 857.1,2196.5 857.5,2195.7 858.5,2193.5 859.5,2191.7 860.1,2190.7 860.5,2172.8 861,2151.7 861.5,2136.9 862.4,2106.6 862.5,2109.2 863.5,2137.7 864,2151 864.5,2169.5 865.3,2198.6 865.5,2196.7 866.5,2188.6 866.9,2184.1 867.5,2188.2 868.5,2194.4 868.9,2196 869.5,2192.6 870.5,2188 871.2,2184.3 871.5,2186.7 872.5,2192.4 872.8,2194.4 873.5,2191.8 874.5,2187.1 875.5,2183.7 875.7,2182.2 876.5,2185.5 877.5,2188.6 878.2,2190.1 878.5,2190.6 879.5,2190.5 880.5,2190.3 881,2190.1 881.5,2177.6 882.5,2152.2 882.5,2151.1 883.5,2140.4 884.1,2133.8 884.5,2144.2 885.5,2171.1 885.5,2171.6 886.5,2186.9 886.8,2192.3 887.5,2190 888.5,2187.7 889.4,2185 889.5,2184.4 890.5,2188.3 891.5,2190.6 891.9,2192 892.5,2194.3 893.5,2198.3 893.9,2200.6 894.5,2192.3 895.2,2183.4 895.5,2186.8 896.5,2198.4 896.6,2199.7 897.5,2200 898.5,2200.1 899.5,2200.6 900.1,2200.1 900.5,2200.1 901.5,2201.6 902.5,2202.7 903.1,2203 903.5,2203.6 904.5,2203.8 905.5,2204.4 905.6,2204.6 906.5,2180.1 907,2168.4 907.5,2167.8 908.3,2167.2 908.5,2168.7 909.5,2178.2 910.3,2186.2 910.5,2184.9 911.5,2178.6 912.5,2173 912.8,2170.5 913.5,2167.1 914.5,2162.7 915.4,2158.5 915.5,2159.4 916.5,2165.4 917.3,2170.5 917.5,2170.1 918.5,2163.8 918.7,2162.8 919.5,2157 920.3,2150.5 920.5,2154.5 921.5,2171.4 922,2180.4 922.5,2183.9 923.5,2191.8 924.5,2199.6 924.6,2200.7 925.5,2194.9 926.5,2190.2 927.1,2186.5 927.5,2176.2 928.5,2151.5 928.5,2150.6 929.5,2144 930,2139.9 930.5,2138.2 931.5,2134.1 931.6,2133.5 932.5,2147.9 933.4,2160.6 933.5,2164.3 934.5,2187.4 934.9,2196 935.5,2197 936.5,2199.6 936.9,2200.3 937.5,2184.2 938,2171.4 938.5,2164.3 939.2,2152.4 939.5,2159.7 940.5,2183.3 940.8,2190.6 941.5,2179.9 942.1,2170.7 942.5,2170.6 943.5,2168.3 943.5,2168.2 944.5,2182 945.1,2190 945.5,2184.2 946.5,2168.8 946.6,2167.1 947.5,2181.3 948,2189.9 948.5,2187.4 949.5,2182 950.5,2177 950.5,2176.3 951.5,2182 952.5,2187.7 952.9,2190.1 953.5,2192.4 954.5,2197.3 954.9,2197.9 955.5,2192.1 956.5,2183.7 956.8,2180.2 957.5,2173.9 958.2,2167 958.5,2171.8 959.5,2187.1 959.7,2190.4 960.5,2193.7 961.5,2197.8 961.7,2197.8 962.5,2195.8 963.5,2192.5 964.2,2190.5 964.5,2182.7 965.5,2154 965.6,2151.3 966.5,2130.8 966.6,2128.1 967.5,2142.2 968.1,2151.3 968.5,2153.2 969.5,2158.6 969.5,2158.7 970.5,2181.9 970.9,2190.6 971.5,2194.5 972.4,2201.5 972.5,2200.8 973.5,2197.6 974.5,2193.3 975.4,2190.9 975.5,2189.1 976.5,2177.4 976.9,2172.4 977.5,2178.5 978.5,2188.1 978.7,2190.2 979.5,2190.2 980.5,2188.6 981.2,2188.6 981.5,2188.9 982.5,2192.6 983.5,2196.1 984.2,2198.2 984.5,2196.8 985.5,2191.3 986.5,2186.6 986.5,2187 987.5,2178.8 988.1,2174.2 988.5,2177.6 989.5,2186.1 990,2190.2 990.5,2193.4 991.5,2198.9 992,2202.3 992.5,2201.7 993.5,2201.2 994.5,2200.4 994.5,2200.4 995.5,2152 996.5,2117 996.9,2103.5 997.5,2125 998.2,2150.8 998.5,2162.1 999.4,2200.1 999.5,2198.7 1000.5,2178.1 1001.4,2161.1 1001.5,2158.6 1002.5,2136.9 1002.7,2132.4 1003.5,2151.4 1004.3,2170.5 1004.5,2175.5 1005.5,2196.6 1005.7,2199.7 1006.5,2197.2 1007.5,2193.7 1008.5,2190.3 1008.6,2190.5 1009.5,2191.2 1010.5,2191.6 1011.5,2192.2 1011.5,2192.1 1012.5,2193.9 1013.5,2196.1 1013.9,2196.3 1014.5,2172.1 1015,2151.2 1015.5,2144.5 1016.4,2131.2 1016.5,2133.4 1017.5,2162.9 1017.8,2171.2 1018.5,2165.2 1019,2161.1 1019.5,2158.6 1020.3,2154 1020.5,2157.9 1021.5,2176.6 1021.7,2180.7 1022.5,2187.4 1023.3,2194.5 1023.5,2192.7 1024.5,2186.8 1025.5,2181.4 1025.6,2181.1 1026.5,2175.8 1027.2,2171.5 1027.5,2175.8 1028.5,2188 1028.7,2190.7 1029.5,2191 1030.5,2191.8 1031.1,2192.2 1031.5,2185.9 1032.4,2171 1032.5,2170.4 1033.5,2165.1 1033.6,2164.2 1034.5,2174.9 1035,2180.2 1035.5,2183.6 1036.5,2189.7 1036.5,2190.1 1037.5,2166.5 1038.5,2141.6 1038.9,2131.9 1039.5,2107.4 1040.5,2067.2 1040.8,2053.3 1041.5,2004.6 1042.4,1936.1 1042.5,1932 1043.4,1892.3 1043.5,1898 1044.5,1944.2 1044.8,1955.4 1045.5,2045.1 1045.7,2072.9 1046.5,2164.2 1046.7,2188.3 1047.5,2188.9 1048.5,2190.7 1049.5,2191.5 1049.6,2191.6 1050.5,2190.3 1051.5,2188.9 1052.2,2188.6 1052.5,2176.3 1053.2,2151.8 1053.5,2150.3 1053.9,2150.4 1054.5,1992.9 1055.5,1730.4 1055.8,1651.7 1056.5,1651.9 1057.5,1651.6 1058.2,1651.7 1058.5,1734.5 1059.5,2012.8 1060,1898.7 1060.5,1977.7 1061.5,2134.3 1061.6,2149.7 1062.5,2188.6 1062.7,2198.4 1063.5,2184.1 1064.5,2164.7 1064.7,2160.6 1065.5,2148.6 1066.2,2137.9 1066.5,2143.1 1067.5,2164.3 1067.8,2170.6 1068.5,2184.7 1069.2,2198.7 1069.5,2195.6 1070.5,2186.9 1071.1,2180.2 1071.5,2177.1 1072.5,2167.1 1072.5,2167 1073.5,2169.4 1074.1,2171.2 1074.5,2166.9 1075.5,2157.3 1075.6,2156.4 1076.5,2171 1077.5,2188.8 1077.6,2190.6 1078.5,2190.7 1079.5,2192.4 1079.9,2192.3 1080.5,2190 1081.5,2187.3 1082.3,2184.5 1082.5,2182.5 1083.5,2172.8 1084.5,2164.2 1084.8,2161.4 1085.5,2154.8 1086.4,2147.2 1086.5,2150 1087.5,2169 1088.1,2180.9 1088.5,2174.4 1089.5,2155.2 1089.7,2151.2 1090.5,2137.8 1090.9,2131.6 1091.5,2127.3 1092.2,2122.9 1092.5,2131.9 1093.5,2166.7 1093.6,2171.1 1094.5,2180.4 1095.5,2191.3 1095.6,2192.3 1096.5,2191.5 1097.5,2190 1098.5,2188.6 1099.5,2179.7 1100.5,2172.1 1100.5,2172.5 1101.5,2181.1 1102.4,2188.8 1102.5,2188.8 1103.5,2193.6 1104.4,2198.4 1104.5,2197.8 1105.5,2196.5 1106.5,2195 1107.3,2194.2 1107.5,2194.5 1108.5,2193.1 1109.5,2192.6 1110.2,2191.9 1110.5,2186.2 1111.5,2165.6 1112.2,2151.1 1112.5,2137.9 1113.5,2094.6 1113.5,2092.6 1114.5,2070.9 1114.7,2066.4 1115.5,2103.2 1116.1,2132.2 1116.5,2150.2 1117.5,2192.3 1117.5,2192.5 1118.5,2191.8 1119.5,2190.1 1119.5,2190.3 1120.5,2180.7 1121.5,2171.3 1122.5,2168.8 1123.1,2167 1123.5,2173.2 1124.4,2186.9 1124.5,2186.1 1125.5,2183.9 1126.4,2183.1 1126.5,2180.3 1127.1,2165.7 1127.4,2160.9 1127.5,2162.2 1128,2161 1128.5,2102.8 1128.7,2070.9 1129.3,1957.4 1129.5,1907.5 1129.7,1853.5 1130,1771.3 1130.3,1853.3 1130.5,1907.7 1130.7,1957.4 1131.3,2070.9 1131.5,2102.8 1131.9,2147.1 1132,2161.2 1132.5,2188.2 1132.9,2183.9 1133.5,2176.4 1133.6,2174.5 1134.5,2183.2 1135.2,2190.8 1135.5,2192 1136.5,2199 1136.7,2200.6 1137.5,2197 1138.5,2192.8 1139.1,2190.6 1139.5,2184 1140.1,2174.9 1140.5,2176.8 1141.4,2182.5 1141.5,2181.2 1142.2,2161.1 1142.5,2156.1 1143,2148.2 1143.5,2160.8 1143.8,2167.2 1144.5,2188.9 1144.6,2190.7 1145.5,2194.9 1145.9,2195.9 1146.5,2193.2 1147.5,2187.8 1148.3,2183.1 1148.5,2185.1 1149.5,2193.9 1149.8,2196.6 1150.5,2195.8 1151.5,2194.5 1151.8,2194 1152.5,2189.6 1153.5,2182.3 1153.8,2180.5 1154.5,2186.2 1155.5,2194.7 1155.7,2196.2 1156.5,2195.5 1157.5,2195.3 1158.5,2194.6 1158.6,2194.4 1159.5,2191.3 1160.5,2187 1161.5,2182.8 1161.6,2183 1162.5,2190.4 1163.5,2197.8 1163.5,2197.8 1164.5,2198.8 1165.5,2199.4 1166.5,2200.2 1166.5,2200 1167.5,2195.6 1168.5,2191.4 1168.8,2190.6 1169.5,2186.8 1170.4,2181.7 1170.5,2183 1171.5,2191.2 1172.3,2197.9 1172.5,2198 1173.5,2197.1 1174.5,2195 1175.2,2194.7 1175.5,2191.2 1176.4,2180.9 1176.5,2179.6 1177.5,2170.1 1177.6,2169 1178.5,2181.4 1178.6,2182.6 1179.5,2193.4 1179.5,2194.5 1180.5,2194.7 1181.5,2195.7 1182.1,2195.9 1182.5,2196.3 1183.5,2195.5 1184.5,2195 1185,2194.2 1185.5,2195 1186.5,2198 1187.5,2199.7 1187.6,2200.6 1188.5,2199.5 1189.5,2197.6 1190.5,2197 1190.9,2195.9 1191.5,2194.3 1192.5,2190.8 1193.5,2186.5 1193.8,2185.3 1194.5,2189.4 1195.5,2194.5 1195.8,2196.2 1196.5,2197.7 1197.5,2199.9 1197.7,2200.7 1198.5,2196.8 1199.5,2193.6 1199.7,2192 1200.5,2191.8 1201.5,2190.4 1201.6,2190.4 1202.5,2185.4 1203.5,2180.4 1203.6,2179.7 1204.5,2179.7 1205.5,2180.1 1206.5,2180.8 1206.5,2180.7 1207.5,2190.2 1208.5,2200.2 1208.5,2200 1209.5,2200 1210.5,2200.2 1211.4,2200.5 1211.5,2199.8 1212.5,2197.8 1213.5,2196.4 1214.3,2193.9 1214.5,2194.5 1215.5,2193.4 1216.5,2192.4 1217.3,2192.9 1217.5,2192 1218.5,2192.3 1219.5,2192.3 1219.6,2192.3 1220.5,2195.3 1221.5,2197.8 1222.2,2200.4 1222.5,2199.8 1223.5,2198.4 1224.5,2197.5 1225.1,2196.1 1225.5,2191.1 1226.5,2178.6 1226.6,2176.6 1227.5,2176 1228.5,2174.7 1228.6,2174.8 1229.5,2182.3 1230,2186.7 1230.5,2179 1231.3,2166.6 1231.5,2168.5 1232.5,2178.6 1232.9,2182.8 1233.5,2188.8 1234.5,2198.4 1234.5,2197.8 1235.5,2197.4 1236.5,2197.1 1237.5,2196.6 1237.8,2196.7 1238.5,2194 1239.5,2190 1240.3,2187.2 1240.5,2188.7 1241.5,2194.1 1242.3,2198.3 1242.5,2197.6 1243.5,2193.6 1244.5,2190.4 1245,2188.7 1245.5,2190.9 1246.5,2196.3 1247,2198.2 1247.5,2199.1 1248.5,2199.3 1249.5,2200.5 1249.5,2200.2 1250.5,2199.5 1251.5,2199.2 1252.4,2197.8 1252.5,2197.5 1253.5,2190.9 1254.4,2184.4 1254.5,2184.4 1255.5,2181.5 1256,2181 1256.5,2184.6 1257.5,2191.5 1257.9,2193.9 1258.5,2192 1259.5,2188.5 1260.3,2185.7 1260.5,2185.2 1261.5,2186.1 1262.5,2187 1263.2,2187 1263.5,2187.9 1264.5,2190.8 1265.5,2192.4 1266.1,2194.2 1266.5,2194.8 1267.5,2198 1268.5,2199.7 1269,2201.2 1269.5,2200.7 1270.5,2200.8 1271.5,2200.3 1272,2199.8 1272.5,2198.6 1273.5,2194.9 1274.5,2192.3 1274.9,2190.1 1275.5,2192.2 1276.5,2195.6 1276.9,2196.3 1277.5,2194.9 1278.5,2194 1279.4,2192.8 1279.5,2192.1 1280.5,2195.7 1281.5,2198 1282.5,2200.9 1282.7,2201.6 1283.5,2201.4 1284.5,2201 1285.5,2200.7 1285.7,2200.1 1286.5,2200.7 1287.5,2202.1 1288.5,2202.3 1289.2,2203.6 1289.5,2202.1 1290.5,2197 1291.5,2192.9 1291.5,2192.8 1292.5,2191 1293.5,2189.3 1293.5,2189.7 1294.5,2192.6 1295.4,2196.7 1295.5,2196.4 1296.5,2197.4 1297.5,2198.5 1298.4,2199.1 1298.5,2199 1299.5,2199.9 1300.5,2199.7 1301.3,2199.8 1301.5,2199.5 1302.5,2198.5 1303.5,2197.6 1304.2,2195.9 1304.5,2196.9 1305.5,2198.4 1306.5,2200.7 1307.2,2201.7 1307.5,2201.8 1308.5,2202 1309.5,2201.6 1310.1,2201.6 1310.5,2197.2 1311.5,2186 1312,2180.7 1312.5,2179.6 1313.4,2177.7 1313.5,2178.9 1314.5,2193.1 1315,2200.6 1315.5,2199.4 1316.5,2199.4 1317.5,2198.6 1317.9,2198.2 1318.5,2197.6 1319.5,2196.9 1320.5,2195.8 1321.5,2194.7 1321.8,2194.8 1322.5,2195.3 1323.5,2196.3 1324.5,2197.7 1324.8,2198.6 1325.5,2199.9 1326.5,2201.4 1327.5,2203.1 1327.7,2203.3 1328.5,2202.7 1329.5,2202.9 1330.5,2203.3 1330.6,2202.9 1331.5,2202.2 1332.5,2200.7 1333.5,2199.5 1334.1,2198.1 1334.5,2199.1 1335.5,2201.2 1336.5,2202.9 1336.5,2203.6 1337.5,2202.9 1338.5,2201.8 1339.5,2201.9 1340.4,2201.5 1340.5,2200.8 1341.5,2201.1 1342.5,2200.3 1343.5,2200.7 1344.3,2200.5 1344.5,2200.5 1345.5,2202 1346.2,2203.1 1346.5,2201.7 1347.5,2195 1348.5,2189.1 1348.6,2188.9 1349.5,2196.3 1350.2,2201.8 1350.5,2202.6 1351.5,2202.6 1352.5,2202 1353.1,2202 1353.5,2197.9 1354.5,2188.1 1355,2182.6 1355.5,2187.4 1356.5,2197 1357,2201.9 1357.5,2200.2 1358.5,2196.6 1359,2194 1359.5,2196.6 1360.5,2200 1360.9,2202 1361.5,2202 1362.5,2201.4 1363.5,2201.1 1364.5,2201 1364.8,2201.3 1365.5,2200.8 1366.5,2199.5 1367.5,2198.2 1367.8,2197.9 1368.5,2194.9 1369.5,2191.4 1369.7,2190.1 1370.5,2183.5 1370.9,2180.5 1371.5,2186.8 1372,2192.2 1372.5,2192.3 1373.5,2191.4 1374.5,2190.6 1375.5,2190.4 1375.6,2190 1376.5,2159.4 1376.7,2151 1377.5,2138.8 1378.1,2128.8 1378.5,2138.3 1379.5,2161.5 1379.5,2161.7 1380.5,2171.8 1380.8,2174.5 1381.1,2174.8 1381.5,2175 1382,2150.4 1382.5,2092.8 1382.8,2047.6 1383.4,1920.4 1383.5,1902.2 1383.9,1800 1384.2,1708.7 1384.5,1797.4 1384.5,1800.3 1385,1920.5 1385.5,2028.1 1385.6,2048.4 1386.4,2151.2 1386.5,2160.9 1387.3,2180.3 1387.5,2180.3 1387.8,2180.4 1388.5,2183.8 1389.4,2188.9 1389.5,2189.5 1390.5,2198.4 1390.8,2200.5 1391.5,2195 1392.1,2190.2 1392.5,2177.9 1393.3,2151.1 1393.5,2152.5 1394.5,2156.6 1395.5,2161.4 1396.5,2166.4 1396.7,2166.8 1397.5,2170.7 1397.8,2152.7 1398.5,2067.2 1398.7,2041.6 1399.4,1906.3 1399.5,1882.1 1399.9,1775.8 1400.3,1677.4 1400.5,1733.7 1400.7,1776.1 1401.2,1906.6 1401.5,1966.3 1401.9,2041 1402.5,2119.1 1402.8,2153.2 1403.1,2169.7 1403.5,2192.6 1403.9,2195.5 1404.5,2194.9 1405.4,2194.5 1405.5,2194.9 1406.5,2195 1407.4,2196.3 1407.5,2194.8 1408.5,2183.7 1408.7,2180.7 1409.5,2176 1409.9,2173.7 1410.5,2183.8 1411.3,2196.3 1411.5,2195.3 1412.5,2192.7 1413.2,2190.3 1413.5,2187.6 1414.5,2179.9 1414.6,2178.4 1415.5,2187.6 1416.2,2194.6 1416.5,2195.3 1417.5,2198.5 1418.1,2200.3 1418.5,2199.8 1419.5,2199.9 1420.5,2200.4 1421,2199.9 1421.5,2198.9 1422.5,2196.3 1423.4,2194.3 1423.5,2194.2 1424.5,2194.8 1425.5,2195.2 1425.9,2195.6 1426.5,2196.5 1427.5,2198.9 1427.9,2200.6 1428.5,2198.8 1429.5,2197.7 1430.4,2196 1430.5,2193.3 1431.4,2160.8 1431.5,2159.3 1432.4,2146.8 1432.5,2148 1433.5,2163.7 1433.9,2171 1434.5,2181 1435.3,2196.7 1435.5,2195.2 1436.5,2192.6 1437.1,2190.1 1437.5,2164.8 1438,2131.7 1438.5,2116.6 1439.2,2093.6 1439.5,2107 1440.5,2157.2 1440.6,2161.6 1441.5,2197.6 1441.6,2200.3 1442.5,2200.6 1443.5,2199.9 1444.5,2200.2 1444.5,2200.5 1445.5,2199.3 1446.5,2199.1 1447.4,2198.4 1447.5,2198.6 1448.5,2198.4 1449.5,2199.7 1450.5,2199.4 1451.3,2200.1 1451.5,2184.5 1452.5,2091.6 1452.7,2073.7 1453.5,1972.7 1453.9,1926.5 1454.5,1992.9 1455.2,2072.3 1455.5,2106.3 1456.2,2198.3 1456.5,2197.7 1457.5,2197.5 1458.5,2196.8 1459.2,2196.4 1459.5,2189.5 1460.5,2171.3 1460.5,2170.7 1461.5,2134 1462.1,2112.8 1462.5,2095.2 1463.5,2055.9 1464,2033.8 1464.5,2004.9 1465.5,1942.4 1465.6,1936.8 1466.5,1890.5 1467.2,1857.4 1467.5,1890.6 1468.3,1976.1 1468.5,2001.5 1469.3,2132.4 1469.5,2140.5 1470.3,2181 1470.5,2182.2 1471.5,2187.2 1471.9,2188 1472.5,2189.2 1473.5,2191 1474.5,2191.8 1474.8,2192.6 1475.5,2192.4 1476.5,2193.7 1477.5,2194.1 1477.7,2194.3 1478.5,2193.9 1479.5,2194.3 1480.5,2194.1 1481.5,2193.1 1481.6,2192.8 1482.5,2185.7 1483,2180.3 1483.5,2176.2 1484.2,2170.4 1484.5,2174.4 1485.5,2186.4 1485.5,2186.7 1486.5,2191.3 1487.1,2194.6 1487.5,2194.1 1488.5,2194.7 1489.5,2195.5 1490.4,2195.8 1490.5,2196 1491.5,2195.8 1492.5,2195.8 1493.5,2196.7 1494.3,2196.2 1494.5,2196.3 1495.5,2194 1496.5,2191.6 1496.9,2190.6 1497.5,2192.3 1498.5,2194.6 1499.2,2196.2 1499.5,2194.2 1500.5,2187 1501.2,2182.4 1501.5,2185.1 1502.5,2194.1 1502.7,2196.1 1503.5,2196.6 1504.5,2196.5 1505.5,2196.3 1506.1,2196.2 1506.5,2194.7 1507.5,2189.3 1508,2187.8 1508.5,2190.3 1509.4,2196.6 1509.5,2196.4 1510.5,2196.6 1511.5,2196.6 1512.5,2197.6 1512.9,2196.8 1513.5,2197.1 1514.5,2196.3 1515.5,2196.4 1516.5,2195.8 1516.8,2194.9 1517.5,2195.6 1518.5,2197 1519.5,2197.5 1520.5,2198 1520.7,2198 1521.5,2198 1522.5,2198.6 1523.5,2198.5 1524.5,2198.6 1525.5,2198.7 1525.6,2199.3 1526.5,2199 1527.5,2197.9 1528.5,2197.6 1529.5,2197.5 1529.5,2197 1530.5,2190.4 1531.5,2184.5 1531.5,2184.9 1532.4,2182.1 1532.5,2181.8 1533.5,2186.8 1534.4,2190.2 1534.5,2189.5 1535.5,2176.5 1536,2171 1536.5,2155.6 1537.3,2132.1 1537.5,2131.8 1538.5,2130.5 1538.7,2129.7 1539.5,2104.3 1539.9,2092.9 1540.5,2085.4 1541.4,2074.2 1541.5,2076.7 1542.5,2119.4 1542.8,2131.7 1543.5,2173.7 1543.8,2190.8 1544.5,2173.2 1545.2,2157.7 1545.5,2165.9 1545.8,2173.7 1546.1,2180.7 1546.5,2168.7 1546.7,2149.8 1547.5,2057 1547.5,2055.3 1548.1,1938.9 1548.5,1851.8 1548.6,1829.2 1548.9,1743.6 1549.2,1829.1 1549.5,1900.6 1549.7,1939 1550.3,2055.2 1550.5,2087.4 1551.1,2150.5 1551.5,2171.8 1552,2170.8 1552,2170.4 1552.5,2174 1553.5,2179.8 1553.9,2183 1554.5,2183.6 1555.5,2184.4 1555.9,2184.5 1556.5,2186.8 1557.5,2190.5 1557.8,2191.9 1558.5,2192.5 1559.5,2193.7 1560.5,2193.9 1560.8,2194.1 1561.5,2193 1562.5,2190.7 1562.7,2190.7 1563.5,2173.6 1564.1,2160.7 1564.5,2154.2 1565.3,2141.4 1565.5,2140.7 1566.5,2139.2 1566.5,2141 1567.5,2167.7 1567.6,2170.7 1568.5,2184.9 1568.6,2186.7 1569.5,2175.3 1570,2169.4 1570.5,2175.7 1571.5,2188.2 1571.5,2188.1 1572.5,2192.1 1573.5,2196.2 1573.5,2196.3 1574.5,2194.6 1575.5,2194 1576.4,2192.2 1576.5,2189.9 1577.5,2159.7 1577.8,2151.1 1578.5,2131.1 1579.3,2107 1579.5,2112.1 1580.5,2147.2 1580.9,2160.7 1581.5,2174.4 1582.3,2192.5 1582.5,2192.9 1583.5,2194.4 1584.5,2195.3 1585.2,2196.8 1585.5,2196.2 1586.5,2196.8 1587.5,2197.8 1588.5,2197.8 1589.1,2198.4 1589.5,2198.3 1590.5,2198.3 1591.5,2198.6 1592,2199.1 1592.5,2198.6 1593.5,2196.6 1594.5,2194.6 1594.6,2193.9 1595.5,2194.8 1596.5,2193.9 1596.9,2194.3 1597.5,2169.9 1597.9,2151.7 1598.5,2136.2 1599.1,2122.3 1599.5,2133.6 1600.5,2160.5 1600.5,2162 1601.5,2180.4 1601.8,2186.6 1602.5,2191.1 1603.2,2196.7 1603.5,2194.8 1604.5,2191.6 1604.8,2190.2 1605.5,2191.4 1606.3,2192.2 1606.5,2193.7 1607.5,2199.2 1607.7,2199.8 1608.5,2200.1 1609.5,2200.7 1610.5,2201.8 1611.5,2201.7 1611.6,2202 1612.5,2202 1613.5,2201.1 1614.5,2201.5 1615.5,2200.6 1616.5,2200.1 1616.5,2199.7 1617.5,2201 1618.5,2200.6 1619.5,2201.4 1620.5,2202.2 1621.4,2201.7 1621.5,2201.9 1622.5,2201.6 1623.5,2201.3 1624.5,2199.9 1625.5,2199.6 1626.2,2199.5 1626.5,2199.9 1627.5,2200 1628.5,2201.9 1629.2,2202.6 1629.5,2202.5 1630.5,2202.2 1631.5,2201.9 1632.1,2201.3 1632.5,2200.1 1633.5,2196.1 1633.7,2195.5 1634.5,2197.7 1635.5,2201.1 1635.6,2200.8 1636.5,2201.8 1637.5,2202 1638.5,2201.7 1639.5,2202.2 1639.9,2202.5 1640.5,2202.1 1641.5,2201.3 1642.5,2201.6 1643.5,2201.7 1643.8,2200.9 1644.5,2201.9 1645.5,2201.5 1646.5,2201.7 1647.5,2202.3 1648.5,2202.7 1649.5,2202.6 1649.7,2203.1 1650.5,2203.3 1651.5,2203.5 1652.5,2202.8 1653.5,2203.4 1654.5,2203.2 1655.5,2203.4 1655.6,2203.1 1656.5,2203.2 1657.5,2203.1 1658.5,2202.1 1659.5,2201.9 1660.5,2201.7 1660.5,2200.4 1661.4,2170.9 1661.5,2165.4 1662.5,2081.4 1662.6,2073.2 1663.5,2012.4 1663.6,2006.7 1664.5,2089.3 1664.8,2111.7 1665.5,2168.8 1665.7,2186.5 1666.5,2184.3 1667.4,2180.6 1667.5,2180.9 1667.7,2180.2 1668.5,2175.3 1669.5,2169.2 1669.8,2167 1670.5,2174.4 1671.5,2184.4 1671.7,2186.4 1672.5,2191 1673.5,2196.9 1673.7,2198.5 1674.5,2199.6 1675.5,2200.4 1676.5,2201.6 1676.6,2202.5 1677.5,2201.7 1678.5,2200.7 1679.5,2200 1679.5,2200.3 1680.5,2200.6 1681.5,2201.7 1682.5,2202 1683.5,2203.1 1683.5,2203.5 1684.5,2202.5 1685.5,2202.2 1686.5,2201.5 1687.4,2201 1687.5,2200.9 1688.5,2201.8 1689.5,2202.3 1690.5,2203.2 1691.3,2202.8 1691.5,2203.3 1692.5,2203.1 1693.5,2203.5 1694.5,2203.4 1695.5,2203.8 1696.5,2204 1697.1,2203.6 1697.5,2203.5 1698.5,2204 1699.5,2203.2 1700.5,2203 1701.5,2202.7 1702,2203.1 1702.5,2202.3 1703.5,2200 1704.5,2197.9 1704.6,2197.8 1705.5,2199.5 1706.5,2201.1 1706.9,2202.3 1707.5,2202.7 1708.5,2202.8 1709.5,2203.2 1710.5,2203.7 1711.5,2203.5 1712.5,2203.9 1712.8,2203.9 1713.5,2204 1714.5,2204.3 1715.5,2204 1716.5,2203.4 1717.5,2203.3 1718.5,2203.3 1718.6,2203.8 1719.5,2204.2 1720.5,2204.3 1721.5,2204 1722.5,2204.2 1723.5,2204.2 1724.5,2204.3 1724.5,2204.2 1725.5,2204.5 1726.5,2204.2 1727.5,2204.3 1728.5,2203.6 1729.5,2203.4 1730.4,2203.9 1730.5,2203.9 1731.5,2203.2 1732.5,2203.6 1733.5,2203.4 1734.5,2202.8 1735.5,2203.1 1735.8,2203.3 1736.5,2153.8 1736.8,2131.4 1737.5,2020.9 1737.8,1976.4 1738.5,1932.4 1739.2,1892.9 1739.5,1913.3 1740.5,1974.1 1740.5,1975.9 1741.5,2122.2 1741.7,2151.2 1742.5,2202.4 1742.5,2202.4 1743.5,2202.3 1744.5,2202.5 1745.5,2203.4 1746,2203.5 1746.5,2203.7 1747.5,2203 1748.5,2203.2 1749.5,2204.1 1750.5,2204.1 1751.5,2204.1 1751.9,2204.5 1752.5,2204.3 1753.5,2203.5 1754.5,2203.4 1755.5,2202.6 1756.5,2202.1 1757.5,2201.9 1757.7,2201.5 1758.5,2202.6 1759.5,2203.3 1760.5,2204.5 1760.7,2204.8 1761.5,2204.8 1762.5,2204.8 1763.5,2204.7 1764.5,2204.6 1765.5,2204 1766.5,2204.6 1767.5,2204.7 1768.5,2204.1 1769.5,2204.4 1769.5,2204.8 1770.5,2204.7 1771.5,2204.7 1772.5,2204.5 1773.5,2204.8 1774.5,2204.6 1775.5,2205 1776.5,2205.4 1777.3,2205.3 1777.5,2205.3 1778.5,2204.8 1779.5,2204.9 1780.5,2205.1 1781.5,2204.7 1782.5,2205.1 1783.5,2204.8 1784.5,2205.2 1785.1,2204.8 1785.5,2205.3 1786.5,2204.4 1787.5,2203.7 1788.5,2203.8 1789.5,2203.1 1790,2202.9 1790.5,2202.9 1791.5,2202 1792.5,2200.3 1792.9,2200.1 1793.5,2201.2 1794.5,2203 1795.5,2204.6 1795.8,2204.9 1796.5,2205.3 1797.5,2204.5 1798.5,2205.2 1799.5,2204.2 1800.5,2204.5 1801.5,2204.4 1802.5,2204 1802.7,2204.4 1803.5,2204.6 1804.5,2204.5 1805.5,2205.1 1806.5,2204.9 1807.5,2205.1 1808.5,2204.9 1808.5,2204.6 1809.5,2204.8 1810.5,2204.7 1811.5,2205.4 1812.5,2204.8 1813.5,2204.7 1814.5,2205.5 1815.5,2204.6 1816.3,2204.8 1816.5,2205.5 1817.5,2204.8 1818.5,2205 1819.5,2204.8 1820.5,2205.5 1821.5,2204.7 1822.5,2205.1 1823.5,2205.4 1824.5,2205.1 1825.5,2205.3 1826.1,2205 1826.5,2184.5 1827.1,2151.1 1827.5,2128.9 1828.5,2072.7 1828.5,2070.9 1829.5,1987.4 1829.6,1975.9 1830.5,1939.6 1830.8,1927.1 1831.5,1989.5 1832,2034 1832.5,2085.1 1833.2,2150.9 1833.5,2174 1833.9,2201.8 1834.5,2202.6 1835.5,2203.5 1836.5,2203.7 1836.9,2204.2 1837.5,2204.3 1838.5,2204.6 1839.5,2205.2 1840.5,2205.4 1841.5,2205.9 1842.5,2205.3 1843.5,2205.7 1843.7,2206 1844.5,2206 1845.5,2205.5 1846.5,2205.6 1847.5,2205.8 1848.5,2204.8 1849.5,2205.6 1850.5,2205.3 1851.5,2204.5 1852.5,2204.9 1853.5,2204.6 1853.5,2204.8 1854.5,2205.1 1855.5,2205.1 1856.5,2204.8 1857.5,2205.5 1858.5,2205.8 1859.5,2205.3 1860.5,2206.3 1861.3,2206.1 1861.5,2205.6 1862.5,2202.8 1863.3,2199.8 1863.5,2200.1 1864.5,2198.2 1864.8,2196.8 1865.5,2200.4 1866.5,2204.1 1866.8,2205.3 1867.5,2205.8 1868.5,2206.2 1869.5,2205.7 1870.5,2206.2 1871.5,2205.8 1872.5,2205.9 1873.5,2206.1 1874.5,2206.5 1875,2206 1875.5,2205.6 1876.5,2205.6 1877.5,2206.1 1878.5,2206.1 1879.5,2206.3 1880.5,2205.9 1881.5,2206.5 1882.5,2206.5 1882.8,2206.2 1883.5,2205.5 1884.5,2205.7 1885.5,2205.5 1886.5,2204.9 1887.5,2204.3 1887.7,2204.1 1888.5,2204.3 1889.5,2205 1890.5,2205.5 1891.5,2204.9 1892.5,2205 1893.5,2205.2 1893.5,2205.4 1894.5,2203.5 1895.5,2200.8 1896.5,2200.7 1897.1,2199.5 1897.5,2201.3 1898.5,2204.4 1898.8,2205.9 1899.5,2206.1 1900.5,2206.1 1901.5,2206.6 1902.5,2206.5 1903.5,2206.1 1904.3,2206.9 1904.5,2206.3 1905.5,2205.3 1906.5,2205.6 1907.5,2204.7 1908.2,2204.3 1908.5,2204.3 1909.5,2205.3 1910.5,2205.6 1911.1,2205.6 1911.5,2206.3 1912.5,2205.5 1913.5,2205.9 1914.5,2205.7 1915.5,2205.9 1916.5,2205.1 1917.5,2205.1 1918,2205 1918.5,2204.8 1919.5,2205.6 1920.5,2205.4 1921.5,2205.5 1922.5,2204.7 1923.5,2204.7 1924.5,2204.7 1925.5,2205.3 1926.5,2205.4 1927.5,2204.9 1927.8,2205.3 1928.5,2204.8 1929.5,2205.7 1930.5,2205.3 1931.5,2205 1932.5,2205.2 1933.5,2206.1 1934.5,2205.5 1935.5,2205.4 1936.5,2205.5 1937.5,2206.4 1937.5,2205.7 1938.5,2198.6 1939.5,2190.1 1939.5,2189.2 1940.5,2139.2 1941.4,2092.3 1941.5,2089.3 1942.5,2039.3 1943,2014.3 1943.5,2009.5 1944.4,2001 1944.5,2008.5 1945.5,2060.5 1945.7,2073.3 1946.5,2136.8 1946.9,2170.5 1947.5,2185.4 1948.3,2204.5 1948.5,2203.8 1949.5,2205 1950.5,2205.1 1951.5,2205.1 1952.5,2205.6 1952.8,2206.3 1953.2,2205.7 1953.5,2206 1954.5,2205.7 1955.5,2206.3 1956.5,2206.4 1957.5,2206.6 1958.5,2206.3 1959.5,2206.5 1960.5,2206.2 1960.6,2206.6 1961.5,2206.8 1962.5,2206.1 1963.5,2206.6 1964.5,2206.5 1965.5,2206.6 1966.5,2206.6 1967.5,2206.7 1968.5,2206.8 1969.5,2206.2 1970.4,2206.4 1970.5,2206.2 1971.5,2203.8 1972.5,2201.8 1973.3,2200.7 1973.5,2199.5 1974.5,2195.9 1975.5,2191.5 1976.3,2188.9 1976.5,2187.7 1977.5,2183.9 1978.2,2180.3 1978.5,2180.8 1979.5,2179.4 1980.2,2179.4 1980.5,2179.6 1981.5,2183.7 1982.5,2186.5 1982.5,2186.6 1983.5,2191.3 1984.5,2195.6 1985,2198.1 1985.5,2199.2 1986.5,2202.6 1987.5,2204.4 1988,2206.3 1988.5,2206 1989.5,2206.2 1990.5,2206.7 1991.5,2206.8 1992.5,2207.1 1993.5,2207 1994.5,2207.2 1995.5,2206.9 1995.8,2207.5 1996.5,2206.8 1997.5,2207.1 1998.5,2206.7 1999.5,2207.1 2000.5,2207 2001.5,2206.8 2002.5,2206.8 2003.5,2207.3 2004.5,2207.1 2005.5,2206.7 2006.5,2207.1 2007.5,2207.3 2008.5,2207.3 2009.5,2206.7 2010.5,2207.2 2011.4,2207 2011.5,2207.4 2012.5,2207.1 2013.5,2207.4 2014.5,2207.4 2015.5,2207.4 2016.5,2206.9 2017.5,2207.1 2018.5,2206.9 2019.5,2207.3 2020.5,2206.8 2021.2,2206.7 2021.5,2206.4 2022.5,2205.3 2023.5,2204.7 2024.1,2203.9 2024.5,2203.4 2025.5,2200.2 2026.1,2198.6 2026.5,2197.4 2027.5,2195.8 2027.5,2196.2 2028.5,2200.3 2029.4,2204.1 2029.5,2204.6 2030.5,2206.1 2031,2206.6 2031.5,2207.4 2032.5,2207.4 2033.5,2206.8 2034.5,2207.4 2035.5,2207.3 2036.5,2207.5 2036.8,2207.2 2037.5,2206.8 2038.5,2205.9 2039.5,2204.7 2040.5,2203.9 2040.8,2204.5 2041.5,2202.9 2042.5,2201.5 2042.7,2201.4 2043.5,2201.7 2044.5,2202.8 2044.7,2203.4 2045.5,2206.5" fill="none" stroke="#ff0000" stroke-width="3.2" stroke-linejoin="round" stroke-linecap="round"/>
<path d="M203.5,2862.3 204.5,2861.7 205.5,2860.3 206.3,2860.4 206.5,2859.6 207.5,2859.4 208.5,2859.3 209.5,2858.2 210,2858.6 210.5,2858.7 211.5,2859.3 212.5,2860.2 213.5,2860.9 213.8,2860.9 214.5,2861.5 215.5,2860.6 216.3,2861.1 216.5,2859.9 217.5,2853.9 218.5,2849.2 218.8,2848 219.5,2847 220.5,2844.2 221.3,2843.1 221.5,2842.8 222.5,2843 223.3,2843 223.5,2843.1 224.5,2843.8 225.5,2845.9 226.3,2846.7 226.5,2847.5 227.5,2849 228.5,2851.4 229.5,2853.4 229.6,2853.4 230.5,2857.1 231.5,2861.1 232.1,2863.1 232.5,2862.9 233.5,2864.6 234.5,2864.6 235.1,2864.5 235.5,2864.9 236.5,2864.7 237.5,2864.3 238.5,2865.1 239.5,2863.9 240.1,2864.8 240.5,2864.4 241.5,2864.1 242.5,2864.5 243.5,2864.7 244.5,2864.5 245.1,2865.4 245.5,2865.3 246.5,2865.8 247.5,2865.7 248.5,2865.8 249.5,2866.1 249.6,2866.1 250.5,2860.5 251.5,2854.3 252.1,2850.5 252.5,2844.5 253.5,2827.5 253.9,2820.9 254.5,2818.6 255.5,2813.9 256.4,2811.1 256.5,2811.3 257.5,2817.6 258.5,2823.3 258.9,2825.5 259.5,2826.9 260.5,2827.9 260.6,2828.7 261.5,2829.4 262.5,2830 262.7,2831.1 263.5,2841.4 264.4,2854.2 264.5,2854.4 265.5,2855.7 266.4,2857.3 266.5,2856.8 267.5,2856.8 268.5,2855.7 269.5,2855.6 269.7,2855.1 270.5,2857.7 271.5,2860 272.2,2862.1 272.5,2860.8 273.5,2859.5 274.5,2858.5 275.2,2856.2 275.5,2857.1 276.5,2857.6 277.5,2858.2 277.7,2858.1 278.5,2857.9 279.5,2858.2 280.2,2857.3 280.5,2856.7 281.5,2853.2 282.2,2850.8 282.5,2850.4 283.5,2849.6 284,2850.3 284.5,2850.8 285.5,2853.4 285.7,2854.1 286.5,2853.8 287.5,2853.4 288.2,2853.9 288.5,2848.2 289.5,2829.4 289.7,2825.6 290.5,2816.8 291.5,2805.6 291.5,2805.4 292.5,2802.2 293,2801.2 293.5,2805.2 294.5,2814.2 295.2,2819.9 295.5,2822.6 296.5,2833.5 297.2,2840.1 297.5,2843.7 298.5,2856.1 299,2863.4 299.5,2863.2 300.5,2863.7 301.5,2864.8 302.5,2865.4 303.5,2864.9 304.5,2863.8 305.3,2864.8 305.5,2863.8 306.5,2864.3 307.5,2864.3 308.5,2864.6 309,2863.9 309.5,2864.8 310.5,2864.5 311.5,2865.4 312.5,2866 312.8,2865.6 313.5,2862.2 314.5,2859.3 314.8,2857.9 315.5,2854.2 316.5,2848.6 316.5,2847.5 317.5,2846.8 318.5,2845.6 318.8,2845.5 319.5,2847.1 320.5,2849.8 320.8,2850.8 321.5,2853.9 322.5,2860.3 323.3,2864.4 323.5,2864.6 324.5,2864.6 325.5,2865.7 326.1,2865.9 326.5,2865.6 327.5,2866.4 328.5,2866.2 329.5,2865.6 330.3,2865 330.5,2866.1 331.5,2864.8 332.5,2865 333.5,2864.8 334.5,2864.9 335.3,2864.5 335.5,2864.2 336.5,2862.6 337.5,2861.6 337.8,2860.9 338.5,2860.1 339.5,2860.2 340.5,2860 340.9,2859.3 341.5,2859.3 342.5,2860 343.5,2861.9 344.1,2861.4 344.5,2862.5 345.5,2862.6 346.5,2863.5 347.5,2864.3 347.9,2865.4 348.5,2864.3 349.5,2864.4 350.5,2864.4 351.5,2863.6 351.6,2862.9 352.5,2863.4 353.5,2864.9 354.5,2864.8 355.4,2865 355.5,2865.3 356.5,2863.1 357.5,2860 358.4,2857.6 358.5,2857.5 359.5,2857 360.5,2856.4 361.1,2855 361.5,2856.4 362.5,2858 363.5,2859.5 364.2,2860.4 364.5,2860.4 365.5,2862.1 366.5,2863.1 367.4,2864.5 367.5,2863.6 368.5,2861.6 369.5,2859.4 370.4,2858 370.5,2857.3 371.5,2855.9 372.5,2853.8 372.9,2852.8 373.5,2852.1 374.5,2851.9 375.4,2850.5 375.5,2850.2 376.5,2853.8 377.5,2857 377.9,2858 378.5,2860.2 379.5,2863.1 380.4,2865.8 380.5,2864.9 381.5,2865 382.5,2864.7 383.5,2863.9 383.5,2863.9 384.5,2854.7 385.5,2845.8 385.5,2845.7 386.5,2843.2 387.5,2840.2 387.5,2840.5 388.5,2835.5 389.5,2831 390,2828 390.5,2830.6 391.5,2836 392.5,2840.7 392.5,2840.2 393.5,2845.5 394.5,2850.1 395.5,2854.4 395.5,2854.2 396.5,2854.2 397.5,2854.8 398.5,2855.8 399.5,2859.8 400.5,2862.6 401.5,2863.7 402.5,2865.3 403,2866.6 403.5,2865.8 404.5,2866.8 405.5,2866.8 406.5,2867 407.5,2867.3 408,2867 408.5,2866.2 409.5,2866 410.5,2865.5 411.5,2865.4 411.8,2864.9 412.5,2865.2 413.5,2864.3 414.5,2864.4 415.5,2864.3 416.5,2864.1 417.5,2864.7 418.1,2864.7 418.5,2864.2 419.5,2865.5 420.5,2865.7 421.1,2866.5 421.5,2866.4 422.5,2867 423.5,2867.2 424.5,2867.2 425.5,2866.5 425.6,2866.7 426.5,2866.1 427.5,2866.2 428.5,2865.2 428.6,2865.9 429.5,2865.6 430.5,2865.9 431.5,2866.4 431.8,2866.5 432.5,2865.6 433.5,2865.9 434.5,2865.1 435.5,2864.5 435.6,2865.5 436.5,2864.8 437.5,2865.2 438.5,2865.9 439.5,2866.2 440.5,2865.9 440.6,2866.3 441.5,2865.8 442.5,2865.2 443.5,2865.7 444.4,2865.1 444.5,2864.9 445.5,2862.9 446.5,2861 446.9,2859.7 447.5,2859.5 448.5,2859.6 449.4,2859 449.5,2855.9 450.5,2829.1 450.6,2825.1 451.5,2801.5 451.9,2790.9 452.5,2783.6 453.4,2774.8 453.5,2777.8 454.5,2803.2 454.9,2812.8 455.5,2837.7 456.1,2863.6 456.5,2854 457.5,2828.8 457.6,2825.2 458.5,2817.4 459.1,2810.8 459.5,2815.6 460.5,2829 460.6,2830.4 461.5,2845.3 462.4,2860.3 462.5,2860.2 463.5,2862.1 464.4,2862.9 464.5,2862.5 465.5,2856.6 466.5,2850.2 466.9,2847.4 467.5,2845.8 468.5,2841.5 468.7,2840.8 469.5,2845.4 470.5,2851.7 470.7,2853.2 471.5,2853.4 472.5,2854.4 472.7,2854.3 473.5,2851.4 474.5,2848.3 475.2,2845 475.5,2845 476.5,2844.9 477.5,2844.8 477.7,2844.7 478.5,2836.1 479.4,2825.1 479.5,2825 480.5,2821.6 480.9,2820.1 481.5,2824.7 482.5,2833.3 482.7,2835.9 483.5,2848 484.5,2863.6 484.5,2863.2 485.5,2864.8 486.2,2866 486.5,2862.8 487.5,2852.4 488.2,2845.4 488.5,2844 489.5,2838.7 490,2836.8 490.5,2840.7 491.5,2847 492,2849.9 492.5,2854.1 493.5,2862.3 493.7,2863.9 494.5,2864.7 495.5,2866 495.7,2865.2 496.5,2851.4 497.2,2838.1 497.5,2834.7 498.5,2824.4 499,2819 499.5,2823.4 500.5,2835 500.8,2838.3 501.5,2847 502.5,2860.5 502.5,2860.9 503.5,2851.1 504.3,2842.6 504.5,2842.1 505.5,2836 506,2833.3 506.5,2837.5 507.5,2847.3 507.8,2850.5 508.5,2852.6 509.5,2853.9 509.5,2854.8 510.5,2854.4 511.3,2853.5 511.5,2854.6 512.5,2860.6 513.3,2863.7 513.5,2864.5 514.5,2864.7 515.3,2865.7 515.5,2854.5 516.5,2802.7 516.5,2800.3 517.5,2770.3 518.5,2738.3 518.5,2736.1 519.5,2778.1 520.3,2812.5 520.5,2821.9 521.5,2864.3 521.5,2866.2 522.5,2866 523.5,2866.1 524.5,2865 525.5,2864.9 525.8,2865.5 526.5,2865.1 527.5,2864.5 528.5,2865 529.5,2864.7 530.5,2863.7 530.8,2864.8 531.5,2864.1 532.5,2863.4 533.5,2862 534.5,2861.3 534.6,2861.3 535.5,2859.2 536.5,2855.2 536.6,2855.3 537.5,2853 538.4,2850.9 538.5,2851.7 539.5,2857.4 540.4,2863 540.5,2862.6 541.5,2863.5 542.5,2863.8 542.9,2863.7 543.5,2851.7 543.9,2845.8 544.5,2841.4 545.1,2838.5 545.5,2842.9 546.5,2854.4 546.9,2858.2 547.5,2860.5 548.4,2863.5 548.5,2862.3 549.5,2860.2 550.5,2859.1 550.9,2857.7 551.5,2858.1 552.5,2858.1 553.4,2858.1 553.5,2858.7 554.5,2861.8 555.2,2864.5 555.5,2863.8 555.9,2863.8 556.5,2864.9 557.5,2866 557.6,2865.6 558.5,2862.9 559.5,2860.8 559.5,2860.6 560.5,2832.3 560.9,2820.7 561.5,2808.5 562.1,2795.7 562.5,2803.4 563.5,2821 563.5,2819.7 564.4,2801.9 564.5,2804.5 565.5,2839.9 565.8,2850.1 566,2842.6 566.5,2826.8 566.9,2813.2 567,2811.5 567.5,2737.3 567.6,2722.3 568,2674.3 568.2,2662.4 568.5,2646.8 568.6,2640.7 568.9,2605.7 569.2,2612.6 569.3,2606 569.5,2625.6 569.6,2639.3 570.2,2700.2 570.5,2733.7 570.5,2734.9 570.9,2785.1 571.3,2830.4 571.5,2837.7 571.8,2845.4 572.2,2859.6 572.5,2860 573.5,2861 574.2,2861.6 574.5,2859.4 575.5,2849.4 575.8,2846.3 576.5,2841.6 577.1,2837.2 577.5,2839.7 578.5,2846 579.1,2850.3 579.5,2852.7 580.5,2859.1 581,2863.7 581.5,2862.6 582.5,2861.5 583.4,2860.3 583.5,2860.1 584.5,2861.3 585.3,2862.9 585.5,2858.7 586.5,2830.7 586.5,2830.7 587.3,2772.6 587.5,2766.1 588.3,2745.5 588.5,2756 589.2,2792 589.5,2796.9 590.2,2811.2 590.5,2810.8 591.2,2807.8 591.5,2818.2 592.4,2850.9 592.5,2852.1 593.5,2863.2 593.5,2863 594.5,2820.8 594.7,2811.5 595.5,2749.3 595.7,2733.1 596.5,2687.8 596.5,2689.4 597.5,2752.3 597.5,2756.3 598.2,2831 598.5,2831.7 599.5,2836.8 599.6,2837.2 600.5,2846 601,2850 601.5,2852.2 602.5,2856.5 602.9,2858.3 603.5,2858.6 604.5,2858.8 605.5,2859.8 605.5,2860.6 606.5,2858 607.4,2856.3 607.5,2857 608.5,2859.3 609.5,2862.6 610,2864.3 610.5,2863.4 611.5,2862.9 612.5,2862.6 612.7,2862.5 613.5,2841.2 613.9,2830.9 614.5,2780.4 614.9,2752.4 615.5,2732 616.2,2709 616.5,2723.3 617.4,2771.9 617.5,2784.3 618.2,2859.9 618.5,2849.9 619.1,2831 619.5,2826.5 620.1,2818.3 620.5,2823.1 621.5,2837.6 621.7,2840 622.5,2853.9 623.1,2862.8 623.5,2863 624.5,2863.1 625.5,2862.3 626,2861.9 626.5,2836 627,2811.6 627.5,2792.8 628.5,2758.8 628.5,2758 629.5,2795.1 629.9,2811.5 630.5,2841 630.9,2860.1 631.5,2841.6 631.9,2831.3 632.5,2804.8 632.8,2791.7 633.5,2786.4 633.8,2782.5 634.5,2810.8 635,2831 635.5,2845.5 636.2,2864.5 636.5,2863.8 637.5,2864.8 638.5,2864.5 639.5,2864.6 639.7,2865.2 640.5,2862.3 641.5,2859.5 642.5,2857.1 642.6,2856.6 643.5,2844.9 644.5,2831.7 644.6,2830.3 645.5,2810.5 645.9,2801.9 646.5,2809 647.5,2820.5 647.5,2821 648.5,2822.8 648.9,2823.2 649.5,2838.2 650.4,2859.9 650.5,2860.3 651.5,2861.1 652.5,2863.5 653.4,2863.6 653.5,2863.7 654.5,2864.4 655.5,2863.7 656.5,2862.9 657.3,2862.8 657.5,2862.8 658.5,2861.4 659.5,2860.3 660.2,2859.7 660.5,2859.1 661.5,2857.3 662.1,2856.4 662.5,2857.1 663.5,2861 664.1,2862.9 664.5,2863.3 665.5,2863.8 666.5,2864.1 667.5,2865 668,2865.6 668.5,2865 669.5,2865 670.5,2864.1 671.5,2863.7 672.5,2863.1 672.9,2863 673.5,2862.5 674.5,2862.1 675.5,2860.5 675.8,2860.4 676.5,2847.9 677.4,2830.4 677.5,2828.2 678.5,2808.6 679,2799.4 679.5,2819.7 680.3,2849.9 680.5,2852 681.5,2860.4 681.7,2861.8 682.5,2861.9 683.5,2861.5 684.5,2860 684.6,2860.2 685.5,2857.4 686.5,2855.1 686.6,2854 687.5,2857.4 688.5,2862.5 688.5,2862.4 689.5,2860.8 690.5,2859 691.5,2858 691.5,2858.1 692.5,2856.2 693.5,2853.8 694.4,2852.2 694.5,2852.1 695.5,2854.2 696.4,2855.9 696.5,2856.5 697.5,2859.2 698.5,2862 698.7,2861.7 699.5,2857.8 700.5,2851 700.6,2849.9 701.5,2842.1 701.8,2839.2 702.5,2839.2 703.5,2838.7 703.8,2839.2 704.5,2837.1 705.1,2834.8 705.5,2837.5 706.5,2844.6 707.1,2848.8 707.5,2850.3 708.5,2856.7 709,2859.6 709.5,2860.1 710.5,2861.6 711,2861.7 711.5,2860.1 712.5,2858.3 713,2855.8 713.5,2857.7 714.5,2859.3 714.9,2860.1 715.5,2857.3 716.5,2852.4 716.9,2850 717.5,2843.9 718.4,2833.4 718.5,2833.7 719.5,2842.2 720.2,2848.6 720.5,2847 721.5,2844.4 722.1,2842.8 722.5,2844.5 723.5,2849.8 724.1,2852 724.5,2852.6 725.5,2850.8 726.5,2850.1 726.6,2850.8 727.5,2852.3 728,2854.9 728.5,2836.6 729.2,2811.2 729.5,2803.5 730.5,2778.5 730.5,2777.8 731.5,2814.1 731.9,2831.2 732.5,2847.3 733.1,2863.1 733.5,2862.5 734.5,2861.7 735.4,2860.7 735.5,2859.5 736.5,2853 737.4,2847.1 737.5,2846.5 738.5,2843.7 738.8,2844 739.5,2851 740.3,2860 740.5,2860.1 741.5,2861.2 742.3,2862.5 742.5,2860.7 743.5,2856.4 744.5,2851.8 744.8,2850.8 745.5,2835.8 746.2,2820.9 746.5,2814.7 747.5,2795.9 747.6,2795.2 748.5,2816.3 749.1,2831.1 749.5,2831 750.5,2832.2 750.7,2832.3 751.5,2848.8 752,2860 752.5,2856.8 753.5,2850 754,2846.7 754.5,2845.3 755.4,2842 755.5,2843.7 756.5,2855.5 756.9,2860.7 757.5,2861.2 758.5,2864.2 758.9,2864.7 759.5,2865.5 760.5,2865.3 761.5,2864.7 762.5,2864.2 762.8,2864.5 763.5,2864.7 764.5,2864.3 765.5,2865.3 766.5,2865 766.7,2864.7 767.5,2862.3 768.5,2859.8 769,2857.7 769.5,2859.6 770.5,2861.3 771.5,2864.3 771.6,2864.5 772.5,2863.7 773.5,2864 774.5,2863 774.5,2862.8 775.5,2858.5 776.5,2853.8 777.1,2850.8 777.5,2848.1 778.5,2842.9 778.8,2841.7 779.5,2847.9 780.5,2855.7 780.8,2858 781.5,2860.2 782.5,2861.9 783.3,2863.1 783.5,2863.3 784.5,2862.9 785.5,2863.8 786.5,2864 787.2,2863.8 787.5,2863.4 788.5,2862 789.5,2860.6 790.2,2860.2 790.5,2860.3 791.5,2861.6 792.5,2862.9 793.1,2862.6 793.5,2863.3 794.5,2862.5 795.5,2862.8 796.4,2861.4 796.5,2857.6 797.5,2797.1 797.6,2791.8 798.5,2682.3 798.6,2674.2 799.5,2616.9 799.5,2614.6 800.5,2712 800.7,2732.7 801.5,2817.9 801.9,2860.6 802.5,2857.6 803.5,2852.5 803.8,2850.3 804.5,2846.6 805.5,2841.6 805.8,2839.6 806.5,2845.5 807.5,2852.7 808.1,2857.8 808.5,2858.3 809.5,2859.8 810.5,2859.8 810.7,2860.2 811.5,2855.6 812.5,2851.2 812.6,2850 813.5,2845 814.2,2840.7 814.5,2839.9 815.5,2836.3 815.6,2835.8 816.5,2843.3 817.5,2850.1 817.5,2850.3 818.5,2844.7 819.1,2841 819.5,2839.3 820,2838.5 820.1,2838.8 820.5,2843.5 821.5,2853.5 821.6,2853.7 822.5,2860.8 822.9,2862.9 823.5,2861.1 824.5,2858 824.9,2856 825.5,2857.3 826.5,2857.7 826.8,2858.1 827.5,2859.9 828.5,2863.3 828.8,2863.7 829.5,2864.4 830.5,2863.7 831.3,2862.6 831.5,2861.9 832.5,2858.4 833.5,2855.3 833.7,2854.4 834.5,2858.3 835.5,2862.6 835.6,2863.1 836.5,2863.5 837.5,2864 838.5,2863.9 838.6,2864.4 839.5,2864.9 840.5,2865 841.5,2864.9 842.5,2855.7 843.1,2850.4 843.5,2847.9 844.4,2842.1 844.5,2842.9 845.5,2854.8 846,2860 846.5,2860.7 847.5,2862.4 848.3,2862.9 848.5,2862 849.5,2855.1 850.3,2850 850.5,2846.8 851.3,2831.3 851.5,2830.2 852.5,2827.3 852.6,2826.6 853.5,2841.9 854.2,2854.9 854.5,2857.1 855.2,2865.3 855.5,2864.2 856.5,2862 857.1,2859.9 857.5,2859.5 858.5,2858.4 859.1,2858.6 859.5,2858.2 860.5,2859.7 860.6,2860.1 861.5,2855.9 862.2,2851.7 862.5,2853.8 863.5,2860.4 864,2864 864.5,2864.2 865.5,2862.8 866.5,2862.2 866.9,2861.9 867.5,2862.2 868.5,2862.1 869.5,2862.5 869.8,2862.6 870.5,2861.1 871.5,2858.5 872.2,2856.7 872.5,2857.6 873.5,2859.5 874.5,2862.5 874.7,2863.2 875.5,2862.6 876.5,2861.6 877.5,2860.2 877.6,2860.6 878.5,2861.2 879.5,2862.2 880.5,2863.6 880.6,2863.5 881.5,2856.7 882.5,2851 882.5,2849.8 883.3,2830.9 883.5,2829.1 884.3,2822.3 884.5,2825.5 885.5,2840.4 885.5,2840.8 886.5,2859.6 886.5,2860.6 887.5,2859.9 888.5,2858.6 889.4,2857.9 889.5,2858 890.5,2860.5 891.5,2861.7 892.3,2862.7 892.5,2863 893.5,2864 894.5,2864.1 895.2,2865.1 895.5,2864.6 896.5,2864.9 897.5,2865.6 898.5,2865.9 899.5,2866.1 900.1,2866.5 900.5,2865.7 901.5,2865.8 902.5,2865.6 903.5,2866.3 904.5,2865.6 905.5,2865.7 906,2866.3 906.5,2864.1 907.5,2859.2 907.6,2859.1 908.5,2860.1 909.5,2860 909.9,2860.4 910.5,2860.7 911.5,2862.3 912.5,2862.9 912.8,2863.5 913.5,2863 914.5,2862.1 915.5,2861.6 915.8,2862.3 916.5,2862 917.5,2860.7 918.5,2860.7 918.7,2860.3 919.5,2844.4 919.7,2840.7 920.5,2834.1 920.6,2832.4 921.5,2844.1 922,2850.5 922.5,2852.3 923.5,2855.6 923.6,2856.8 924.5,2860.4 925.5,2865.2 925.5,2864.5 926.5,2864.4 927.5,2864.1 928.5,2864.2 928.5,2863.6 929.5,2857.5 930.4,2850.6 930.5,2850.1 931.5,2841.5 932.2,2836.7 932.5,2839.8 933.5,2848.1 933.8,2850.6 934.5,2856.4 935.3,2863.4 935.5,2863.1 936.5,2862.3 937.5,2860.5 938.2,2860.2 938.5,2858.4 939.5,2852.5 939.6,2851.8 940.5,2856.7 941.5,2862.1 941.6,2862 942.5,2860.9 943.5,2859.4 944.1,2858.3 944.5,2857.1 945.5,2854.2 946.1,2852.9 946.5,2853.6 947.5,2857.9 948,2860.4 948.5,2860.5 949.5,2862.9 950,2863.4 950.5,2862 951.5,2859.6 952.5,2857.7 952.5,2857 953.5,2860.3 954.5,2863.5 954.9,2863.5 955.5,2863.6 956.5,2861.9 957.5,2860.3 957.8,2859.8 958.5,2857.1 959.1,2854.8 959.5,2856.3 960.5,2862.3 960.7,2863.2 961.5,2863.4 962.5,2863.6 963.5,2863.5 963.6,2864.5 964.5,2858 965.5,2850.7 965.6,2850.1 966.5,2837.8 966.6,2836.5 967.5,2832.6 967.6,2832.3 968.5,2842.4 968.9,2846.2 969.5,2849 970.5,2852.1 970.5,2852.6 971.5,2858.9 972,2862.8 972.5,2863.4 973.5,2863.2 974.5,2863.7 975.4,2863.9 975.5,2863.4 976.5,2860.2 977.5,2856.4 977.9,2854.5 978.5,2857.1 979.5,2861 979.9,2862.7 980.5,2862.7 981.5,2863.2 982.5,2862.3 983.2,2862.4 983.5,2862.2 984.5,2863.4 985.5,2864.1 986.1,2864.5 986.5,2863 987.5,2862.4 988.5,2860.4 989,2860.2 989.5,2861.1 990.5,2863.1 991.5,2863.8 992,2864.9 992.5,2864.7 993.5,2864.2 994.5,2863.8 995.5,2863.8 996.5,2840.9 996.5,2840.1 997.5,2829.2 997.5,2829.5 998.5,2845.9 998.8,2850.1 999.5,2859.8 999.8,2863.8 1000.5,2859.8 1001.5,2853.8 1002.1,2850.9 1002.5,2847 1003.3,2838.8 1003.5,2841.3 1004.5,2854.5 1004.9,2859.6 1005.5,2861.4 1006.5,2863.4 1006.6,2863.8 1007.5,2863.2 1008.5,2861.8 1009.5,2859.8 1009.6,2859.8 1010.5,2861.7 1011.5,2862.2 1012.5,2864.2 1012.5,2864.5 1013.5,2863.6 1014.5,2863.3 1015.4,2863.6 1015.5,2862.1 1016.4,2842.6 1016.5,2842.1 1017.2,2836.4 1017.5,2840 1018.4,2850.8 1018.5,2850 1019.4,2845.1 1019.5,2844.7 1020.5,2844.7 1021.3,2845.4 1021.5,2847.1 1022.5,2856.4 1022.9,2859.9 1023.5,2862.3 1024.2,2864.4 1024.5,2863.4 1025.5,2862 1026.5,2861.6 1027.2,2859.7 1027.5,2859.4 1028.5,2858.6 1029.5,2858.6 1029.5,2857.7 1030.5,2856.8 1031.5,2854.2 1032,2853.8 1032.5,2855.7 1033.4,2861.6 1033.5,2861.7 1034.5,2864 1035.5,2865.1 1036,2865.3 1036.5,2863.6 1037.5,2861.8 1037.9,2860.3 1038.5,2843.1 1038.9,2831.2 1039.5,2806.4 1039.9,2792.1 1040.5,2773.1 1041,2756.2 1041.5,2777.5 1042.2,2811.3 1042.5,2826 1043.2,2862.8 1043.5,2862.9 1044.5,2861.8 1045.5,2860.2 1045.7,2860.3 1046.5,2860.1 1047.5,2861.8 1048.5,2861.6 1048.7,2862.4 1049.5,2861.4 1050.5,2859.2 1051.5,2858.9 1051.6,2858.2 1052.5,2852.6 1053,2849.9 1053.5,2846.7 1053.8,2844.6 1054.5,2837.7 1054.7,2823.2 1055.4,2735.3 1055.5,2721.7 1056,2627 1056.4,2527.4 1056.5,2504.4 1056.7,2447.7 1057,2527.1 1057.4,2626.9 1057.5,2646.7 1058,2736.1 1058.5,2803.5 1058.7,2810.4 1059.5,2805.4 1059.6,2804.5 1060,2802 1060.5,2825.1 1061.4,2863.9 1061.5,2863.5 1062.5,2863.2 1063.5,2861.8 1064.3,2860.7 1064.5,2859.7 1065.5,2855.5 1065.9,2854.7 1066.5,2855 1067.5,2856 1068.2,2855.8 1068.5,2856.8 1069.5,2860.4 1070.2,2861.9 1070.5,2861.2 1071.5,2860.6 1072.5,2859.2 1073.1,2858.8 1073.5,2855 1074.5,2845.7 1075,2840.9 1075.5,2837.5 1076.5,2831.2 1076.6,2830.5 1077.5,2842.4 1078.4,2854.8 1078.5,2854.8 1079.5,2860.9 1079.9,2863.3 1080.5,2863.3 1081.5,2862 1082.5,2862.7 1082.9,2861.9 1083.5,2861.2 1084.5,2858.2 1085.5,2855.4 1085.8,2855.8 1086.5,2857.2 1087.5,2861.4 1088.1,2862.8 1088.5,2862.4 1089.5,2861.3 1090.5,2860 1090.7,2860.7 1091.5,2846 1091.7,2843.2 1092.5,2839.3 1092.6,2839.3 1093.5,2850.7 1094.2,2860.5 1094.5,2861.1 1095.5,2861.4 1096.5,2863.4 1096.5,2863 1097.5,2863 1098.5,2862.7 1099.5,2862.7 1099.5,2862.4 1100.5,2861 1101.4,2859.3 1101.5,2859.7 1102.5,2860.7 1103.4,2861.7 1103.5,2861.9 1103.9,2863.2 1104.5,2863 1105.5,2862.5 1106.5,2861.5 1106.8,2861.3 1107.5,2862.5 1108.5,2863.9 1108.8,2863.7 1109.5,2863.5 1110.5,2862.9 1111.3,2863.1 1111.5,2860.7 1112.3,2846.4 1112.5,2845.9 1113.5,2840.6 1113.7,2840 1114.5,2848.1 1115.2,2855.7 1115.5,2857.1 1116.5,2859 1117.2,2860.4 1117.5,2861.4 1118.5,2862.8 1118.6,2863 1119.5,2862.3 1120.5,2861.5 1121.5,2859.9 1122.5,2861.3 1123.5,2862 1124.4,2862.7 1124.5,2863.2 1125.5,2861.7 1126.4,2859.9 1126.5,2857.5 1127.5,2828.2 1127.8,2821 1128.5,2768.6 1128.7,2753.1 1129.5,2722.7 1129.9,2707 1130.5,2759.7 1131.1,2811.3 1131.5,2833.3 1132,2863 1132.5,2862.5 1133.5,2860 1134.2,2857.7 1134.5,2858.6 1135.5,2861 1136.2,2863.7 1136.5,2863.3 1137.5,2863.4 1138.5,2863 1139.1,2863.6 1139.5,2861.8 1140.5,2858.3 1141,2856.9 1141.5,2857.5 1142.5,2861.1 1143,2862.4 1143.5,2860.6 1144.5,2856.2 1144.6,2856.6 1145.5,2859.2 1146.5,2863.3 1146.5,2863.4 1147.5,2862.5 1148.5,2861.8 1149.5,2860.4 1149.8,2859.8 1150.5,2861.2 1151.5,2862 1152.4,2863.4 1152.5,2863 1153.5,2860.1 1154.5,2858 1154.7,2856.7 1155.5,2859.2 1156.5,2862 1157.1,2862.6 1157.5,2863.4 1158.5,2863.7 1159.5,2863.4 1159.6,2863.3 1160.5,2860.2 1161.5,2856.8 1161.6,2856.5 1162.5,2843.4 1162.5,2842.3 1163.3,2838 1163.5,2840.1 1164.5,2850.3 1164.5,2850.7 1165.5,2861.6 1165.5,2862.2 1166.5,2862.8 1167.5,2863.4 1168.4,2863.3 1168.5,2862.7 1169.5,2862.4 1170.5,2860.7 1171.5,2859.2 1171.9,2858.9 1172.5,2859.8 1173.5,2861.7 1174.3,2863.3 1174.5,2863.1 1175.5,2863.3 1176.5,2863 1177.2,2861.6 1177.5,2860.7 1178.5,2856.4 1178.6,2856.5 1179.5,2859.4 1180.5,2862.4 1180.5,2862.7 1181.5,2860.9 1182.1,2860.5 1182.5,2861.1 1183.5,2861.8 1184.4,2863.6 1184.5,2864.1 1185.5,2863.4 1186.5,2863.5 1187.5,2864.5 1188.5,2864.5 1188.9,2864.7 1189.5,2864 1190.5,2863.7 1191.5,2863.1 1192.5,2863.2 1192.8,2863.4 1193.5,2862 1194.5,2860.5 1194.8,2859.9 1195.5,2860.6 1196.5,2862.9 1196.7,2863.1 1197.5,2863.3 1198.5,2863.9 1199.5,2863.8 1200.1,2863.3 1200.5,2863.2 1201.5,2860.3 1202.5,2858.5 1202.6,2858.2 1203.5,2854.6 1204.5,2850.9 1204.6,2850 1205.5,2849.4 1206.5,2847.3 1206.9,2847.4 1207.5,2849.9 1208.5,2854.3 1208.9,2856.6 1209.5,2858.2 1210.4,2862.2 1210.5,2862 1211.5,2862.8 1212.4,2863.9 1212.5,2864.5 1213.5,2863.9 1214.5,2862.8 1215.3,2862.7 1215.5,2862.8 1216.5,2862.5 1217.5,2861.6 1218.2,2862.2 1218.5,2862 1219.5,2860.5 1220.5,2859.9 1221.2,2859.6 1221.5,2860 1222.5,2859 1223.5,2859.8 1224.1,2859.5 1224.5,2860.1 1225.5,2860.8 1226.5,2861 1227,2861.8 1227.5,2860.2 1228.5,2856.4 1229,2854 1229.5,2854.5 1230.5,2853.6 1230.5,2853.8 1231.5,2854.1 1232.5,2853.7 1232.9,2854.2 1233.5,2856.8 1234.5,2859.7 1234.8,2861.5 1235.5,2862 1236.5,2862.5 1236.8,2862.8 1237.5,2863.5 1238.5,2862.7 1239.5,2862.3 1240.5,2862 1240.7,2862 1241.5,2861.4 1242.5,2861.9 1243.5,2861 1244.5,2861 1244.6,2860.9 1245.5,2859.9 1246.5,2857.1 1246.6,2857.6 1247.5,2859.3 1248.5,2862.4 1248.5,2862.7 1249.5,2862.5 1250.5,2861.9 1251.5,2862.2 1251.5,2862.4 1252.5,2862.3 1253.5,2862.3 1254.5,2861.7 1255.4,2862 1255.5,2860.5 1256.5,2855.2 1257.3,2850.4 1257.5,2845.2 1258.3,2821.6 1258.5,2819.1 1259.5,2811.5 1259.7,2810.3 1260.5,2831.1 1260.8,2840.3 1261.5,2846.9 1261.8,2850 1262.5,2847.8 1263.5,2843 1263.8,2841.2 1264.5,2847.1 1265.5,2854.6 1265.7,2856.6 1266.5,2858.8 1267.5,2860.4 1267.7,2861.6 1268.5,2861.3 1269.5,2862.7 1270.5,2863 1271,2863.5 1271.5,2863.1 1272.5,2862.5 1273.5,2862.9 1274.5,2862.7 1274.9,2862.7 1275.5,2860.9 1276.5,2860.6 1277.5,2858.8 1277.5,2858.9 1278.5,2861.1 1279.5,2861.5 1279.8,2862.2 1280.5,2862.6 1281.5,2862.1 1282.5,2862.5 1283.5,2862.4 1283.7,2861.8 1284.5,2862.4 1285.5,2861.9 1286.5,2861.8 1287.5,2860.9 1287.6,2861.7 1288.5,2861.9 1289.5,2862.6 1290.5,2862.8 1291.5,2862.8 1291.5,2862.9 1292.5,2862.4 1293.5,2862.5 1294.5,2862 1295.4,2862.5 1295.5,2862.1 1296.5,2861.9 1297.5,2860.8 1298.4,2860.2 1298.5,2859.6 1299.5,2858.8 1300.5,2858.5 1301.3,2856.9 1301.5,2857.3 1302.5,2857.1 1303.5,2856 1304.2,2856.1 1304.5,2856.5 1305.5,2858.5 1306.5,2859.6 1307.2,2860.4 1307.5,2860.7 1308.5,2861.1 1309.5,2861.7 1310.5,2862.5 1311.1,2863.6 1311.5,2863 1312.5,2860.7 1313.5,2860.2 1314.5,2858.4 1314.6,2857.8 1315.5,2860.1 1316.5,2861.8 1316.9,2862.8 1317.5,2862.8 1318.5,2861.9 1319.3,2862.7 1319.5,2859.8 1320.3,2853.9 1320.5,2854.5 1321.5,2856.7 1322.5,2859.4 1322.8,2860.7 1323.5,2860.2 1324.5,2859.2 1325.5,2858.6 1326.5,2857.2 1326.7,2856.9 1327.5,2857.7 1328.5,2859.1 1329.5,2861 1329.6,2860.7 1330.5,2861.5 1331.5,2862.3 1332.5,2862.7 1332.6,2862.4 1333.5,2861.9 1334.5,2861.6 1335.5,2861.2 1336.5,2859.7 1336.5,2860.6 1337.5,2860.2 1338.5,2860.2 1339.5,2860.6 1340.4,2861.4 1340.5,2861.6 1341.5,2860.5 1342.5,2860.2 1343.5,2859.4 1344.5,2859.9 1345.3,2859.1 1345.5,2859 1346.5,2860.1 1347.5,2861.8 1347.8,2861.9 1348.5,2856.1 1349.2,2850.1 1349.5,2838.2 1350.2,2812 1350.5,2805.3 1351.3,2790.4 1351.5,2795.1 1352.5,2830.4 1352.5,2830.9 1353.5,2857.9 1353.7,2862.6 1354.5,2854.6 1355,2849.8 1355.5,2841.9 1356,2832.9 1356.5,2831.7 1357,2830.9 1357.5,2837.1 1358.4,2850.1 1358.5,2851.8 1359.5,2860.6 1359.5,2860.8 1360.5,2859.9 1361.5,2858.2 1361.9,2857.8 1362.5,2859.4 1363.5,2860.2 1363.8,2859.8 1364.5,2860.3 1365.5,2859.7 1366.5,2859.3 1366.8,2859 1367.5,2858.6 1368.5,2857.9 1369.5,2857.5 1369.7,2857.7 1370.5,2855.4 1371.5,2854.6 1372.5,2853 1372.6,2852 1373.5,2851.2 1374.5,2850.9 1375.5,2850.6 1375.6,2850.9 1376.5,2848.8 1377.5,2846.6 1377.5,2846.7 1378.5,2839.6 1379.1,2834.8 1379.5,2832.5 1380,2831 1380.5,2816.1 1381.5,2785.9 1382,2772.5 1382.5,2740.7 1383.3,2694.8 1383.5,2689 1384.5,2657.9 1385.5,2726.7 1385.9,2752.5 1386.5,2790.5 1386.8,2810.9 1387.5,2817.8 1387.8,2819.7 1388.5,2819.7 1389.5,2819.6 1390.2,2819.9 1390.5,2823.1 1391.5,2834.2 1391.7,2837 1392.5,2842.6 1393.3,2848 1393.5,2847.5 1394.5,2843.3 1394.7,2843.1 1395.5,2849.8 1396,2854.3 1396.5,2855.5 1397.5,2856.7 1397.6,2856.4 1398.5,2832.4 1398.6,2830.5 1399.5,2826.6 1399.5,2826.3 1400.5,2840 1400.9,2846.4 1401.5,2853.4 1401.9,2858 1402.5,2857.9 1403.5,2857.5 1404.4,2857.7 1404.5,2857.3 1405.5,2855.1 1406.4,2854.7 1406.5,2854.1 1407.5,2855.1 1408.5,2857.3 1408.9,2856.7 1409.5,2856.1 1410.5,2854.2 1411.3,2852.4 1411.5,2853.2 1412.5,2855.5 1413.2,2857.4 1413.5,2856.9 1414.5,2856.9 1415.2,2857.4 1415.5,2855.9 1416.5,2853.4 1417.5,2851.6 1417.5,2851 1418.5,2854 1419.5,2856.4 1420.1,2857.5 1420.5,2857.7 1421.5,2858.3 1422.5,2858.4 1423,2857.7 1423.5,2844 1424,2831.5 1424.5,2804.5 1424.8,2791.4 1425.3,2778.5 1425.5,2784.4 1426.5,2820.7 1426.5,2821.3 1427.5,2856.5 1427.5,2856.4 1428.5,2856.9 1429.5,2857 1429.8,2857.6 1430.5,2856.9 1431.5,2855.5 1432.4,2854.4 1432.5,2853.2 1433.5,2849.7 1434.3,2845 1434.5,2846.6 1435.5,2851.4 1436.3,2856.8 1436.5,2856.6 1437.5,2855.7 1438.5,2854.1 1438.6,2854.8 1439.5,2841.3 1440.2,2830.8 1440.5,2827.6 1441.2,2819.5 1441.5,2826.1 1442.5,2849.6 1442.5,2851 1443.5,2856.5 1443.7,2857.1 1444.5,2857 1445.5,2856.1 1446.5,2855.9 1446.5,2855.7 1447.5,2854.4 1448.5,2854.1 1449.4,2853.9 1449.5,2853.8 1450.5,2853.2 1451.5,2852.2 1452.3,2851.7 1452.5,2849.4 1453.5,2835.6 1453.9,2831.2 1454.5,2810.1 1455,2791.5 1455.5,2786 1456,2779.8 1456.5,2796.3 1457.2,2821.5 1457.5,2832.3 1458.2,2856.4 1458.5,2855.1 1459.5,2852.6 1460.1,2850.4 1460.5,2843.4 1461.5,2824.5 1461.7,2821.4 1462.5,2811.6 1462.9,2806.9 1463.5,2816.5 1464.4,2830.7 1464.5,2832.2 1465.5,2847.3 1465.6,2848.2 1466.5,2850.4 1467.5,2852.7 1467.6,2852.5 1468.5,2854.3 1468.9,2855.4 1469.5,2847.7 1470.3,2837.1 1470.5,2838.5 1471.5,2848.6 1471.9,2852.4 1472.5,2848.2 1473.4,2842.5 1473.5,2843 1474.5,2839.5 1475,2838.7 1475.5,2843.2 1476.5,2850.5 1476.7,2852.4 1477.5,2852.4 1478.5,2853.4 1478.7,2853.1 1479.5,2852.5 1480.5,2850.8 1480.7,2850 1481.5,2841.5 1482,2836.2 1482.5,2842 1483.5,2851.1 1483.6,2852.4 1484.5,2845.4 1485.2,2840.1 1485.5,2825.5 1486.3,2792.1 1486.5,2789.4 1487.3,2776.3 1487.5,2783.8 1488.5,2821.6 1488.5,2821.7 1489.5,2850.1 1489.5,2850.4 1490.5,2851.4 1491.5,2852.2 1492.4,2852.3 1492.5,2852.5 1493.5,2851.2 1494.5,2850.4 1495.3,2849.2 1495.5,2849.5 1496.5,2849.6 1497.5,2849.9 1498.2,2849.3 1498.5,2849.1 1499.5,2850.7 1500.5,2851.1 1501.2,2851.5 1501.5,2851.6 1502.5,2851.3 1503.5,2852.5 1504.1,2852.8 1504.5,2852 1505.5,2850.7 1506.5,2850.3 1507,2849.6 1507.5,2844.5 1508.5,2832.5 1508.6,2830.4 1509.5,2821.5 1510,2816.5 1510.5,2826.6 1511.3,2840.5 1511.5,2841.4 1512.5,2848.4 1512.9,2850.2 1513.5,2851.1 1514.5,2851.4 1515.5,2851.7 1515.8,2851.1 1516.5,2850.6 1517.5,2849.3 1518.5,2848.4 1518.8,2849.1 1519.5,2848.1 1520.5,2847.5 1520.7,2847.5 1521.5,2842.6 1522.3,2836.4 1522.5,2838.7 1523.5,2845.4 1524.2,2850.2 1524.5,2848.5 1525.5,2843.2 1526.2,2839.2 1526.5,2834.8 1527.5,2822.8 1527.6,2822.1 1528.5,2830.5 1529.5,2840.8 1529.5,2841 1530.5,2848 1530.9,2850 1531.5,2845.6 1532.5,2839.6 1532.8,2837.3 1533.5,2831.9 1534.4,2825.7 1534.5,2826.9 1535.5,2839 1536.3,2848.6 1536.5,2848.5 1537.5,2847.8 1538.5,2847.8 1538.7,2847.6 1539.5,2842.5 1540.3,2836.7 1540.5,2835 1541.2,2830.7 1541.5,2820.2 1542.2,2791.7 1542.5,2781.8 1543,2764.6 1543.5,2762 1543.8,2761.1 1544.5,2798.4 1544.8,2811.6 1545.5,2839.4 1545.7,2849 1546.5,2847 1547.5,2845.1 1547.7,2845.1 1548.5,2842 1549,2841 1549.5,2834.4 1550.4,2820.9 1550.5,2820.4 1551.5,2808.9 1551.6,2808.2 1552.5,2814.6 1553,2816.9 1553.5,2824.7 1554.3,2836.9 1554.5,2837.6 1555.5,2839.2 1555.9,2841 1556.5,2838.8 1557.5,2835.6 1558.5,2832.4 1558.8,2830.9 1559.5,2834.1 1560.5,2839 1560.8,2840.3 1561.5,2842.8 1562.5,2845.2 1562.7,2845.3 1563.5,2841.9 1564.5,2838.6 1565.3,2834.9 1565.5,2833.8 1566.5,2829.9 1566.6,2829.3 1567.5,2822.7 1568.2,2818 1568.5,2821.7 1569.5,2831.3 1570,2836.3 1570.5,2837.3 1571.5,2838.5 1572.5,2841.1 1572.5,2840.7 1573.5,2837.1 1574.5,2832.8 1575,2831.3 1575.5,2832.2 1576.5,2837 1577.4,2840.5 1577.5,2839.5 1578.5,2830.2 1579.3,2822.9 1579.5,2821.4 1580.5,2813.6 1580.7,2811.1 1581.5,2803.6 1582.1,2798.2 1582.5,2804 1583.5,2818.9 1583.7,2821.4 1584.5,2830.1 1585.2,2839.1 1585.5,2837.1 1586.5,2831.7 1587.2,2828.6 1587.5,2827.8 1588.5,2826.2 1589.5,2823.8 1589.5,2824.1 1590.5,2833.7 1591.5,2842.1 1591.5,2842.2 1592.5,2836.9 1593.4,2831.3 1593.5,2829.6 1594.5,2813.9 1595,2805.7 1595.5,2813 1596.5,2825.8 1596.5,2827.5 1597.5,2831.8 1598.5,2836.7 1599.5,2825.8 1599.9,2820.8 1600.5,2802.1 1600.8,2791.1 1601.5,2775.7 1601.6,2772.4 1602.5,2801.2 1602.8,2810.8 1603.5,2826.5 1604,2836.1 1604.5,2835 1605.5,2833.7 1605.7,2832.9 1606.5,2830.9 1607.5,2827.4 1608.3,2825 1608.5,2826.2 1609.5,2828.6 1610.5,2833 1610.6,2832.3 1611.5,2830.3 1612.5,2828.4 1613.5,2825.4 1613.5,2825.4 1614.5,2826.6 1615.5,2828.9 1616.5,2830.7 1616.5,2830.7 1617.5,2830.6 1618.4,2831.1 1618.5,2830.2 1619.4,2811 1619.5,2811 1620.5,2799.7 1621,2794.7 1621.5,2799.5 1622.3,2807.7 1622.5,2806.9 1623.5,2805.7 1623.9,2804.2 1624.5,2810.1 1625.5,2819.7 1625.9,2823.3 1626.5,2823.5 1627.5,2825 1627.8,2824.7 1628.5,2822.5 1629.5,2817.4 1629.8,2816.2 1630.5,2817.5 1631.5,2818.6 1632.1,2820.3 1632.5,2822.5 1633.5,2830.6 1634.1,2834.9 1634.5,2828.9 1635.5,2813.5 1635.6,2811.7 1636.5,2796.2 1637,2787.4 1637.5,2794.2 1638.5,2810.1 1638.6,2811.1 1639.5,2807.6 1639.9,2805.5 1640.5,2811.9 1641.5,2823 1642.5,2825.9 1643.5,2828.1 1643.8,2828.5 1644.5,2827.5 1645.5,2824.2 1645.8,2822.6 1646.5,2816.9 1647.5,2806.4 1647.8,2804.2 1648.5,2812.9 1649.5,2822.6 1649.7,2824.5 1650.5,2825.9 1651.5,2827 1652,2827.3 1652.5,2820.4 1653.5,2806.6 1653.6,2805.2 1654.5,2795.2 1654.6,2793.3 1655.5,2806 1656,2811.4 1656.5,2818.4 1657.5,2832.6 1657.5,2833.1 1658.5,2829.4 1659.5,2826.9 1659.5,2826.5 1660,2826.6 1660.5,2809.1 1661,2791.4 1661.5,2783.1 1662,2774.4 1662.5,2791.4 1663.1,2811.1 1663.5,2816.5 1664.3,2829.1 1664.5,2818.8 1665.5,2772 1665.5,2771 1666.5,2742.6 1666.8,2731.9 1667.5,2772.8 1667.8,2792.1 1668.5,2805.2 1668.8,2810.8 1669.5,2804.5 1670.5,2793.8 1670.8,2791.8 1671.5,2776.8 1672.5,2756.4 1672.7,2752.7 1673.5,2747.4 1674.5,2741.1 1674.7,2739.7 1675.5,2754.1 1676.5,2770.6 1676.6,2772.3 1677.5,2795.1 1678,2807.7 1678.5,2811.5 1679.5,2821.2 1679.5,2820.7 1680.5,2823.3 1680.5,2823.6 1681.5,2810.5 1681.9,2804.9 1682.5,2813.1 1683.5,2824.7 1683.5,2825.2 1684.5,2825 1685.4,2826.5 1685.5,2825.8 1686.5,2823.6 1687.5,2823 1688.3,2820.5 1688.5,2817.1 1689.5,2796.7 1689.7,2791.5 1690.5,2780.2 1691.3,2768.1 1691.5,2771.1 1692.5,2782.3 1692.8,2786.1 1693.5,2794.7 1694.2,2803 1694.5,2802 1695.5,2795.5 1695.6,2796 1696.5,2805.5 1697.1,2811.7 1697.5,2810.5 1698.5,2808.4 1699.1,2807.8 1699.5,2810 1700.5,2815.9 1700.7,2817.2 1701.5,2813.1 1702,2810.8 1702.5,2813.8 1703.5,2819.8 1704,2822.6 1704.5,2825.7 1705.3,2830.3 1705.5,2828.9 1706.5,2816.8 1706.9,2811.6 1707.5,2804.9 1707.9,2800.3 1708.5,2809.7 1709.2,2821.5 1709.5,2820.2 1710.5,2817.9 1710.8,2817.6 1711.5,2817.1 1712.4,2816.8 1712.5,2817.2 1713.5,2819.6 1714.5,2822.2 1714.7,2822.8 1715.5,2824.9 1716.5,2826.4 1717.1,2827.2 1717.5,2823.8 1718.5,2816.1 1718.6,2815.6 1719.5,2812 1720,2809.1 1720.5,2813.9 1721.5,2822.8 1721.6,2823 1722.5,2827.5 1722.9,2828.7 1723.5,2826.9 1724.5,2821.5 1725.5,2817.1 1725.5,2817.4 1726.5,2822.4 1727.4,2827.8 1727.5,2827.5 1728.5,2815.3 1728.8,2811.8 1729.5,2803.9 1729.8,2801 1730.5,2810.5 1731.3,2821.7 1731.5,2822.9 1732.3,2828.8 1732.5,2828.2 1733.5,2825.8 1734.5,2823.6 1735.2,2821.7 1735.5,2820.7 1736.5,2818.7 1737.2,2817.7 1737.5,2809.6 1738.2,2791.4 1738.5,2784.4 1739.2,2770.3 1739.5,2765.7 1740.5,2753.2 1740.5,2753.1 1741.5,2743.7 1741.7,2742.5 1742.5,2759.4 1743.1,2771.7 1743.5,2789.3 1744,2811.1 1744.5,2816.6 1745.4,2827.1 1745.5,2826.7 1746.5,2820 1747.5,2813 1747.6,2812.3 1748.5,2819.4 1749.5,2826.9 1749.5,2827 1750.5,2826.2 1751.5,2825.7 1751.5,2826.1 1752.5,2817.7 1753.4,2810.9 1753.5,2810.9 1754.5,2804.2 1755,2800 1755.5,2805.3 1756.5,2814.8 1756.7,2817.2 1757.5,2820.2 1758.5,2825.1 1758.7,2826 1759.5,2823.9 1760.1,2822.9 1760.5,2819.5 1761.5,2812.3 1761.6,2810.9 1762.5,2818.1 1763.5,2825.1 1763.6,2825.5 1764.5,2825.1 1765.5,2825.5 1766.5,2825.5 1766.5,2825.2 1767.5,2822.5 1768.5,2820.6 1768.5,2820.6 1769.5,2801.8 1769.5,2801.1 1770.4,2788.2 1770.5,2787.3 1771.5,2783.3 1771.8,2782.4 1772.5,2789.3 1773.3,2797.2 1773.5,2798.1 1774.5,2805 1775.3,2810 1775.5,2810.5 1776.5,2814.3 1777.3,2817.6 1777.5,2816.3 1778.5,2811.2 1779.2,2807.2 1779.5,2809.2 1780.5,2815.5 1781.2,2818.7 1781.5,2820.1 1782.5,2822.2 1783.1,2823.6 1783.5,2823.7 1784.5,2826.1 1785.1,2826.4 1785.5,2827.8 1786.5,2830.1 1786.6,2831.1 1787.5,2825.1 1788,2821.5 1788.5,2817.8 1789.4,2812.1 1789.5,2812.6 1790.5,2818.7 1791.3,2822.6 1791.5,2823.9 1792.5,2825.1 1792.9,2825.6 1793.5,2823.9 1794.5,2821.6 1794.8,2821.2 1795.5,2823.1 1796.5,2824.9 1796.8,2825.7 1797.5,2825.9 1798.5,2826.4 1799.2,2826.4 1799.5,2826.6 1800.5,2828.2 1801.5,2830 1801.7,2831 1802.5,2831.1 1803.5,2833.1 1803.7,2832.4 1804.5,2826.8 1805.5,2818.5 1805.6,2818.1 1806.5,2825.1 1807.5,2831.9 1807.6,2833.4 1808.5,2834.2 1809.5,2835.6 1809.5,2835.9 1810.5,2834.1 1811.5,2832.7 1812.4,2831.2 1812.5,2831.3 1813.5,2829.2 1814.5,2828.3 1814.8,2828.4 1815.5,2828.5 1816.5,2829.4 1817.3,2830 1817.5,2828.8 1818.5,2826.1 1819.3,2822.8 1819.5,2822.9 1820.5,2820.2 1821.2,2818.6 1821.5,2817.6 1822.5,2813.9 1823.2,2811.8 1823.5,2810.3 1824.5,2804.2 1825.2,2801 1825.5,2800.7 1826.5,2800.5 1827.1,2800 1827.5,2802.7 1828.5,2808.6 1829,2811.4 1829.5,2814.1 1830.4,2819.5 1830.5,2815.5 1831.5,2776.5 1831.6,2772 1832.5,2743.1 1833,2728.3 1833.5,2745.9 1834.3,2772.3 1834.5,2779.1 1835.5,2820.4 1836.5,2831.1 1836.5,2830.3 1837.5,2828 1838.2,2825 1838.5,2825.2 1839.5,2828.3 1839.8,2829.4 1840.5,2830.3 1841.5,2831.7 1841.8,2832.7 1842.5,2833.1 1843.5,2834.1 1844.5,2834.4 1844.7,2835.3 1845.5,2834.6 1846.5,2833.6 1847.5,2833.3 1848.5,2833.3 1848.6,2833 1849.5,2833.9 1850.5,2834.5 1851.5,2836 1851.5,2835.4 1852.5,2834.2 1853.5,2831.8 1853.5,2831.4 1854.5,2832.6 1855.5,2833.2 1856.5,2833.8 1857.4,2833.7 1857.5,2833.3 1858.5,2831.5 1859.5,2830 1860.3,2827.5 1860.5,2828.3 1861.5,2829.4 1862.5,2830.1 1863.3,2830.9 1863.5,2830.5 1864.5,2826.4 1865.2,2822.5 1865.5,2820.2 1866.5,2809.7 1866.8,2807.9 1867.5,2803.8 1868.1,2801.1 1868.5,2803.8 1869.5,2810.6 1870.1,2815.5 1870.5,2816 1871.5,2815.5 1872,2816.7 1872.5,2817.4 1873.5,2820.7 1874,2823.4 1874.5,2822.8 1875.5,2821.9 1876,2821.2 1876.5,2823.6 1877.5,2827.9 1877.9,2828.9 1878.5,2826 1879.5,2823.1 1879.9,2821.4 1880.5,2819.1 1881.5,2815.1 1881.8,2814.7 1882.5,2813.8 1883.5,2813.4 1883.8,2813.4 1884.5,2813.4 1885.5,2813.5 1885.7,2813.1 1886.5,2817.1 1887.5,2821.7 1887.7,2823.3 1888.5,2826.4 1889.5,2831 1890.2,2833.5 1890.5,2833.5 1891.5,2832.9 1892.5,2833.1 1892.6,2833.3 1893.5,2828.3 1894.5,2824 1894.5,2824.3 1895.5,2827.9 1896.5,2832.4 1896.5,2832.9 1897.5,2832.5 1898.5,2832.4 1899.4,2832.6 1899.5,2832.5 1900.5,2834.5 1901.5,2835.3 1902.3,2836.5 1902.5,2836.9 1903.5,2837.8 1904.5,2839.2 1905.3,2841.2 1905.5,2840.2 1906.5,2840.1 1907.5,2839.4 1908.2,2838.2 1908.5,2838.4 1909.5,2838.2 1910.5,2837.8 1911.1,2837.8 1911.5,2837.2 1912.5,2836.1 1913.1,2835.9 1913.5,2836.7 1914.5,2837.6 1915.5,2839.4 1916,2840.3 1916.5,2840.3 1917.5,2841.4 1918.5,2841.2 1919.5,2841.2 1919.9,2842 1920.5,2841.7 1921.5,2839.5 1922.5,2838.6 1923.5,2838.3 1923.8,2837.4 1924.5,2837.4 1925.5,2837.6 1926.5,2838.9 1927.5,2838.1 1927.8,2839.3 1928.5,2838.4 1929.5,2838.1 1930.5,2837.8 1931.5,2837.7 1931.7,2838.1 1932.5,2838.4 1933.5,2840.4 1933.6,2840.1 1934.5,2842.8 1935.5,2845.5 1935.6,2846 1936.5,2842 1937.5,2839 1937.5,2839.2 1938.5,2835.6 1939.5,2833.2 1939.5,2832.9 1940.5,2831.3 1941.5,2829.9 1942.4,2828.4 1942.5,2828 1943.5,2819.1 1944.4,2811.7 1944.5,2809.7 1945.5,2795.2 1945.7,2792 1946.5,2790.2 1946.9,2789.4 1947.5,2799.4 1948.3,2811.7 1948.5,2815.1 1949.5,2829 1949.6,2831.4 1950.5,2835 1951.2,2838.5 1951.5,2839.3 1952.5,2840.3 1953.5,2841.3 1954.1,2841.6 1954.5,2841.9 1954.8,2842.3 1955.5,2842.2 1956.5,2841.4 1957.1,2842 1957.5,2841.9 1957.7,2842 1958.5,2841.8 1959.5,2841.5 1960.5,2841.5 1960.6,2841.2 1961.5,2842.9 1962.5,2845 1963,2846.3 1963.5,2845.2 1964.5,2843.4 1964.9,2842.6 1965.5,2841.3 1966.5,2838.9 1966.5,2839.2 1967.5,2843.2 1968.4,2846.7 1968.5,2846 1969.5,2846.7 1970.4,2847.6 1970.5,2846.9 1971.5,2846.2 1972.5,2844.6 1973.3,2843.4 1973.5,2843.1 1974.5,2843.4 1975.5,2842.6 1976.3,2842.9 1976.5,2841.6 1977.5,2839.6 1978.2,2838.6 1978.5,2837.5 1979.5,2833.9 1980.2,2830.9 1980.5,2829.1 1981.5,2823.6 1982.1,2821.7 1982.5,2820 1983.5,2817 1984.1,2815.5 1984.5,2814.8 1985.5,2814 1986,2813.9 1986.5,2812.8 1987.5,2810.9 1987.6,2810 1988.5,2814.5 1989,2817.2 1989.5,2820.5 1990.3,2826.6 1990.5,2827.6 1991.5,2831.1 1991.9,2831.7 1992.5,2832.7 1993.5,2833.4 1994.2,2834.7 1994.5,2835.2 1995.5,2834.4 1996.5,2834.7 1996.8,2833.8 1997.5,2835.4 1998.5,2835.9 1998.7,2836 1999.5,2839 2000.5,2841.6 2000.7,2842.1 2001.5,2843.8 2002.5,2844.8 2002.6,2845.3 2003.5,2845.1 2004.5,2844.5 2005.5,2844.1 2005.6,2844.4 2006.5,2845.1 2007.5,2845.7 2008.5,2846.9 2008.5,2845.9 2009.5,2843.7 2010.5,2840.1 2010.5,2840.9 2011.5,2836.6 2012.4,2833 2012.5,2833 2013.5,2828.5 2014.4,2825.7 2014.5,2825.4 2015.5,2825.8 2016.3,2824.5 2016.5,2824.3 2017.5,2827 2018.3,2827.9 2018.5,2828.8 2019.5,2834.8 2020.2,2838.3 2020.5,2840 2021.5,2842.6 2022.2,2845.3 2022.5,2845.1 2023.5,2845.6 2024.1,2845.7 2024.5,2844.9 2025.5,2841.9 2026.1,2841.2 2026.5,2841.6 2027.5,2842.7 2028.5,2843.5 2029,2843.8 2029.5,2844.3 2030.5,2844.7 2031.5,2846.3 2032,2846.8 2032.5,2846.9 2033.5,2846.5 2034.5,2847 2034.9,2847.8 2035.5,2847.7 2036.5,2848.5 2037.5,2848.5 2037.8,2849 2038.5,2848.1 2039.5,2847.7 2040.5,2847.1 2040.8,2846.3 2041.5,2846.4 2042.5,2846.6 2043.5,2846.7 2043.7,2846.2 2044.5,2845.4 2045.5,2843.5 2045.6,2844 2046.5,2841.6 2047.2,2839.6 2047.5,2839.5 2048.2,2838.1" fill="none" stroke="#000000" stroke-width="3.2" stroke-linejoin="round" stroke-linecap="round"/>
<line x1="203.5" y1="96.1" x2="203.5" y2="657.9" stroke="#000" stroke-width="3.0"/>
<line x1="187" y1="656.4" x2="203.5" y2="656.4" stroke="#000" stroke-width="3.0"/>
<text transform="translate(178.2,671.2) scale(0.972,1)" text-anchor="end" class="tk">0</text>
<line x1="194.5" y1="600.5" x2="203.5" y2="600.5" stroke="#000" stroke-width="3.0"/>
<line x1="187" y1="544.6" x2="203.5" y2="544.6" stroke="#000" stroke-width="3.0"/>
<text transform="translate(178.2,559.4) scale(0.972,1)" text-anchor="end" class="tk">1</text>
<line x1="194.5" y1="488.8" x2="203.5" y2="488.8" stroke="#000" stroke-width="3.0"/>
<line x1="187" y1="432.9" x2="203.5" y2="432.9" stroke="#000" stroke-width="3.0"/>
<text transform="translate(178.2,447.7) scale(0.972,1)" text-anchor="end" class="tk">2</text>
<line x1="194.5" y1="377" x2="203.5" y2="377" stroke="#000" stroke-width="3.0"/>
<line x1="187" y1="321.1" x2="203.5" y2="321.1" stroke="#000" stroke-width="3.0"/>
<text transform="translate(178.2,335.9) scale(0.972,1)" text-anchor="end" class="tk">3</text>
<line x1="194.5" y1="265.2" x2="203.5" y2="265.2" stroke="#000" stroke-width="3.0"/>
<line x1="187" y1="209.4" x2="203.5" y2="209.4" stroke="#000" stroke-width="3.0"/>
<text transform="translate(178.2,224.2) scale(0.972,1)" text-anchor="end" class="tk">4</text>
<line x1="194.5" y1="153.5" x2="203.5" y2="153.5" stroke="#000" stroke-width="3.0"/>
<line x1="187" y1="97.6" x2="203.5" y2="97.6" stroke="#000" stroke-width="3.0"/>
<text transform="translate(178.2,112.4) scale(0.972,1)" text-anchor="end" class="tk">5</text>
<line x1="204.3" y1="735.4" x2="204.3" y2="1297" stroke="#000" stroke-width="3.0"/>
<line x1="187.8" y1="1285.4" x2="204.3" y2="1285.4" stroke="#000" stroke-width="3.0"/>
<text transform="translate(178.2,1300.7) scale(0.972,1)" text-anchor="end" class="tk">0</text>
<line x1="195.3" y1="1230.6" x2="204.3" y2="1230.6" stroke="#000" stroke-width="3.0"/>
<line x1="187.8" y1="1175.7" x2="204.3" y2="1175.7" stroke="#000" stroke-width="3.0"/>
<text transform="translate(178.2,1191) scale(0.972,1)" text-anchor="end" class="tk">1</text>
<line x1="195.3" y1="1120.9" x2="204.3" y2="1120.9" stroke="#000" stroke-width="3.0"/>
<line x1="187.8" y1="1066" x2="204.3" y2="1066" stroke="#000" stroke-width="3.0"/>
<text transform="translate(178.2,1081.3) scale(0.972,1)" text-anchor="end" class="tk">2</text>
<line x1="195.3" y1="1011.2" x2="204.3" y2="1011.2" stroke="#000" stroke-width="3.0"/>
<line x1="187.8" y1="956.3" x2="204.3" y2="956.3" stroke="#000" stroke-width="3.0"/>
<text transform="translate(178.2,971.6) scale(0.972,1)" text-anchor="end" class="tk">3</text>
<line x1="195.3" y1="901.5" x2="204.3" y2="901.5" stroke="#000" stroke-width="3.0"/>
<line x1="187.8" y1="846.6" x2="204.3" y2="846.6" stroke="#000" stroke-width="3.0"/>
<text transform="translate(178.2,861.9) scale(0.972,1)" text-anchor="end" class="tk">4</text>
<line x1="195.3" y1="791.8" x2="204.3" y2="791.8" stroke="#000" stroke-width="3.0"/>
<line x1="187.8" y1="736.9" x2="204.3" y2="736.9" stroke="#000" stroke-width="3.0"/>
<text transform="translate(178.2,752.2) scale(0.972,1)" text-anchor="end" class="tk">5</text>
<line x1="202" y1="1297" x2="2070.1" y2="1297" stroke="#000" stroke-width="3.0"/>
<line x1="283.5" y1="1297" x2="283.5" y2="1313" stroke="#000" stroke-width="3.0"/>
<text transform="translate(283.5,1361) scale(0.972,1)" text-anchor="middle" class="tk">10</text>
<line x1="382.7" y1="1297" x2="382.7" y2="1305.5" stroke="#000" stroke-width="3.0"/>
<line x1="481.8" y1="1297" x2="481.8" y2="1313" stroke="#000" stroke-width="3.0"/>
<text transform="translate(481.8,1361) scale(0.972,1)" text-anchor="middle" class="tk">15</text>
<line x1="581" y1="1297" x2="581" y2="1305.5" stroke="#000" stroke-width="3.0"/>
<line x1="680.2" y1="1297" x2="680.2" y2="1313" stroke="#000" stroke-width="3.0"/>
<text transform="translate(680.2,1361) scale(0.972,1)" text-anchor="middle" class="tk">20</text>
<line x1="779.4" y1="1297" x2="779.4" y2="1305.5" stroke="#000" stroke-width="3.0"/>
<line x1="878.5" y1="1297" x2="878.5" y2="1313" stroke="#000" stroke-width="3.0"/>
<text transform="translate(878.5,1361) scale(0.972,1)" text-anchor="middle" class="tk">25</text>
<line x1="977.7" y1="1297" x2="977.7" y2="1305.5" stroke="#000" stroke-width="3.0"/>
<line x1="1076.9" y1="1297" x2="1076.9" y2="1313" stroke="#000" stroke-width="3.0"/>
<text transform="translate(1076.9,1361) scale(0.972,1)" text-anchor="middle" class="tk">30</text>
<line x1="1176" y1="1297" x2="1176" y2="1305.5" stroke="#000" stroke-width="3.0"/>
<line x1="1275.2" y1="1297" x2="1275.2" y2="1313" stroke="#000" stroke-width="3.0"/>
<text transform="translate(1275.2,1361) scale(0.972,1)" text-anchor="middle" class="tk">35</text>
<line x1="1374.4" y1="1297" x2="1374.4" y2="1305.5" stroke="#000" stroke-width="3.0"/>
<line x1="1473.6" y1="1297" x2="1473.6" y2="1313" stroke="#000" stroke-width="3.0"/>
<text transform="translate(1473.6,1361) scale(0.972,1)" text-anchor="middle" class="tk">40</text>
<line x1="1572.7" y1="1297" x2="1572.7" y2="1305.5" stroke="#000" stroke-width="3.0"/>
<line x1="1671.9" y1="1297" x2="1671.9" y2="1313" stroke="#000" stroke-width="3.0"/>
<text transform="translate(1671.9,1361) scale(0.972,1)" text-anchor="middle" class="tk">45</text>
<line x1="1771.1" y1="1297" x2="1771.1" y2="1305.5" stroke="#000" stroke-width="3.0"/>
<line x1="1870.3" y1="1297" x2="1870.3" y2="1313" stroke="#000" stroke-width="3.0"/>
<text transform="translate(1870.3,1361) scale(0.972,1)" text-anchor="middle" class="tk">50</text>
<line x1="1969.4" y1="1297" x2="1969.4" y2="1305.5" stroke="#000" stroke-width="3.0"/>
<line x1="2068.6" y1="1297" x2="2068.6" y2="1313" stroke="#000" stroke-width="3.0"/>
<text transform="translate(2068.6,1361) scale(0.972,1)" text-anchor="middle" class="tk">55</text>
<line x1="202.8" y1="1649" x2="202.8" y2="2212.7" stroke="#000" stroke-width="3.0"/>
<line x1="186.3" y1="2211.2" x2="202.8" y2="2211.2" stroke="#000" stroke-width="3.0"/>
<text transform="translate(148.5,2222) scale(0.972,1)" text-anchor="end" class="tk">0</text>
<line x1="193.8" y1="2155.1" x2="202.8" y2="2155.1" stroke="#000" stroke-width="3.0"/>
<line x1="186.3" y1="2099.1" x2="202.8" y2="2099.1" stroke="#000" stroke-width="3.0"/>
<text transform="translate(148.5,2109.9) scale(0.972,1)" text-anchor="end" class="tk">1</text>
<line x1="193.8" y1="2043" x2="202.8" y2="2043" stroke="#000" stroke-width="3.0"/>
<line x1="186.3" y1="1986.9" x2="202.8" y2="1986.9" stroke="#000" stroke-width="3.0"/>
<text transform="translate(148.5,1997.7) scale(0.972,1)" text-anchor="end" class="tk">2</text>
<line x1="193.8" y1="1930.8" x2="202.8" y2="1930.8" stroke="#000" stroke-width="3.0"/>
<line x1="186.3" y1="1874.8" x2="202.8" y2="1874.8" stroke="#000" stroke-width="3.0"/>
<text transform="translate(148.5,1885.6) scale(0.972,1)" text-anchor="end" class="tk">3</text>
<line x1="193.8" y1="1818.7" x2="202.8" y2="1818.7" stroke="#000" stroke-width="3.0"/>
<line x1="186.3" y1="1762.6" x2="202.8" y2="1762.6" stroke="#000" stroke-width="3.0"/>
<text transform="translate(148.5,1773.4) scale(0.972,1)" text-anchor="end" class="tk">4</text>
<line x1="193.8" y1="1706.6" x2="202.8" y2="1706.6" stroke="#000" stroke-width="3.0"/>
<line x1="186.3" y1="1650.5" x2="202.8" y2="1650.5" stroke="#000" stroke-width="3.0"/>
<text transform="translate(148.5,1661.3) scale(0.972,1)" text-anchor="end" class="tk">5</text>
<line x1="202.8" y1="2318.7" x2="202.8" y2="2880.3" stroke="#000" stroke-width="3.0"/>
<line x1="186.3" y1="2869.2" x2="202.8" y2="2869.2" stroke="#000" stroke-width="3.0"/>
<text transform="translate(148.5,2894.2) scale(0.972,1)" text-anchor="end" class="tk">0</text>
<line x1="193.8" y1="2814.3" x2="202.8" y2="2814.3" stroke="#000" stroke-width="3.0"/>
<line x1="186.3" y1="2759.4" x2="202.8" y2="2759.4" stroke="#000" stroke-width="3.0"/>
<text transform="translate(148.5,2784.4) scale(0.972,1)" text-anchor="end" class="tk">1</text>
<line x1="193.8" y1="2704.5" x2="202.8" y2="2704.5" stroke="#000" stroke-width="3.0"/>
<line x1="186.3" y1="2649.6" x2="202.8" y2="2649.6" stroke="#000" stroke-width="3.0"/>
<text transform="translate(148.5,2674.6) scale(0.972,1)" text-anchor="end" class="tk">2</text>
<line x1="193.8" y1="2594.7" x2="202.8" y2="2594.7" stroke="#000" stroke-width="3.0"/>
<line x1="186.3" y1="2539.8" x2="202.8" y2="2539.8" stroke="#000" stroke-width="3.0"/>
<text transform="translate(148.5,2564.8) scale(0.972,1)" text-anchor="end" class="tk">3</text>
<line x1="193.8" y1="2484.9" x2="202.8" y2="2484.9" stroke="#000" stroke-width="3.0"/>
<line x1="186.3" y1="2430" x2="202.8" y2="2430" stroke="#000" stroke-width="3.0"/>
<text transform="translate(148.5,2455) scale(0.972,1)" text-anchor="end" class="tk">4</text>
<line x1="193.8" y1="2375.1" x2="202.8" y2="2375.1" stroke="#000" stroke-width="3.0"/>
<line x1="186.3" y1="2320.2" x2="202.8" y2="2320.2" stroke="#000" stroke-width="3.0"/>
<text transform="translate(148.5,2345.2) scale(0.972,1)" text-anchor="end" class="tk">5</text>
<line x1="201.5" y1="2880.3" x2="2050.1" y2="2880.3" stroke="#000" stroke-width="3.0"/>
<line x1="281.2" y1="2880.3" x2="281.2" y2="2896.3" stroke="#000" stroke-width="3.0"/>
<text transform="translate(281.2,2944.3) scale(0.972,1)" text-anchor="middle" class="tk">10</text>
<line x1="379.4" y1="2880.3" x2="379.4" y2="2888.8" stroke="#000" stroke-width="3.0"/>
<line x1="477.6" y1="2880.3" x2="477.6" y2="2896.3" stroke="#000" stroke-width="3.0"/>
<text transform="translate(477.6,2944.3) scale(0.972,1)" text-anchor="middle" class="tk">15</text>
<line x1="575.8" y1="2880.3" x2="575.8" y2="2888.8" stroke="#000" stroke-width="3.0"/>
<line x1="674" y1="2880.3" x2="674" y2="2896.3" stroke="#000" stroke-width="3.0"/>
<text transform="translate(674,2944.3) scale(0.972,1)" text-anchor="middle" class="tk">20</text>
<line x1="772.1" y1="2880.3" x2="772.1" y2="2888.8" stroke="#000" stroke-width="3.0"/>
<line x1="870.3" y1="2880.3" x2="870.3" y2="2896.3" stroke="#000" stroke-width="3.0"/>
<text transform="translate(870.3,2944.3) scale(0.972,1)" text-anchor="middle" class="tk">25</text>
<line x1="968.5" y1="2880.3" x2="968.5" y2="2888.8" stroke="#000" stroke-width="3.0"/>
<line x1="1066.7" y1="2880.3" x2="1066.7" y2="2896.3" stroke="#000" stroke-width="3.0"/>
<text transform="translate(1066.7,2944.3) scale(0.972,1)" text-anchor="middle" class="tk">30</text>
<line x1="1164.9" y1="2880.3" x2="1164.9" y2="2888.8" stroke="#000" stroke-width="3.0"/>
<line x1="1263.1" y1="2880.3" x2="1263.1" y2="2896.3" stroke="#000" stroke-width="3.0"/>
<text transform="translate(1263.1,2944.3) scale(0.972,1)" text-anchor="middle" class="tk">35</text>
<line x1="1361.3" y1="2880.3" x2="1361.3" y2="2888.8" stroke="#000" stroke-width="3.0"/>
<line x1="1459.5" y1="2880.3" x2="1459.5" y2="2896.3" stroke="#000" stroke-width="3.0"/>
<text transform="translate(1459.5,2944.3) scale(0.972,1)" text-anchor="middle" class="tk">40</text>
<line x1="1557.7" y1="2880.3" x2="1557.7" y2="2888.8" stroke="#000" stroke-width="3.0"/>
<line x1="1655.8" y1="2880.3" x2="1655.8" y2="2896.3" stroke="#000" stroke-width="3.0"/>
<text transform="translate(1655.8,2944.3) scale(0.972,1)" text-anchor="middle" class="tk">45</text>
<line x1="1754" y1="2880.3" x2="1754" y2="2888.8" stroke="#000" stroke-width="3.0"/>
<line x1="1852.2" y1="2880.3" x2="1852.2" y2="2896.3" stroke="#000" stroke-width="3.0"/>
<text transform="translate(1852.2,2944.3) scale(0.972,1)" text-anchor="middle" class="tk">50</text>
<line x1="1950.4" y1="2880.3" x2="1950.4" y2="2888.8" stroke="#000" stroke-width="3.0"/>
<line x1="2048.6" y1="2880.3" x2="2048.6" y2="2896.3" stroke="#000" stroke-width="3.0"/>
<text transform="translate(2048.6,2944.3) scale(0.972,1)" text-anchor="middle" class="tk">55</text>
<text x="1136.5" y="1451.7" text-anchor="middle" class="ti">Time/min</text>
<text x="1126" y="3034.7" text-anchor="middle" class="ti">Time/min</text>
<text transform="translate(95.3,827) rotate(-90)" class="ti">Abundance/10<tspan dy="-26" font-size="35.5">7</tspan></text>
<text transform="translate(90.2,2400) rotate(-90)" class="ti">Abundance/10<tspan dy="-26" font-size="35.5">7</tspan></text>
<text x="49.5" y="182.5" class="pl">A</text>
<text x="42.5" y="1732.5" class="pl">B</text>
<rect x="1813.5" y="29.3" width="206.3" height="73" fill="#fff" stroke="#000" stroke-width="1.3"/>
<text x="1838.5" y="88.2" class="lg">Control</text>
<rect x="1885.4" y="728.2" width="136.1" height="73.4" fill="#fff" stroke="#000" stroke-width="1.3"/>
<text x="1907" y="787.3" class="lg">Topt</text>
<rect x="1733.5" y="1606.9" width="290.5" height="72.2" fill="#fff" stroke="#000" stroke-width="1.3"/>
<text x="1767.5" y="1664.6" class="lg">Uncrushed</text>
<rect x="1805.5" y="2346.2" width="215.3" height="64.2" fill="#fff" stroke="#000" stroke-width="1.3"/>
<clipPath id="cCrushed"><rect x="1805.5" y="2346.2" width="214.8" height="64.2"/></clipPath>
<text x="1836" y="2396" class="lg" clip-path="url(#cCrushed)">Crushed</text>
<text transform="translate(224.3,580.3) scale(0.925,1)" class="pk">1</text>
<text transform="translate(258.1,571.6) scale(0.925,1)" class="pk">2</text>
<text transform="translate(286.5,587.4) scale(0.925,1)" class="pk">3</text>
<text transform="translate(295.2,556.5) scale(0.925,1)" class="pk">4</text>
<text transform="translate(320.8,584.1) scale(0.925,1)" class="pk">5</text>
<text transform="translate(364.2,586.6) scale(0.925,1)" class="pk">6</text>
<text transform="translate(394.2,576.1) scale(0.925,1)" class="pk">7</text>
<text transform="translate(456.7,542.3) scale(0.925,1)" class="pk">8</text>
<text transform="translate(462.5,561.1) scale(0.925,1)" class="pk">9</text>
<text transform="translate(480.5,577.1) scale(0.925,1)" class="pk">10</text>
<text transform="translate(494.2,576.1) scale(0.925,1)" class="pk">11</text>
<text transform="translate(510.2,566.8) scale(0.925,1)" class="pk">13</text>
<text transform="translate(518.7,578) scale(0.925,1)" class="pk">14</text>
<text transform="translate(502,588.9) scale(0.925,1)" class="pk">12</text>
<text transform="translate(529.2,514.7) scale(0.925,1)" class="pk">15</text>
<text transform="translate(556.7,589.9) scale(0.925,1)" class="pk">16</text>
<text transform="translate(574.5,558.3) scale(0.925,1)" class="pk">17</text>
<text transform="translate(608,494.4) scale(0.925,1)" class="pk">18</text>
<text transform="translate(628,495.3) scale(0.925,1)" class="pk">19</text>
<text transform="translate(638.2,540.4) scale(0.925,1)" class="pk">21</text>
<text transform="translate(644.4,555.8) scale(0.925,1)" class="pk">22</text>
<text transform="translate(632.4,574.3) scale(0.925,1)" class="pk">20</text>
<text transform="translate(690.1,565.2) scale(0.925,1)" class="pk">23</text>
<text transform="translate(751,585.4) scale(0.925,1)" class="pk">24</text>
<text transform="translate(759.4,557.3) scale(0.925,1)" class="pk">25</text>
<text transform="translate(790.5,585.4) scale(0.925,1)" class="pk">26</text>
<text transform="translate(817.6,583.6) scale(0.925,1)" class="pk">27</text>
<text transform="translate(866.2,573.6) scale(0.925,1)" class="pk">28</text>
<text transform="translate(898.3,578.1) scale(0.925,1)" class="pk">29</text>
<text transform="translate(1054.7,547.3) scale(0.925,1)" class="pk">30</text>
<text transform="translate(1070,446.3) scale(0.925,1)" class="pk">31</text>
<text transform="translate(1074.3,526.5) scale(0.925,1)" class="pk">32</text>
<text transform="translate(1128.4,580.6) scale(0.925,1)" class="pk">33</text>
<text transform="translate(1561.8,503.4) scale(0.925,1)" class="pk">34</text>
<text transform="translate(1568.6,564.8) scale(0.925,1)" class="pk">35</text>
<text transform="translate(1619.9,430) scale(0.925,1)" class="pk">36</text>
<text transform="translate(1685.5,295.3) scale(0.925,1)" class="pk">37</text>
<text transform="translate(1761.7,285.2) scale(0.925,1)" class="pk">38</text>
<text transform="translate(1854,372.2) scale(0.925,1)" class="pk">39</text>
<text transform="translate(1968,408) scale(0.925,1)" class="pk">40</text>
<text transform="translate(229.6,1213.1) scale(0.925,1)" class="pk">2</text>
<text transform="translate(266.7,1209.8) scale(0.925,1)" class="pk">4</text>
<text transform="translate(259.1,1233.2) scale(0.925,1)" class="pk">3</text>
<text transform="translate(293.2,1229.9) scale(0.925,1)" class="pk">5</text>
<text transform="translate(336.6,1229.4) scale(0.925,1)" class="pk">6</text>
<text transform="translate(366.7,1223.6) scale(0.925,1)" class="pk">7</text>
<text transform="translate(429.1,1198.3) scale(0.925,1)" class="pk">8</text>
<text transform="translate(435.3,1210.5) scale(0.925,1)" class="pk">9</text>
<text transform="translate(453,1224.6) scale(0.925,1)" class="pk">10</text>
<text transform="translate(462,1226.5) scale(0.925,1)" class="pk">11</text>
<text transform="translate(474.2,1228.4) scale(0.925,1)" class="pk">12</text>
<text transform="translate(482.7,1219) scale(0.925,1)" class="pk">13</text>
<text transform="translate(491.5,1223.7) scale(0.925,1)" class="pk">14</text>
<text transform="translate(502.1,1177.2) scale(0.925,1)" class="pk">15</text>
<text transform="translate(529.5,1227.8) scale(0.925,1)" class="pk">16</text>
<text transform="translate(547.2,1202.6) scale(0.925,1)" class="pk">17</text>
<text transform="translate(581.6,1131.2) scale(0.925,1)" class="pk">18</text>
<text transform="translate(601.3,1141) scale(0.925,1)" class="pk">19</text>
<text transform="translate(612.4,1179.9) scale(0.925,1)" class="pk">21</text>
<text transform="translate(617.5,1197.3) scale(0.925,1)" class="pk">22</text>
<text transform="translate(604.9,1221.4) scale(0.925,1)" class="pk">20</text>
<text transform="translate(663.2,1214.3) scale(0.925,1)" class="pk">23</text>
<text transform="translate(724.1,1229.9) scale(0.925,1)" class="pk">24</text>
<text transform="translate(732.4,1204.8) scale(0.925,1)" class="pk">25</text>
<text transform="translate(764.7,1229.9) scale(0.925,1)" class="pk">26</text>
<text transform="translate(791,1228.1) scale(0.925,1)" class="pk">27</text>
<text transform="translate(839.6,1215.4) scale(0.925,1)" class="pk">28</text>
<text transform="translate(872,1214.4) scale(0.925,1)" class="pk">29</text>
<text transform="translate(1027.9,1209.1) scale(0.925,1)" class="pk">30</text>
<text transform="translate(1049,1209.1) scale(0.925,1)" class="pk">32</text>
<text transform="translate(1103.1,1226.1) scale(0.925,1)" class="pk">33</text>
<text transform="translate(1043.4,1088.9) scale(0.925,1)" class="pk">31</text>
<text transform="translate(1537.2,1164.7) scale(0.925,1)" class="pk">34</text>
<text transform="translate(1544.5,1200.6) scale(0.925,1)" class="pk">35</text>
<text transform="translate(1595.5,1106) scale(0.925,1)" class="pk">36</text>
<text transform="translate(1660.8,968.2) scale(0.925,1)" class="pk">37</text>
<text transform="translate(1737.6,949.3) scale(0.925,1)" class="pk">38</text>
<text transform="translate(1829.7,1027.1) scale(0.925,1)" class="pk">39</text>
<text transform="translate(1944.7,1064.3) scale(0.925,1)" class="pk">40</text>
<text transform="translate(216.3,2136.2) scale(0.925,1)" class="pk">1</text>
<text transform="translate(249.6,2093.6) scale(0.925,1)" class="pk">2</text>
<text transform="translate(276.9,2136.9) scale(0.925,1)" class="pk">3</text>
<text transform="translate(287,2052.2) scale(0.925,1)" class="pk">4</text>
<text transform="translate(311.5,2132.9) scale(0.925,1)" class="pk">5</text>
<text transform="translate(355.9,2153.7) scale(0.925,1)" class="pk">6</text>
<text transform="translate(385,2112.4) scale(0.925,1)" class="pk">7</text>
<text transform="translate(448.3,2013.3) scale(0.925,1)" class="pk">8</text>
<text transform="translate(454,2082.6) scale(0.925,1)" class="pk">9</text>
<text transform="translate(482,2113.1) scale(0.925,1)" class="pk">10</text>
<text transform="translate(489.6,2108.3) scale(0.925,1)" class="pk">11</text>
<text transform="translate(508.5,2071.1) scale(0.925,1)" class="pk">12</text>
<text transform="translate(538.8,2142.1) scale(0.925,1)" class="pk">13</text>
<text transform="translate(544,2122.8) scale(0.925,1)" class="pk">14</text>
<text transform="translate(564.7,2071.1) scale(0.925,1)" class="pk">15</text>
<text transform="translate(599.4,1878.3) scale(0.925,1)" class="pk">16</text>
<text transform="translate(618.1,1904.8) scale(0.925,1)" class="pk">17</text>
<text transform="translate(630.9,1986) scale(0.925,1)" class="pk">19</text>
<text transform="translate(634.2,2045.6) scale(0.925,1)" class="pk">20</text>
<text transform="translate(622,2111.1) scale(0.925,1)" class="pk">18</text>
<text transform="translate(678.4,2077.3) scale(0.925,1)" class="pk">21</text>
<text transform="translate(747.2,2063.8) scale(0.925,1)" class="pk">23</text>
<text transform="translate(738.8,2135.1) scale(0.925,1)" class="pk">22</text>
<text transform="translate(778.8,2118.9) scale(0.925,1)" class="pk">24</text>
<text transform="translate(805.8,2091.2) scale(0.925,1)" class="pk">25</text>
<text transform="translate(852.2,2105.8) scale(0.925,1)" class="pk">26</text>
<text transform="translate(884.1,2105.8) scale(0.925,1)" class="pk">27</text>
<text transform="translate(1043.2,1865.8) scale(0.925,1)" class="pk">28</text>
<text transform="translate(1542.2,2046) scale(0.925,1)" class="pk">30</text>
<text transform="translate(1548.1,1716.4) scale(0.925,1)" class="pk">31</text>
<text transform="translate(1599.3,2094.5) scale(0.925,1)" class="pk">32</text>
<text transform="translate(1664,1984.1) scale(0.925,1)" class="pk">33</text>
<text transform="translate(1739.7,1865.2) scale(0.925,1)" class="pk">34</text>
<text transform="translate(1831.6,1907.8) scale(0.925,1)" class="pk">35</text>
<text transform="translate(1944.8,1973.3) scale(0.925,1)" class="pk">36</text>
<text transform="translate(214.3,2791.7) scale(0.925,1)" class="pk">1</text>
<text transform="translate(247.6,2759.1) scale(0.925,1)" class="pk">2</text>
<text transform="translate(275.9,2801.2) scale(0.925,1)" class="pk">3</text>
<text transform="translate(284.7,2752.3) scale(0.925,1)" class="pk">4</text>
<text transform="translate(310.3,2793.7) scale(0.925,1)" class="pk">5</text>
<text transform="translate(354.1,2804.2) scale(0.925,1)" class="pk">6</text>
<text transform="translate(383.5,2786.9) scale(0.925,1)" class="pk">7</text>
<text transform="translate(446.3,2776) scale(0.925,1)" class="pk">8</text>
<text transform="translate(452.3,2775) scale(0.925,1)" class="pk">9</text>
<text transform="translate(480.5,2768.1) scale(0.925,1)" class="pk">10</text>
<text transform="translate(488.6,2787.6) scale(0.925,1)" class="pk">11</text>
<text transform="translate(506.5,2798.5) scale(0.925,1)" class="pk">12</text>
<text transform="translate(538.6,2802.3) scale(0.925,1)" class="pk">13</text>
<text transform="translate(544.1,2787.3) scale(0.925,1)" class="pk">14</text>
<text transform="translate(563.8,2797) scale(0.925,1)" class="pk">15</text>
<text transform="translate(599.3,2803.2) scale(0.925,1)" class="pk">16</text>
<text transform="translate(615.1,2807.7) scale(0.925,1)" class="pk">17</text>
<text transform="translate(625.6,2808.8) scale(0.925,1)" class="pk">18</text>
<text transform="translate(629.4,2806.2) scale(0.925,1)" class="pk">19</text>
<text transform="translate(634.3,2805.5) scale(0.925,1)" class="pk">20</text>
<text transform="translate(676.8,2810.3) scale(0.925,1)" class="pk">21</text>
<text transform="translate(737.4,2799.4) scale(0.925,1)" class="pk">22</text>
<text transform="translate(745.6,2782.8) scale(0.925,1)" class="pk">23</text>
<text transform="translate(777.5,2799.4) scale(0.925,1)" class="pk">24</text>
<text transform="translate(805.2,2795.5) scale(0.925,1)" class="pk">25</text>
<text transform="translate(851.7,2796.5) scale(0.925,1)" class="pk">26</text>
<text transform="translate(883.5,2794.9) scale(0.925,1)" class="pk">27</text>
<text transform="translate(1041.8,2812.1) scale(0.925,1)" class="pk">28</text>
<text transform="translate(1056.5,2798.5) scale(0.925,1)" class="pk">29</text>
<text transform="translate(1541.8,2745.7) scale(0.925,1)" class="pk">30</text>
<text transform="translate(1548.1,2757.4) scale(0.925,1)" class="pk">31</text>
<text transform="translate(1599.9,2722.2) scale(0.925,1)" class="pk">32</text>
<text transform="translate(1664.4,2679.6) scale(0.925,1)" class="pk">33</text>
<text transform="translate(1740.1,2690.4) scale(0.925,1)" class="pk">34</text>
<text transform="translate(1832,2721.3) scale(0.925,1)" class="pk">35</text>
<text transform="translate(1945.7,2741.2) scale(0.925,1)" class="pk">36</text>
</svg>
</body></html>
